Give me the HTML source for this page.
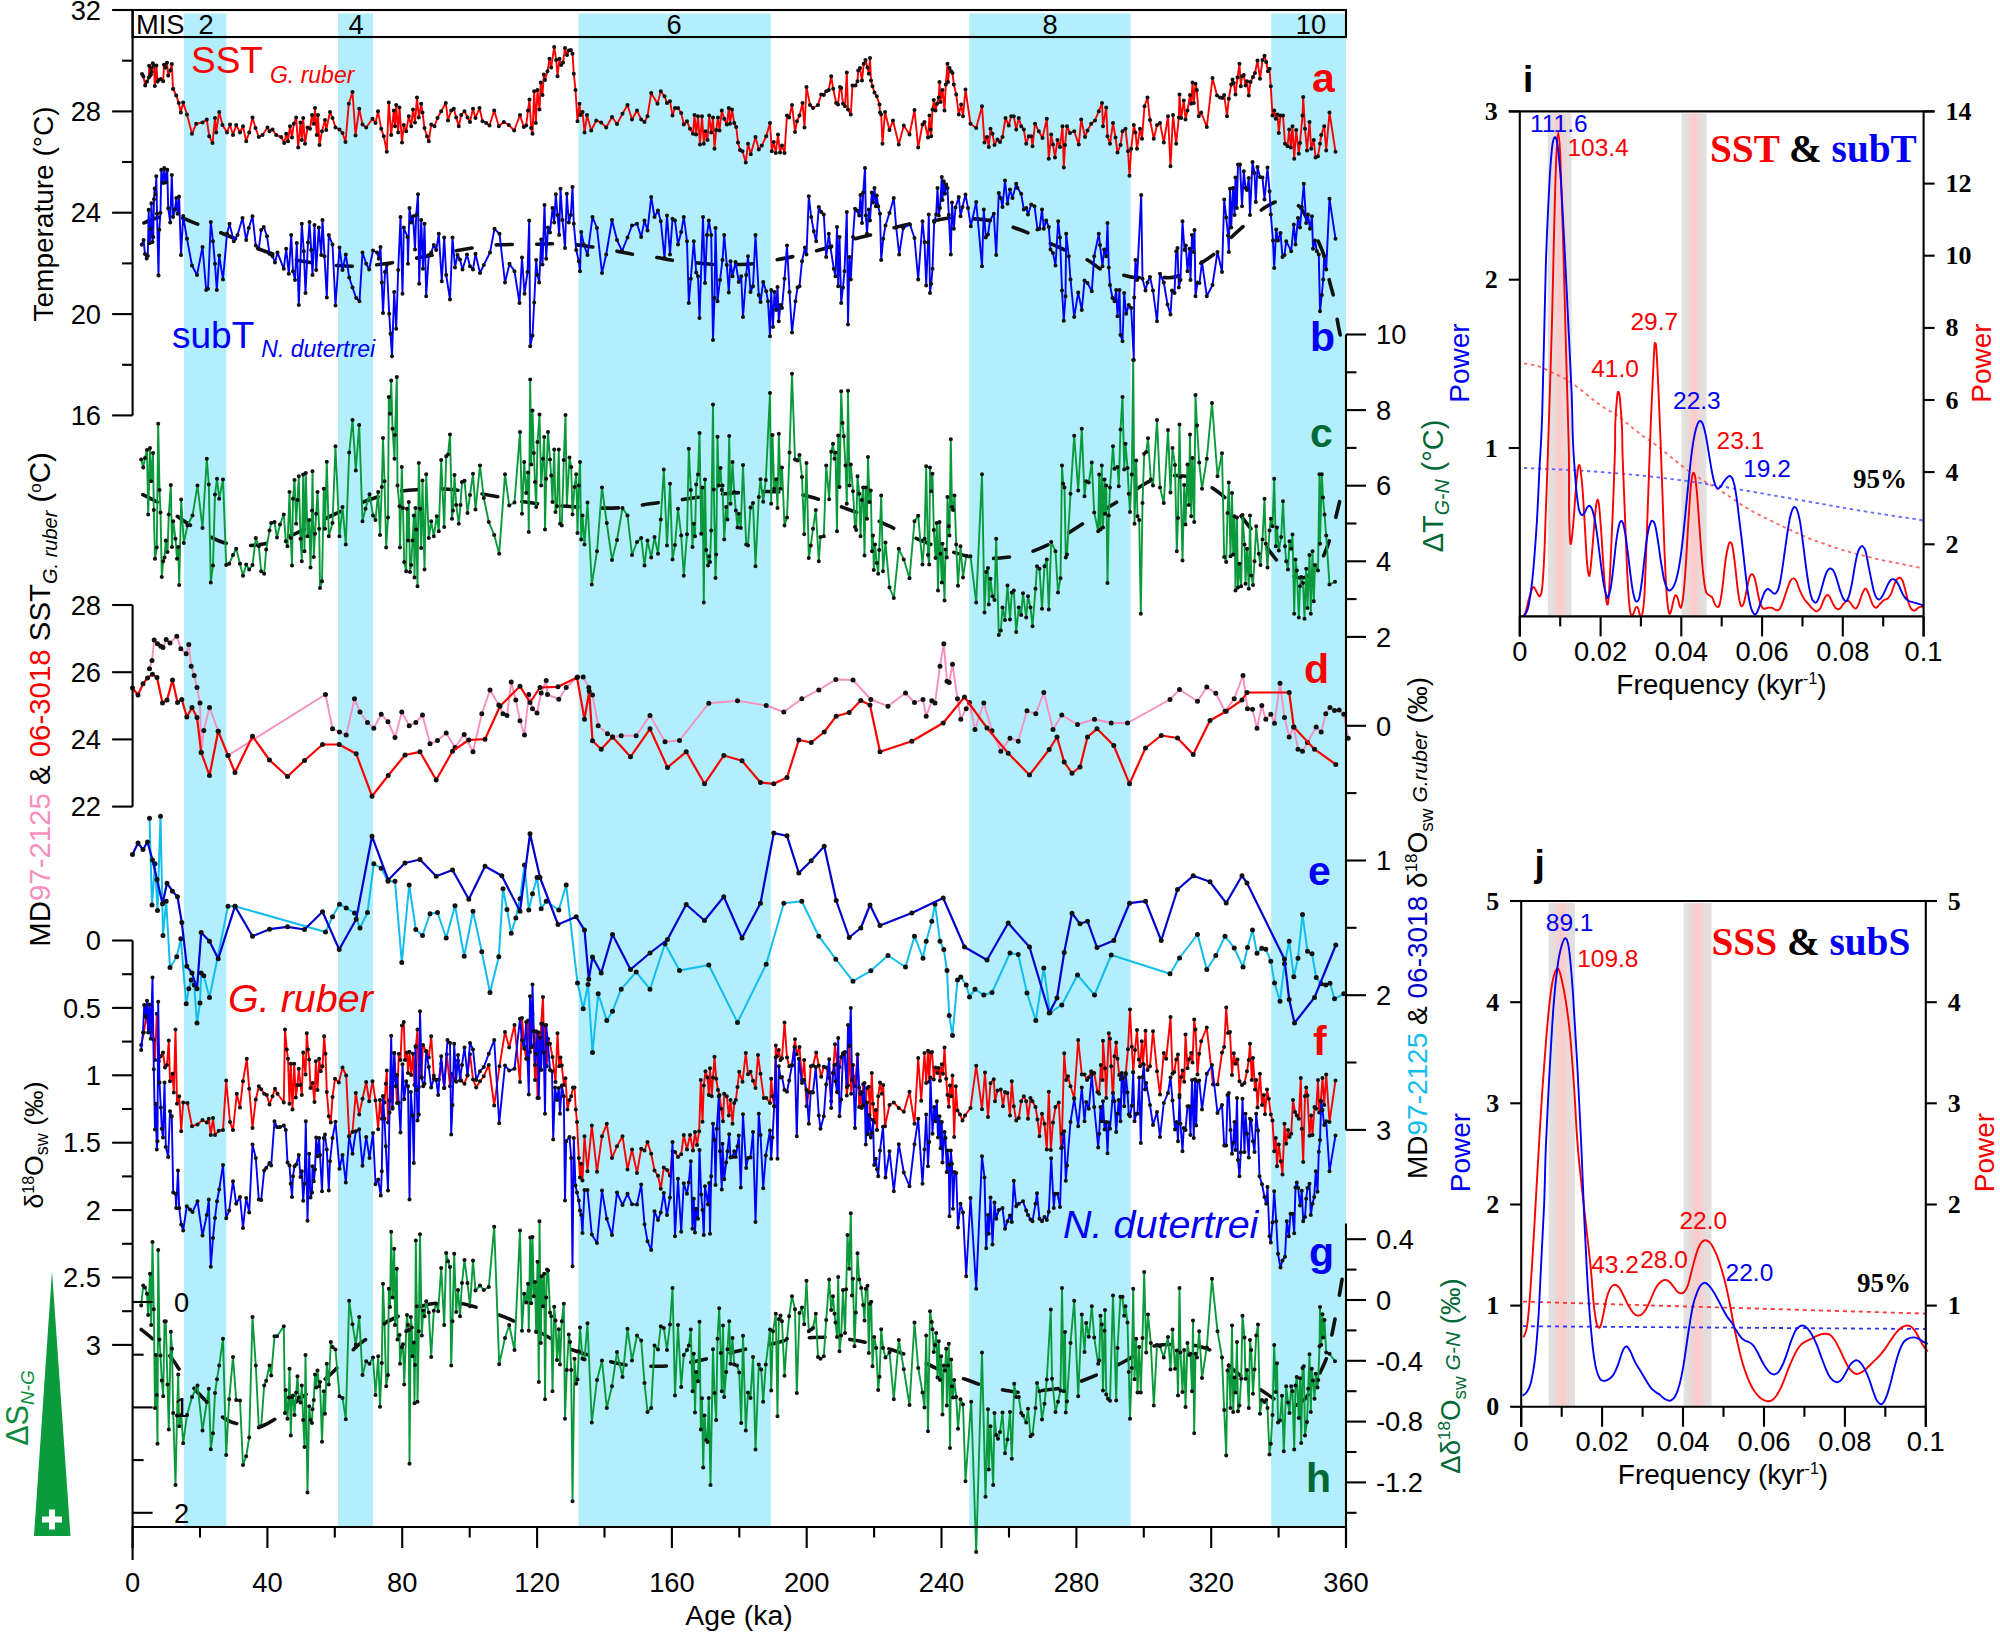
<!DOCTYPE html>
<html><head><meta charset="utf-8"><title>Figure</title><style>html,body{margin:0;padding:0;background:#fff}svg{display:block}</style></head><body>
<svg width="2000" height="1632" viewBox="0 0 2000 1632" font-family="'Liberation Sans', sans-serif" fill="#000">
<rect width="2000" height="1632" fill="#fff"/>
<rect x="184.0" y="13.5" width="42.4" height="1512.5" fill="#b2eefb"/>
<rect x="338.0" y="13.5" width="35.0" height="1512.5" fill="#b2eefb"/>
<rect x="578.5" y="13.5" width="192.3" height="1512.5" fill="#b2eefb"/>
<rect x="969.2" y="13.5" width="161.4" height="1512.5" fill="#b2eefb"/>
<rect x="1271.2" y="13.5" width="74.8" height="1512.5" fill="#b2eefb"/>
<path d="M141.2,223.8C146.0,222.4 160.2,215.3 170.0,215.5C179.8,215.7 189.6,221.3 200.0,225.0C210.4,228.7 222.5,233.4 232.5,237.5C242.5,241.6 250.4,246.0 260.0,249.5C269.6,253.0 280.0,256.4 290.0,258.8C300.0,261.1 309.6,262.5 320.0,263.8C330.4,265.0 341.7,266.2 352.5,266.2C363.3,266.2 373.8,265.2 385.0,263.8C396.2,262.3 407.9,259.7 420.0,257.5C432.1,255.3 445.0,252.6 457.5,250.5C470.0,248.4 482.9,246.0 495.0,245.0C507.1,244.0 520.0,244.7 530.0,244.5C540.0,244.3 546.2,243.6 555.0,243.8C563.8,243.9 572.2,244.2 582.5,245.5C592.8,246.8 608.5,249.8 617.0,251.2C625.5,252.8 627.1,253.5 633.8,254.5C640.4,255.5 650.3,256.5 657.0,257.5C663.7,258.5 666.9,259.6 673.8,260.5C680.6,261.4 691.3,262.3 698.0,263.0C704.7,263.7 707.4,264.2 713.8,264.5C720.1,264.8 729.7,264.6 736.2,264.5C742.8,264.4 746.0,264.6 753.0,263.8C760.0,262.9 771.1,260.8 778.0,259.5C784.9,258.2 787.9,257.8 794.5,256.2C801.1,254.8 811.0,252.3 817.5,250.5C824.0,248.7 827.5,247.5 833.8,245.5C840.0,243.5 848.5,240.6 855.0,238.8C861.5,236.9 865.8,236.4 872.5,234.5C879.2,232.6 888.5,229.3 895.0,227.5C901.5,225.7 904.6,224.9 911.2,223.8C917.9,222.6 928.5,221.5 935.0,220.5C941.5,219.5 943.8,218.3 950.0,218.0C956.2,217.7 965.2,218.2 972.5,218.8C979.8,219.3 986.9,219.8 993.8,221.2C1000.6,222.7 1007.7,225.4 1013.8,227.5C1019.8,229.6 1023.8,231.0 1030.0,233.8C1036.2,236.5 1045.6,241.1 1051.2,243.8C1056.9,246.4 1057.7,246.8 1063.8,249.5C1069.8,252.2 1081.0,256.6 1087.5,260.0C1094.0,263.4 1096.2,267.4 1102.5,270.0C1108.8,272.6 1119.6,274.2 1125.0,275.5C1130.4,276.8 1129.2,277.2 1135.0,277.5C1140.8,277.8 1152.9,277.7 1160.0,277.5C1167.1,277.3 1170.5,278.8 1177.5,276.2C1184.5,273.8 1195.3,266.7 1202.0,262.5C1208.7,258.3 1212.4,255.6 1217.5,251.2C1222.6,246.9 1227.7,240.8 1232.5,236.2C1237.3,231.7 1241.2,228.3 1246.2,223.8C1251.3,219.2 1257.7,212.5 1263.0,208.8C1268.3,205.0 1273.5,202.3 1278.0,201.2C1282.5,200.2 1286.3,201.5 1290.0,202.5C1293.7,203.5 1297.1,204.1 1300.0,207.0C1302.9,209.9 1304.4,214.1 1307.5,220.0C1310.6,225.9 1315.8,236.0 1318.8,242.5C1321.7,249.0 1323.2,252.3 1325.0,258.8C1326.8,265.2 1328.0,274.8 1329.5,281.2C1331.0,287.7 1332.4,290.8 1333.8,297.5C1335.1,304.2 1336.4,314.8 1337.5,321.2C1338.6,327.7 1340.0,333.8 1340.5,336.2" fill="none" stroke="#111" stroke-width="3.6" stroke-linecap="round" stroke-dasharray="16 24.4" stroke-dashoffset="37.5"/>
<path d="M141.2,493.8C144.4,495.4 153.1,499.4 160.0,503.8C166.9,508.1 175.4,515.2 182.5,520.0C189.6,524.8 195.4,528.7 202.5,532.5C209.6,536.3 217.3,540.8 225.0,543.0C232.7,545.2 241.2,545.6 248.8,545.5C256.2,545.4 262.3,544.5 270.0,542.5C277.7,540.5 286.7,537.3 295.0,533.8C303.3,530.2 311.7,525.3 320.0,521.2C328.3,517.2 336.7,513.1 345.0,509.5C353.3,505.9 361.7,502.4 370.0,499.5C378.3,496.6 386.7,493.7 395.0,492.0C403.3,490.3 411.7,490.0 420.0,489.5C428.3,489.0 436.7,488.6 445.0,489.0C453.3,489.4 461.7,490.8 470.0,492.0C478.3,493.2 486.7,494.7 495.0,496.2C503.3,497.8 511.7,499.9 520.0,501.2C528.3,502.6 536.7,503.6 545.0,504.5C553.3,505.4 561.7,505.9 570.0,506.5C578.3,507.1 585.8,507.8 595.0,508.0C604.2,508.2 615.8,508.2 625.0,507.5C634.2,506.8 641.7,504.9 650.0,503.8C658.3,502.6 666.7,501.6 675.0,500.5C683.3,499.4 691.7,498.1 700.0,497.0C708.3,495.9 716.7,494.6 725.0,493.8C733.3,492.9 741.7,492.3 750.0,492.0C758.3,491.7 766.7,491.3 775.0,491.8C783.3,492.2 791.7,492.9 800.0,494.5C808.3,496.1 816.7,498.7 825.0,501.2C833.3,503.8 841.7,507.0 850.0,510.0C858.3,513.0 866.7,516.0 875.0,519.5C883.3,523.0 891.7,527.5 900.0,531.2C908.3,535.0 916.7,538.7 925.0,542.0C933.3,545.3 941.7,548.7 950.0,551.2C958.3,553.8 966.7,556.4 975.0,557.5C983.3,558.6 991.7,558.6 1000.0,558.0C1008.3,557.4 1016.7,556.1 1025.0,553.8C1033.3,551.4 1041.7,547.9 1050.0,543.8C1058.3,539.6 1066.7,534.0 1075.0,528.8C1083.3,523.5 1091.7,517.8 1100.0,512.5C1108.3,507.2 1116.7,502.2 1125.0,497.0C1133.3,491.8 1141.7,484.8 1150.0,481.2C1158.3,477.7 1167.5,475.9 1175.0,475.5C1182.5,475.1 1188.8,476.7 1195.0,478.8C1201.2,480.8 1206.7,484.0 1212.5,488.0C1218.3,492.0 1223.8,495.9 1230.0,502.5C1236.2,509.1 1244.2,520.4 1250.0,527.5C1255.8,534.6 1260.4,539.4 1265.0,545.0C1269.6,550.6 1273.3,556.5 1277.5,561.2C1281.7,566.0 1285.8,571.0 1290.0,573.8C1294.2,576.5 1298.3,578.6 1302.5,578.0C1306.7,577.4 1311.2,574.2 1315.0,570.0C1318.8,565.8 1322.1,559.2 1325.0,552.5C1327.9,545.8 1330.0,538.8 1332.5,530.0C1335.0,521.2 1338.8,505.0 1340.0,500.0" fill="none" stroke="#111" stroke-width="3.6" stroke-linecap="round" stroke-dasharray="16 24.4" stroke-dashoffset="38.4"/>
<path d="M141.2,1329.5C143.1,1331.0 147.7,1334.3 152.5,1338.8C157.3,1343.2 164.6,1349.8 170.0,1356.2C175.4,1362.7 179.6,1370.6 185.0,1377.5C190.4,1384.4 196.0,1390.8 202.5,1397.5C209.0,1404.2 217.5,1413.5 223.8,1418.0C230.0,1422.5 234.4,1422.9 240.0,1424.5C245.6,1426.1 251.2,1428.7 257.5,1427.5C263.8,1426.3 271.2,1421.7 277.5,1417.5C283.8,1413.3 289.2,1407.2 295.0,1402.5C300.8,1397.8 306.2,1394.5 312.5,1389.5C318.8,1384.5 325.4,1379.4 332.5,1372.5C339.6,1365.6 348.8,1354.0 355.0,1348.0C361.2,1342.0 365.2,1340.3 370.0,1336.2C374.8,1332.2 378.3,1327.4 383.8,1323.8C389.2,1320.1 396.2,1317.4 402.5,1314.5C408.8,1311.6 415.2,1308.2 421.2,1306.2C427.3,1304.3 431.9,1303.4 438.8,1303.0C445.6,1302.6 455.4,1302.8 462.5,1303.8C469.6,1304.7 474.8,1306.8 481.2,1308.8C487.7,1310.8 494.8,1313.2 501.2,1315.8C507.7,1318.2 513.5,1321.0 520.0,1323.8C526.5,1326.5 533.3,1329.2 540.0,1332.5C546.7,1335.8 554.2,1340.7 560.0,1343.8C565.8,1346.8 569.6,1348.7 575.0,1350.8C580.4,1352.8 586.0,1354.3 592.5,1356.2C599.0,1358.2 607.3,1361.0 613.8,1362.5C620.2,1364.0 624.5,1364.9 631.2,1365.5C638.0,1366.1 647.6,1366.2 654.5,1366.2C661.4,1366.2 665.5,1366.3 672.5,1365.5C679.5,1364.7 690.0,1362.5 696.2,1361.2C702.5,1360.0 703.7,1359.5 710.0,1358.0C716.3,1356.5 727.5,1353.7 734.2,1352.0C741.0,1350.3 744.3,1349.4 750.8,1348.0C757.2,1346.6 766.5,1345.2 773.0,1343.8C779.5,1342.3 783.3,1340.5 790.0,1339.5C796.7,1338.5 806.1,1337.8 813.0,1337.5C819.9,1337.2 824.5,1337.1 831.2,1337.5C838.0,1337.9 847.1,1339.0 853.8,1340.0C860.4,1341.0 864.8,1342.1 871.2,1343.8C877.7,1345.4 886.1,1347.9 892.5,1350.0C898.9,1352.1 903.3,1353.8 909.5,1356.2C915.7,1358.8 922.8,1361.9 929.5,1365.0C936.2,1368.1 943.7,1372.5 950.0,1375.0C956.3,1377.5 961.7,1378.1 967.5,1380.0C973.3,1381.9 978.5,1384.5 985.0,1386.2C991.5,1388.0 999.8,1389.5 1006.2,1390.5C1012.7,1391.5 1016.5,1392.7 1023.8,1392.5C1031.0,1392.3 1043.1,1390.4 1050.0,1389.5C1056.9,1388.6 1059.1,1388.7 1065.0,1387.0C1070.9,1385.3 1079.2,1382.0 1085.5,1379.5C1091.8,1377.0 1096.8,1374.8 1103.0,1372.0C1109.2,1369.2 1116.3,1365.8 1122.5,1362.5C1128.7,1359.2 1134.4,1355.3 1140.0,1352.5C1145.6,1349.7 1150.0,1346.8 1156.2,1345.5C1162.5,1344.2 1170.4,1344.4 1177.5,1344.5C1184.6,1344.6 1192.5,1344.8 1198.8,1346.2C1205.0,1347.7 1209.0,1348.8 1215.0,1353.0C1221.0,1357.2 1229.2,1366.3 1235.0,1371.2C1240.8,1376.2 1244.9,1378.9 1250.0,1382.5C1255.1,1386.1 1260.5,1389.7 1265.5,1393.0C1270.5,1396.3 1275.5,1400.3 1280.0,1402.5C1284.5,1404.7 1288.5,1406.7 1292.5,1406.2C1296.5,1405.8 1300.4,1403.1 1303.8,1400.0C1307.1,1396.9 1309.4,1392.9 1312.5,1387.5C1315.6,1382.1 1319.9,1373.3 1322.5,1367.5C1325.1,1361.7 1325.7,1361.7 1328.0,1352.5C1330.3,1343.3 1333.8,1325.6 1336.2,1312.5C1338.8,1299.4 1341.9,1280.2 1343.0,1273.8" fill="none" stroke="#111" stroke-width="3.6" stroke-linecap="round" stroke-dasharray="16 24.4" stroke-dashoffset="1.4"/>
<polyline points="142.0,74.0 143.4,76.4 145.2,85.4 147.0,81.6 148.8,77.6 149.2,65.8 150.0,76.0 151.0,74.4 151.2,68.0 151.6,72.0 152.8,63.2 154.0,65.6 154.8,86.0 156.4,65.6 157.6,81.6 158.8,80.0 160.8,79.0 163.2,81.2 164.0,64.8 165.6,67.6 167.0,62.8 168.2,75.6 170.4,70.2 171.8,64.0 173.0,89.0 173.2,88.8 176.2,95.5 178.8,103.0 180.8,112.5 183.2,102.5 187.0,114.5 192.0,133.8 196.2,123.8 202.5,122.5 206.8,119.5 209.2,136.2 212.5,143.0 215.0,118.0 216.2,132.5 219.2,112.0 222.5,125.0 227.0,132.5 230.0,124.5 233.0,135.0 236.2,125.0 240.0,132.5 243.0,126.2 246.2,141.2 249.2,132.5 252.5,117.5 255.5,128.0 258.8,137.0 262.5,135.0 267.5,127.5 269.5,131.2 272.5,129.5 276.2,135.0 281.2,137.0 284.2,143.0 286.2,133.8 288.0,141.2 290.0,126.2 292.0,137.5 293.8,123.8 296.2,117.5 298.2,147.5 300.5,122.5 301.8,140.0 303.2,118.0 305.0,143.8 307.5,127.5 310.0,128.8 312.0,115.0 313.8,123.8 315.0,108.0 316.8,135.0 318.0,115.0 319.5,145.0 322.0,131.2 325.0,120.0 326.2,130.0 330.0,112.0 332.5,118.0 335.5,127.5 339.5,129.5 342.5,133.0 345.5,142.0 348.8,103.8 352.5,92.0 355.5,135.5 359.2,108.8 362.5,124.5 366.2,127.5 372.5,118.8 375.5,123.0 378.0,111.2 381.2,128.8 383.8,136.2 386.8,151.8 388.8,102.5 391.2,135.0 393.8,110.5 395.0,126.2 396.2,105.0 398.2,132.5 399.5,107.5 402.0,142.5 403.8,125.0 406.2,131.2 408.8,116.2 411.2,126.2 413.0,109.5 415.0,122.5 417.0,97.5 418.8,117.5 421.2,103.8 422.5,112.5 424.5,128.0 427.0,136.2 428.8,141.2 431.2,124.5 434.5,126.2 437.5,118.0 441.2,111.2 445.8,103.0 448.0,120.5 451.2,110.5 453.8,108.8 456.2,117.5 458.8,126.2 461.2,115.0 464.5,111.2 467.5,117.5 470.0,122.0 473.0,108.8 475.5,118.0 479.5,108.0 482.5,121.2 486.2,123.0 489.5,125.5 494.2,110.5 498.8,126.2 503.8,122.0 508.8,125.0 514.2,130.5 520.0,115.0 523.8,127.0 526.2,125.5 528.0,110.5 529.5,99.5 531.2,128.0 532.5,133.8 534.2,91.2 535.8,123.0 537.5,90.0 539.5,109.5 540.8,82.5 542.5,95.0 543.8,74.5 545.0,80.0 547.5,71.2 549.5,58.8 551.2,67.5 554.2,47.0 556.2,60.0 557.5,76.2 559.5,58.8 561.2,65.0 563.0,62.5 565.0,48.0 567.0,55.0 568.8,50.5 570.8,50.0 572.5,53.8 573.8,73.8 575.5,90.0 577.5,121.2 579.5,103.8 580.5,115.0 582.5,112.0 584.5,132.5 587.0,115.0 591.2,130.5 596.2,120.5 601.2,122.5 606.2,127.5 612.0,117.0 617.0,124.0 622.5,113.8 627.5,105.0 632.0,119.5 637.0,110.5 641.2,119.5 644.5,122.0 647.5,116.2 651.2,93.0 657.5,103.8 660.8,91.2 664.5,96.2 667.0,103.0 670.0,101.2 672.5,115.5 675.0,108.0 678.0,108.0 681.2,113.0 683.8,124.5 687.0,121.2 690.0,128.8 693.0,133.8 694.5,115.0 696.2,134.5 698.0,116.2 700.0,144.5 702.0,116.2 703.8,143.8 705.5,131.2 707.5,140.0 709.2,115.5 711.2,132.5 713.0,117.5 714.5,148.8 716.2,130.0 718.0,117.5 719.5,130.5 721.8,110.5 724.2,118.8 726.8,124.5 728.8,108.0 730.0,123.8 732.0,109.5 734.2,123.0 736.2,127.0 738.0,142.5 740.0,150.0 742.5,151.2 745.8,162.5 748.0,143.8 750.8,154.2 755.5,137.0 758.8,149.5 761.8,145.5 766.2,136.2 770.0,123.0 771.8,151.2 773.8,142.0 775.8,153.0 778.0,134.5 780.0,152.5 782.0,145.5 784.5,153.0 787.0,115.5 789.2,117.5 792.0,105.0 795.0,132.0 797.0,121.2 799.5,115.5 802.5,103.0 804.5,127.5 806.5,87.0 810.0,105.0 813.0,108.0 818.0,105.0 821.2,94.5 823.8,95.0 826.2,91.2 828.8,90.0 831.2,76.2 833.2,88.8 836.2,103.0 838.0,104.5 840.0,87.0 841.2,88.0 843.0,103.8 845.0,106.2 846.8,72.5 848.0,109.5 850.8,114.5 852.5,85.5 855.5,85.5 857.5,81.2 858.2,70.5 860.0,68.0 862.0,80.5 863.8,63.8 865.5,60.0 867.5,67.5 868.8,73.8 870.0,58.0 871.0,80.5 872.5,86.2 874.5,92.5 876.8,96.2 879.5,104.5 880.0,112.5 881.2,114.5 882.5,143.8 885.0,112.0 889.5,130.0 893.0,120.5 898.8,144.5 903.8,125.5 909.5,134.5 914.5,110.0 918.2,147.5 922.5,124.5 924.5,122.0 928.0,137.5 929.5,115.5 930.5,129.5 931.2,136.2 932.5,109.5 933.8,100.0 935.5,110.5 937.0,103.8 938.8,97.5 939.5,82.0 940.5,102.0 942.5,90.0 944.5,110.5 945.8,84.5 947.5,63.8 948.0,82.0 949.5,68.0 951.2,71.2 952.5,73.0 953.8,84.5 956.2,94.5 958.8,114.5 961.2,104.5 963.0,116.2 965.5,89.5 970.5,123.8 976.2,128.0 982.0,106.2 984.5,142.5 987.0,137.0 988.8,147.0 990.5,128.8 992.5,133.8 994.5,145.0 997.5,139.5 1000.0,142.0 1002.5,137.0 1005.5,118.0 1008.8,125.5 1011.2,116.2 1013.8,116.2 1016.2,129.5 1018.8,118.0 1021.2,126.2 1023.8,129.5 1026.2,143.8 1028.8,136.2 1031.2,136.2 1032.5,146.2 1035.0,123.8 1038.8,131.2 1042.5,138.0 1046.8,118.8 1048.8,158.8 1051.2,134.5 1053.0,144.5 1055.0,157.5 1057.5,140.0 1060.0,147.0 1062.5,126.2 1063.8,167.5 1065.0,145.0 1067.0,126.2 1070.0,133.0 1074.2,131.2 1078.8,144.5 1081.2,119.5 1085.0,137.0 1087.5,130.5 1091.2,123.8 1095.0,120.5 1098.8,111.2 1102.0,103.0 1103.0,126.2 1106.2,107.5 1107.5,136.2 1110.0,143.8 1113.0,123.0 1115.5,137.5 1117.5,152.5 1120.5,145.0 1122.5,131.2 1125.5,128.8 1128.0,151.2 1129.5,175.8 1131.2,148.8 1133.8,125.0 1135.5,132.5 1137.0,148.8 1140.0,128.8 1142.0,138.8 1144.5,106.2 1147.5,97.5 1150.0,120.0 1153.8,138.8 1157.0,125.0 1160.0,123.0 1163.8,142.5 1168.0,116.2 1170.5,166.2 1173.0,115.0 1176.2,143.8 1178.8,117.5 1179.5,94.5 1181.2,118.0 1183.8,100.5 1185.5,119.5 1187.5,110.5 1190.0,95.0 1191.2,103.8 1192.5,82.5 1193.8,103.0 1195.5,83.8 1196.8,90.0 1198.8,116.2 1201.2,112.5 1206.8,127.0 1212.5,78.0 1217.0,95.5 1220.0,97.5 1222.5,98.0 1224.2,95.0 1227.0,116.2 1228.8,98.8 1231.2,84.5 1232.5,79.5 1233.8,83.0 1235.5,94.5 1237.5,77.5 1239.5,63.8 1240.8,86.2 1242.0,76.2 1243.8,75.0 1245.5,85.5 1247.0,81.2 1248.8,95.5 1250.5,82.0 1253.0,77.0 1255.0,73.0 1257.5,60.5 1260.0,78.8 1262.5,60.0 1264.5,55.8 1266.2,62.0 1268.0,71.2 1269.5,68.8 1270.8,86.2 1272.5,115.5 1274.2,110.5 1275.8,118.8 1277.5,114.5 1278.8,133.0 1280.5,115.5 1283.0,115.5 1285.0,143.8 1287.5,146.2 1289.2,129.5 1290.8,147.5 1292.5,126.2 1294.2,158.8 1296.2,130.0 1298.8,153.8 1300.0,143.0 1302.5,115.5 1303.2,97.0 1305.0,128.8 1307.0,150.5 1309.5,122.0 1311.2,148.8 1313.8,140.0 1315.5,157.5 1318.0,156.2 1320.0,143.8 1321.2,135.0 1324.2,126.2 1326.2,150.5 1329.5,112.5 1335.5,151.8" fill="none" stroke="#fa0000" stroke-width="1.9" stroke-linejoin="round" />
<path d="M142.0,74.0h0M143.4,76.4h0M145.2,85.4h0M147.0,81.6h0M148.8,77.6h0M149.2,65.8h0M150.0,76.0h0M151.0,74.4h0M151.2,68.0h0M151.6,72.0h0M152.8,63.2h0M154.0,65.6h0M154.8,86.0h0M156.4,65.6h0M157.6,81.6h0M158.8,80.0h0M160.8,79.0h0M163.2,81.2h0M164.0,64.8h0M165.6,67.6h0M167.0,62.8h0M168.2,75.6h0M170.4,70.2h0M171.8,64.0h0M173.0,89.0h0M173.2,88.8h0M176.2,95.5h0M178.8,103.0h0M180.8,112.5h0M183.2,102.5h0M187.0,114.5h0M192.0,133.8h0M196.2,123.8h0M202.5,122.5h0M206.8,119.5h0M209.2,136.2h0M212.5,143.0h0M215.0,118.0h0M216.2,132.5h0M219.2,112.0h0M222.5,125.0h0M227.0,132.5h0M230.0,124.5h0M233.0,135.0h0M236.2,125.0h0M240.0,132.5h0M243.0,126.2h0M246.2,141.2h0M249.2,132.5h0M252.5,117.5h0M255.5,128.0h0M258.8,137.0h0M262.5,135.0h0M267.5,127.5h0M269.5,131.2h0M272.5,129.5h0M276.2,135.0h0M281.2,137.0h0M284.2,143.0h0M286.2,133.8h0M288.0,141.2h0M290.0,126.2h0M292.0,137.5h0M293.8,123.8h0M296.2,117.5h0M298.2,147.5h0M300.5,122.5h0M301.8,140.0h0M303.2,118.0h0M305.0,143.8h0M307.5,127.5h0M310.0,128.8h0M312.0,115.0h0M313.8,123.8h0M315.0,108.0h0M316.8,135.0h0M318.0,115.0h0M319.5,145.0h0M322.0,131.2h0M325.0,120.0h0M326.2,130.0h0M330.0,112.0h0M332.5,118.0h0M335.5,127.5h0M339.5,129.5h0M342.5,133.0h0M345.5,142.0h0M348.8,103.8h0M352.5,92.0h0M355.5,135.5h0M359.2,108.8h0M362.5,124.5h0M366.2,127.5h0M372.5,118.8h0M375.5,123.0h0M378.0,111.2h0M381.2,128.8h0M383.8,136.2h0M386.8,151.8h0M388.8,102.5h0M391.2,135.0h0M393.8,110.5h0M395.0,126.2h0M396.2,105.0h0M398.2,132.5h0M399.5,107.5h0M402.0,142.5h0M403.8,125.0h0M406.2,131.2h0M408.8,116.2h0M411.2,126.2h0M413.0,109.5h0M415.0,122.5h0M417.0,97.5h0M418.8,117.5h0M421.2,103.8h0M422.5,112.5h0M424.5,128.0h0M427.0,136.2h0M428.8,141.2h0M431.2,124.5h0M434.5,126.2h0M437.5,118.0h0M441.2,111.2h0M445.8,103.0h0M448.0,120.5h0M451.2,110.5h0M453.8,108.8h0M456.2,117.5h0M458.8,126.2h0M461.2,115.0h0M464.5,111.2h0M467.5,117.5h0M470.0,122.0h0M473.0,108.8h0M475.5,118.0h0M479.5,108.0h0M482.5,121.2h0M486.2,123.0h0M489.5,125.5h0M494.2,110.5h0M498.8,126.2h0M503.8,122.0h0M508.8,125.0h0M514.2,130.5h0M520.0,115.0h0M523.8,127.0h0M526.2,125.5h0M528.0,110.5h0M529.5,99.5h0M531.2,128.0h0M532.5,133.8h0M534.2,91.2h0M535.8,123.0h0M537.5,90.0h0M539.5,109.5h0M540.8,82.5h0M542.5,95.0h0M543.8,74.5h0M545.0,80.0h0M547.5,71.2h0M549.5,58.8h0M551.2,67.5h0M554.2,47.0h0M556.2,60.0h0M557.5,76.2h0M559.5,58.8h0M561.2,65.0h0M563.0,62.5h0M565.0,48.0h0M567.0,55.0h0M568.8,50.5h0M570.8,50.0h0M572.5,53.8h0M573.8,73.8h0M575.5,90.0h0M577.5,121.2h0M579.5,103.8h0M580.5,115.0h0M582.5,112.0h0M584.5,132.5h0M587.0,115.0h0M591.2,130.5h0M596.2,120.5h0M601.2,122.5h0M606.2,127.5h0M612.0,117.0h0M617.0,124.0h0M622.5,113.8h0M627.5,105.0h0M632.0,119.5h0M637.0,110.5h0M641.2,119.5h0M644.5,122.0h0M647.5,116.2h0M651.2,93.0h0M657.5,103.8h0M660.8,91.2h0M664.5,96.2h0M667.0,103.0h0M670.0,101.2h0M672.5,115.5h0M675.0,108.0h0M678.0,108.0h0M681.2,113.0h0M683.8,124.5h0M687.0,121.2h0M690.0,128.8h0M693.0,133.8h0M694.5,115.0h0M696.2,134.5h0M698.0,116.2h0M700.0,144.5h0M702.0,116.2h0M703.8,143.8h0M705.5,131.2h0M707.5,140.0h0M709.2,115.5h0M711.2,132.5h0M713.0,117.5h0M714.5,148.8h0M716.2,130.0h0M718.0,117.5h0M719.5,130.5h0M721.8,110.5h0M724.2,118.8h0M726.8,124.5h0M728.8,108.0h0M730.0,123.8h0M732.0,109.5h0M734.2,123.0h0M736.2,127.0h0M738.0,142.5h0M740.0,150.0h0M742.5,151.2h0M745.8,162.5h0M748.0,143.8h0M750.8,154.2h0M755.5,137.0h0M758.8,149.5h0M761.8,145.5h0M766.2,136.2h0M770.0,123.0h0M771.8,151.2h0M773.8,142.0h0M775.8,153.0h0M778.0,134.5h0M780.0,152.5h0M782.0,145.5h0M784.5,153.0h0M787.0,115.5h0M789.2,117.5h0M792.0,105.0h0M795.0,132.0h0M797.0,121.2h0M799.5,115.5h0M802.5,103.0h0M804.5,127.5h0M806.5,87.0h0M810.0,105.0h0M813.0,108.0h0M818.0,105.0h0M821.2,94.5h0M823.8,95.0h0M826.2,91.2h0M828.8,90.0h0M831.2,76.2h0M833.2,88.8h0M836.2,103.0h0M838.0,104.5h0M840.0,87.0h0M841.2,88.0h0M843.0,103.8h0M845.0,106.2h0M846.8,72.5h0M848.0,109.5h0M850.8,114.5h0M852.5,85.5h0M855.5,85.5h0M857.5,81.2h0M858.2,70.5h0M860.0,68.0h0M862.0,80.5h0M863.8,63.8h0M865.5,60.0h0M867.5,67.5h0M868.8,73.8h0M870.0,58.0h0M871.0,80.5h0M872.5,86.2h0M874.5,92.5h0M876.8,96.2h0M879.5,104.5h0M880.0,112.5h0M881.2,114.5h0M882.5,143.8h0M885.0,112.0h0M889.5,130.0h0M893.0,120.5h0M898.8,144.5h0M903.8,125.5h0M909.5,134.5h0M914.5,110.0h0M918.2,147.5h0M922.5,124.5h0M924.5,122.0h0M928.0,137.5h0M929.5,115.5h0M930.5,129.5h0M931.2,136.2h0M932.5,109.5h0M933.8,100.0h0M935.5,110.5h0M937.0,103.8h0M938.8,97.5h0M939.5,82.0h0M940.5,102.0h0M942.5,90.0h0M944.5,110.5h0M945.8,84.5h0M947.5,63.8h0M948.0,82.0h0M949.5,68.0h0M951.2,71.2h0M952.5,73.0h0M953.8,84.5h0M956.2,94.5h0M958.8,114.5h0M961.2,104.5h0M963.0,116.2h0M965.5,89.5h0M970.5,123.8h0M976.2,128.0h0M982.0,106.2h0M984.5,142.5h0M987.0,137.0h0M988.8,147.0h0M990.5,128.8h0M992.5,133.8h0M994.5,145.0h0M997.5,139.5h0M1000.0,142.0h0M1002.5,137.0h0M1005.5,118.0h0M1008.8,125.5h0M1011.2,116.2h0M1013.8,116.2h0M1016.2,129.5h0M1018.8,118.0h0M1021.2,126.2h0M1023.8,129.5h0M1026.2,143.8h0M1028.8,136.2h0M1031.2,136.2h0M1032.5,146.2h0M1035.0,123.8h0M1038.8,131.2h0M1042.5,138.0h0M1046.8,118.8h0M1048.8,158.8h0M1051.2,134.5h0M1053.0,144.5h0M1055.0,157.5h0M1057.5,140.0h0M1060.0,147.0h0M1062.5,126.2h0M1063.8,167.5h0M1065.0,145.0h0M1067.0,126.2h0M1070.0,133.0h0M1074.2,131.2h0M1078.8,144.5h0M1081.2,119.5h0M1085.0,137.0h0M1087.5,130.5h0M1091.2,123.8h0M1095.0,120.5h0M1098.8,111.2h0M1102.0,103.0h0M1103.0,126.2h0M1106.2,107.5h0M1107.5,136.2h0M1110.0,143.8h0M1113.0,123.0h0M1115.5,137.5h0M1117.5,152.5h0M1120.5,145.0h0M1122.5,131.2h0M1125.5,128.8h0M1128.0,151.2h0M1129.5,175.8h0M1131.2,148.8h0M1133.8,125.0h0M1135.5,132.5h0M1137.0,148.8h0M1140.0,128.8h0M1142.0,138.8h0M1144.5,106.2h0M1147.5,97.5h0M1150.0,120.0h0M1153.8,138.8h0M1157.0,125.0h0M1160.0,123.0h0M1163.8,142.5h0M1168.0,116.2h0M1170.5,166.2h0M1173.0,115.0h0M1176.2,143.8h0M1178.8,117.5h0M1179.5,94.5h0M1181.2,118.0h0M1183.8,100.5h0M1185.5,119.5h0M1187.5,110.5h0M1190.0,95.0h0M1191.2,103.8h0M1192.5,82.5h0M1193.8,103.0h0M1195.5,83.8h0M1196.8,90.0h0M1198.8,116.2h0M1201.2,112.5h0M1206.8,127.0h0M1212.5,78.0h0M1217.0,95.5h0M1220.0,97.5h0M1222.5,98.0h0M1224.2,95.0h0M1227.0,116.2h0M1228.8,98.8h0M1231.2,84.5h0M1232.5,79.5h0M1233.8,83.0h0M1235.5,94.5h0M1237.5,77.5h0M1239.5,63.8h0M1240.8,86.2h0M1242.0,76.2h0M1243.8,75.0h0M1245.5,85.5h0M1247.0,81.2h0M1248.8,95.5h0M1250.5,82.0h0M1253.0,77.0h0M1255.0,73.0h0M1257.5,60.5h0M1260.0,78.8h0M1262.5,60.0h0M1264.5,55.8h0M1266.2,62.0h0M1268.0,71.2h0M1269.5,68.8h0M1270.8,86.2h0M1272.5,115.5h0M1274.2,110.5h0M1275.8,118.8h0M1277.5,114.5h0M1278.8,133.0h0M1280.5,115.5h0M1283.0,115.5h0M1285.0,143.8h0M1287.5,146.2h0M1289.2,129.5h0M1290.8,147.5h0M1292.5,126.2h0M1294.2,158.8h0M1296.2,130.0h0M1298.8,153.8h0M1300.0,143.0h0M1302.5,115.5h0M1303.2,97.0h0M1305.0,128.8h0M1307.0,150.5h0M1309.5,122.0h0M1311.2,148.8h0M1313.8,140.0h0M1315.5,157.5h0M1318.0,156.2h0M1320.0,143.8h0M1321.2,135.0h0M1324.2,126.2h0M1326.2,150.5h0M1329.5,112.5h0M1335.5,151.8h0" fill="none" stroke="#111" stroke-width="4.10" stroke-linecap="round"/>
<polyline points="141.8,244.6 143.6,240.1 145.0,254.0 146.7,258.5 147.8,256.0 148.7,209.9 149.6,243.3 151.0,228.8 151.4,203.4 152.5,242.0 153.2,237.1 154.0,199.3 154.7,188.6 155.6,194.2 156.3,176.2 157.0,213.7 158.5,275.4 159.3,229.8 160.5,212.8 161.3,169.9 163.0,183.0 164.3,168.0 165.6,182.4 167.3,169.9 168.2,208.3 170.2,222.5 171.8,175.1 173.1,216.9 175.0,209.4 176.3,198.0 177.6,213.7 179.1,196.5 181.0,255.1 183.2,216.1 187.0,238.8 192.0,265.5 197.0,275.0 202.5,247.0 206.2,290.0 208.0,288.8 210.8,222.0 213.0,241.2 215.0,263.8 216.8,290.0 219.2,255.5 223.0,279.5 227.0,233.8 229.5,223.8 233.8,241.2 237.5,235.0 242.5,218.0 246.2,240.0 248.8,228.0 252.5,216.2 255.8,245.5 258.8,248.8 261.2,230.0 263.8,227.0 267.0,236.2 269.5,253.8 272.5,256.2 275.0,262.5 277.5,252.5 283.8,268.8 286.2,248.8 288.8,273.8 291.2,235.0 293.0,271.2 295.0,280.0 296.8,243.0 298.8,305.0 301.8,223.8 303.8,251.2 305.5,293.0 308.0,242.5 309.5,222.0 311.2,250.0 312.5,275.0 314.5,225.0 316.2,270.0 318.8,227.5 321.2,255.0 322.5,220.0 324.5,256.2 326.8,297.5 328.8,235.0 332.5,244.5 335.5,305.5 339.5,247.5 342.5,270.0 345.8,254.5 349.2,277.5 352.5,287.5 356.2,298.0 359.5,301.2 362.5,252.5 366.2,263.8 369.2,269.5 373.0,250.5 377.0,252.5 378.8,258.8 380.5,247.0 381.8,282.5 383.0,313.0 385.0,272.0 386.8,265.0 389.2,313.8 390.5,333.8 392.0,356.2 394.2,292.0 396.2,328.8 398.2,270.0 400.5,217.0 402.5,293.8 403.8,227.5 407.5,237.0 408.0,263.8 409.5,208.0 411.2,222.5 413.0,216.2 415.0,249.5 416.2,215.0 418.0,194.2 419.2,283.8 421.2,220.0 423.0,268.8 424.5,223.8 426.2,296.2 428.8,255.0 431.2,252.5 433.8,245.0 436.2,250.0 438.8,233.8 441.8,281.2 444.2,237.5 446.2,275.0 450.0,299.5 452.5,237.5 455.0,267.5 457.5,255.0 460.0,259.5 462.5,269.5 467.0,254.5 470.0,266.2 473.0,269.5 475.5,253.8 480.0,273.0 483.8,265.0 490.0,252.5 494.5,228.8 499.5,233.8 505.0,282.5 509.5,263.8 514.5,271.2 519.5,303.0 522.0,257.5 524.5,293.8 527.5,272.0 529.2,220.5 530.2,346.2 532.5,335.5 534.2,302.5 536.2,260.0 537.5,275.0 539.2,282.5 541.2,239.5 542.5,264.5 544.5,205.0 546.2,258.8 548.0,227.5 550.0,232.5 552.5,208.0 554.2,222.5 555.8,194.2 557.5,215.0 559.2,235.0 560.5,188.8 562.5,220.0 565.0,248.0 566.8,193.8 568.8,222.5 570.8,215.0 572.5,187.0 573.8,223.8 576.2,250.0 578.8,261.2 580.0,271.2 581.2,232.0 583.8,244.5 587.5,255.0 592.5,217.0 597.0,228.0 602.0,273.0 606.2,254.5 612.0,220.0 617.0,240.0 622.0,251.2 627.5,237.5 632.0,225.5 637.0,223.8 641.2,237.0 644.5,220.5 647.5,230.5 651.2,197.0 654.5,217.0 658.0,210.5 660.8,221.2 664.5,258.0 667.0,215.5 670.0,254.5 672.5,218.8 675.0,220.5 678.0,244.5 681.2,232.0 683.8,217.0 687.0,241.2 688.8,303.0 690.8,278.8 693.8,241.2 696.2,272.5 698.0,276.2 699.5,318.0 703.0,217.0 705.0,283.0 707.0,235.0 708.8,220.5 711.2,235.0 713.0,340.0 714.5,298.0 715.5,228.0 717.5,301.2 720.0,280.0 722.5,260.0 724.2,235.0 726.8,265.0 728.8,292.5 730.5,261.2 732.5,276.2 735.5,262.0 738.8,282.0 741.2,276.2 743.0,317.0 746.2,275.0 748.0,256.2 750.5,292.0 753.0,286.2 755.5,235.0 758.8,295.0 760.5,302.0 763.2,282.0 766.2,291.2 768.0,301.2 770.0,336.2 771.2,290.0 773.0,327.0 774.5,292.0 776.2,310.0 777.5,287.0 778.8,321.2 780.5,305.0 782.0,308.0 784.5,278.8 787.0,245.5 789.5,292.0 792.0,332.5 795.5,301.2 797.5,287.5 799.5,286.2 802.0,261.2 805.0,247.5 806.5,254.5 808.8,196.2 811.2,217.0 813.8,231.2 816.2,241.2 818.8,207.0 821.2,212.0 823.8,214.5 826.2,257.0 828.8,233.8 830.5,247.5 833.8,268.8 835.5,276.2 837.0,227.0 838.2,286.2 839.5,237.0 841.2,303.0 843.0,287.5 844.5,271.2 846.8,212.0 848.0,324.5 849.5,257.0 850.8,279.5 853.0,237.0 855.0,208.8 857.0,210.5 859.2,215.5 860.5,195.0 862.0,223.0 863.2,192.5 865.0,168.0 865.8,215.5 867.0,233.8 868.8,209.5 870.0,220.5 871.8,192.5 873.0,202.5 874.5,188.0 875.8,206.2 876.8,195.5 878.2,206.2 880.0,213.8 881.2,260.0 883.2,238.8 885.5,225.5 889.5,213.0 893.8,198.0 896.2,227.5 899.2,254.5 903.2,228.0 910.0,224.5 914.5,238.0 918.2,279.5 922.5,221.2 924.5,242.0 926.2,285.5 928.0,242.5 928.8,214.5 930.0,293.0 931.2,283.8 932.5,268.8 934.2,222.0 936.2,214.5 937.5,188.0 938.8,215.5 940.0,208.0 941.8,177.0 942.5,200.0 943.8,181.2 945.0,193.8 946.2,184.5 947.5,188.0 948.8,215.0 950.8,254.5 952.0,202.5 953.8,228.8 955.5,207.5 958.8,197.0 960.5,216.2 962.5,207.0 965.5,194.5 968.0,208.0 970.8,226.2 976.2,202.0 982.0,266.2 983.8,209.5 985.8,237.5 988.0,234.5 990.0,220.5 993.8,213.8 996.2,255.0 998.8,193.0 1000.8,198.0 1002.5,207.0 1005.0,180.5 1007.5,203.8 1010.0,189.5 1012.5,198.0 1016.2,183.8 1017.5,188.0 1021.2,193.8 1023.8,209.5 1026.2,208.0 1028.0,214.5 1031.2,204.5 1034.5,206.2 1037.5,229.5 1039.5,228.8 1042.0,209.5 1043.8,228.8 1046.2,220.5 1048.8,227.0 1050.5,249.5 1053.0,253.0 1055.5,265.5 1058.2,221.2 1060.0,237.5 1062.0,290.5 1063.8,320.8 1065.5,296.2 1066.2,233.8 1068.8,256.2 1070.5,279.5 1074.2,317.0 1078.2,292.5 1081.8,310.0 1084.5,280.5 1087.5,283.0 1091.8,291.2 1094.2,256.2 1098.8,233.8 1100.0,245.0 1102.5,266.2 1104.2,249.5 1106.2,256.2 1107.5,223.0 1108.8,267.5 1110.0,285.0 1112.5,298.0 1114.5,301.2 1116.2,290.0 1117.5,316.2 1119.5,290.0 1120.5,335.0 1122.5,341.2 1124.2,293.0 1126.2,313.8 1128.8,305.0 1131.2,308.0 1133.8,360.0 1134.2,297.5 1135.5,260.0 1137.0,280.0 1141.2,195.0 1142.5,278.8 1145.5,290.5 1147.5,282.5 1150.0,277.0 1153.0,290.5 1157.0,321.2 1160.0,273.8 1163.8,282.5 1167.5,304.5 1170.5,314.5 1172.0,290.5 1174.5,293.0 1176.2,251.2 1177.5,248.0 1178.8,287.5 1180.5,280.0 1182.5,221.2 1184.5,250.0 1185.8,245.5 1187.5,271.2 1189.5,248.8 1190.5,280.0 1192.0,235.0 1193.8,252.0 1194.5,230.0 1195.5,296.2 1197.5,282.5 1199.5,283.0 1202.0,262.0 1206.8,296.2 1212.5,285.0 1217.5,252.0 1222.0,272.0 1224.2,199.5 1226.2,217.5 1228.0,235.5 1228.8,252.0 1230.0,188.8 1231.2,227.5 1233.0,188.0 1234.5,215.0 1235.5,177.5 1236.8,208.0 1238.0,164.5 1240.0,164.5 1242.0,206.2 1243.8,171.2 1245.5,188.0 1247.0,190.0 1248.8,178.0 1250.0,215.0 1252.5,162.0 1254.5,173.0 1255.8,202.0 1257.5,167.0 1260.0,177.0 1262.5,177.5 1264.5,199.5 1267.5,167.5 1269.5,191.2 1270.8,214.5 1273.0,240.5 1274.2,268.0 1276.2,229.5 1278.0,240.5 1280.5,233.0 1282.5,257.0 1284.5,255.0 1286.2,241.2 1291.2,251.2 1293.8,224.5 1295.5,244.5 1298.0,218.0 1300.0,227.5 1301.8,207.0 1303.8,183.8 1306.2,223.0 1308.0,214.5 1310.0,228.8 1312.0,216.2 1313.0,248.8 1315.0,240.5 1316.8,251.2 1318.8,254.5 1320.0,311.2 1321.8,295.0 1323.2,279.5 1324.2,256.2 1326.2,269.5 1329.5,198.8 1335.5,238.8" fill="none" stroke="#0000f5" stroke-width="1.9" stroke-linejoin="round" />
<path d="M141.8,244.6h0M143.6,240.1h0M145.0,254.0h0M146.7,258.5h0M147.8,256.0h0M148.7,209.9h0M149.6,243.3h0M151.0,228.8h0M151.4,203.4h0M152.5,242.0h0M153.2,237.1h0M154.0,199.3h0M154.7,188.6h0M155.6,194.2h0M156.3,176.2h0M157.0,213.7h0M158.5,275.4h0M159.3,229.8h0M160.5,212.8h0M161.3,169.9h0M163.0,183.0h0M164.3,168.0h0M165.6,182.4h0M167.3,169.9h0M168.2,208.3h0M170.2,222.5h0M171.8,175.1h0M173.1,216.9h0M175.0,209.4h0M176.3,198.0h0M177.6,213.7h0M179.1,196.5h0M181.0,255.1h0M183.2,216.1h0M187.0,238.8h0M192.0,265.5h0M197.0,275.0h0M202.5,247.0h0M206.2,290.0h0M208.0,288.8h0M210.8,222.0h0M213.0,241.2h0M215.0,263.8h0M216.8,290.0h0M219.2,255.5h0M223.0,279.5h0M227.0,233.8h0M229.5,223.8h0M233.8,241.2h0M237.5,235.0h0M242.5,218.0h0M246.2,240.0h0M248.8,228.0h0M252.5,216.2h0M255.8,245.5h0M258.8,248.8h0M261.2,230.0h0M263.8,227.0h0M267.0,236.2h0M269.5,253.8h0M272.5,256.2h0M275.0,262.5h0M277.5,252.5h0M283.8,268.8h0M286.2,248.8h0M288.8,273.8h0M291.2,235.0h0M293.0,271.2h0M295.0,280.0h0M296.8,243.0h0M298.8,305.0h0M301.8,223.8h0M303.8,251.2h0M305.5,293.0h0M308.0,242.5h0M309.5,222.0h0M311.2,250.0h0M312.5,275.0h0M314.5,225.0h0M316.2,270.0h0M318.8,227.5h0M321.2,255.0h0M322.5,220.0h0M324.5,256.2h0M326.8,297.5h0M328.8,235.0h0M332.5,244.5h0M335.5,305.5h0M339.5,247.5h0M342.5,270.0h0M345.8,254.5h0M349.2,277.5h0M352.5,287.5h0M356.2,298.0h0M359.5,301.2h0M362.5,252.5h0M366.2,263.8h0M369.2,269.5h0M373.0,250.5h0M377.0,252.5h0M378.8,258.8h0M380.5,247.0h0M381.8,282.5h0M383.0,313.0h0M385.0,272.0h0M386.8,265.0h0M389.2,313.8h0M390.5,333.8h0M392.0,356.2h0M394.2,292.0h0M396.2,328.8h0M398.2,270.0h0M400.5,217.0h0M402.5,293.8h0M403.8,227.5h0M407.5,237.0h0M408.0,263.8h0M409.5,208.0h0M411.2,222.5h0M413.0,216.2h0M415.0,249.5h0M416.2,215.0h0M418.0,194.2h0M419.2,283.8h0M421.2,220.0h0M423.0,268.8h0M424.5,223.8h0M426.2,296.2h0M428.8,255.0h0M431.2,252.5h0M433.8,245.0h0M436.2,250.0h0M438.8,233.8h0M441.8,281.2h0M444.2,237.5h0M446.2,275.0h0M450.0,299.5h0M452.5,237.5h0M455.0,267.5h0M457.5,255.0h0M460.0,259.5h0M462.5,269.5h0M467.0,254.5h0M470.0,266.2h0M473.0,269.5h0M475.5,253.8h0M480.0,273.0h0M483.8,265.0h0M490.0,252.5h0M494.5,228.8h0M499.5,233.8h0M505.0,282.5h0M509.5,263.8h0M514.5,271.2h0M519.5,303.0h0M522.0,257.5h0M524.5,293.8h0M527.5,272.0h0M529.2,220.5h0M530.2,346.2h0M532.5,335.5h0M534.2,302.5h0M536.2,260.0h0M537.5,275.0h0M539.2,282.5h0M541.2,239.5h0M542.5,264.5h0M544.5,205.0h0M546.2,258.8h0M548.0,227.5h0M550.0,232.5h0M552.5,208.0h0M554.2,222.5h0M555.8,194.2h0M557.5,215.0h0M559.2,235.0h0M560.5,188.8h0M562.5,220.0h0M565.0,248.0h0M566.8,193.8h0M568.8,222.5h0M570.8,215.0h0M572.5,187.0h0M573.8,223.8h0M576.2,250.0h0M578.8,261.2h0M580.0,271.2h0M581.2,232.0h0M583.8,244.5h0M587.5,255.0h0M592.5,217.0h0M597.0,228.0h0M602.0,273.0h0M606.2,254.5h0M612.0,220.0h0M617.0,240.0h0M622.0,251.2h0M627.5,237.5h0M632.0,225.5h0M637.0,223.8h0M641.2,237.0h0M644.5,220.5h0M647.5,230.5h0M651.2,197.0h0M654.5,217.0h0M658.0,210.5h0M660.8,221.2h0M664.5,258.0h0M667.0,215.5h0M670.0,254.5h0M672.5,218.8h0M675.0,220.5h0M678.0,244.5h0M681.2,232.0h0M683.8,217.0h0M687.0,241.2h0M688.8,303.0h0M690.8,278.8h0M693.8,241.2h0M696.2,272.5h0M698.0,276.2h0M699.5,318.0h0M703.0,217.0h0M705.0,283.0h0M707.0,235.0h0M708.8,220.5h0M711.2,235.0h0M713.0,340.0h0M714.5,298.0h0M715.5,228.0h0M717.5,301.2h0M720.0,280.0h0M722.5,260.0h0M724.2,235.0h0M726.8,265.0h0M728.8,292.5h0M730.5,261.2h0M732.5,276.2h0M735.5,262.0h0M738.8,282.0h0M741.2,276.2h0M743.0,317.0h0M746.2,275.0h0M748.0,256.2h0M750.5,292.0h0M753.0,286.2h0M755.5,235.0h0M758.8,295.0h0M760.5,302.0h0M763.2,282.0h0M766.2,291.2h0M768.0,301.2h0M770.0,336.2h0M771.2,290.0h0M773.0,327.0h0M774.5,292.0h0M776.2,310.0h0M777.5,287.0h0M778.8,321.2h0M780.5,305.0h0M782.0,308.0h0M784.5,278.8h0M787.0,245.5h0M789.5,292.0h0M792.0,332.5h0M795.5,301.2h0M797.5,287.5h0M799.5,286.2h0M802.0,261.2h0M805.0,247.5h0M806.5,254.5h0M808.8,196.2h0M811.2,217.0h0M813.8,231.2h0M816.2,241.2h0M818.8,207.0h0M821.2,212.0h0M823.8,214.5h0M826.2,257.0h0M828.8,233.8h0M830.5,247.5h0M833.8,268.8h0M835.5,276.2h0M837.0,227.0h0M838.2,286.2h0M839.5,237.0h0M841.2,303.0h0M843.0,287.5h0M844.5,271.2h0M846.8,212.0h0M848.0,324.5h0M849.5,257.0h0M850.8,279.5h0M853.0,237.0h0M855.0,208.8h0M857.0,210.5h0M859.2,215.5h0M860.5,195.0h0M862.0,223.0h0M863.2,192.5h0M865.0,168.0h0M865.8,215.5h0M867.0,233.8h0M868.8,209.5h0M870.0,220.5h0M871.8,192.5h0M873.0,202.5h0M874.5,188.0h0M875.8,206.2h0M876.8,195.5h0M878.2,206.2h0M880.0,213.8h0M881.2,260.0h0M883.2,238.8h0M885.5,225.5h0M889.5,213.0h0M893.8,198.0h0M896.2,227.5h0M899.2,254.5h0M903.2,228.0h0M910.0,224.5h0M914.5,238.0h0M918.2,279.5h0M922.5,221.2h0M924.5,242.0h0M926.2,285.5h0M928.0,242.5h0M928.8,214.5h0M930.0,293.0h0M931.2,283.8h0M932.5,268.8h0M934.2,222.0h0M936.2,214.5h0M937.5,188.0h0M938.8,215.5h0M940.0,208.0h0M941.8,177.0h0M942.5,200.0h0M943.8,181.2h0M945.0,193.8h0M946.2,184.5h0M947.5,188.0h0M948.8,215.0h0M950.8,254.5h0M952.0,202.5h0M953.8,228.8h0M955.5,207.5h0M958.8,197.0h0M960.5,216.2h0M962.5,207.0h0M965.5,194.5h0M968.0,208.0h0M970.8,226.2h0M976.2,202.0h0M982.0,266.2h0M983.8,209.5h0M985.8,237.5h0M988.0,234.5h0M990.0,220.5h0M993.8,213.8h0M996.2,255.0h0M998.8,193.0h0M1000.8,198.0h0M1002.5,207.0h0M1005.0,180.5h0M1007.5,203.8h0M1010.0,189.5h0M1012.5,198.0h0M1016.2,183.8h0M1017.5,188.0h0M1021.2,193.8h0M1023.8,209.5h0M1026.2,208.0h0M1028.0,214.5h0M1031.2,204.5h0M1034.5,206.2h0M1037.5,229.5h0M1039.5,228.8h0M1042.0,209.5h0M1043.8,228.8h0M1046.2,220.5h0M1048.8,227.0h0M1050.5,249.5h0M1053.0,253.0h0M1055.5,265.5h0M1058.2,221.2h0M1060.0,237.5h0M1062.0,290.5h0M1063.8,320.8h0M1065.5,296.2h0M1066.2,233.8h0M1068.8,256.2h0M1070.5,279.5h0M1074.2,317.0h0M1078.2,292.5h0M1081.8,310.0h0M1084.5,280.5h0M1087.5,283.0h0M1091.8,291.2h0M1094.2,256.2h0M1098.8,233.8h0M1100.0,245.0h0M1102.5,266.2h0M1104.2,249.5h0M1106.2,256.2h0M1107.5,223.0h0M1108.8,267.5h0M1110.0,285.0h0M1112.5,298.0h0M1114.5,301.2h0M1116.2,290.0h0M1117.5,316.2h0M1119.5,290.0h0M1120.5,335.0h0M1122.5,341.2h0M1124.2,293.0h0M1126.2,313.8h0M1128.8,305.0h0M1131.2,308.0h0M1133.8,360.0h0M1134.2,297.5h0M1135.5,260.0h0M1137.0,280.0h0M1141.2,195.0h0M1142.5,278.8h0M1145.5,290.5h0M1147.5,282.5h0M1150.0,277.0h0M1153.0,290.5h0M1157.0,321.2h0M1160.0,273.8h0M1163.8,282.5h0M1167.5,304.5h0M1170.5,314.5h0M1172.0,290.5h0M1174.5,293.0h0M1176.2,251.2h0M1177.5,248.0h0M1178.8,287.5h0M1180.5,280.0h0M1182.5,221.2h0M1184.5,250.0h0M1185.8,245.5h0M1187.5,271.2h0M1189.5,248.8h0M1190.5,280.0h0M1192.0,235.0h0M1193.8,252.0h0M1194.5,230.0h0M1195.5,296.2h0M1197.5,282.5h0M1199.5,283.0h0M1202.0,262.0h0M1206.8,296.2h0M1212.5,285.0h0M1217.5,252.0h0M1222.0,272.0h0M1224.2,199.5h0M1226.2,217.5h0M1228.0,235.5h0M1228.8,252.0h0M1230.0,188.8h0M1231.2,227.5h0M1233.0,188.0h0M1234.5,215.0h0M1235.5,177.5h0M1236.8,208.0h0M1238.0,164.5h0M1240.0,164.5h0M1242.0,206.2h0M1243.8,171.2h0M1245.5,188.0h0M1247.0,190.0h0M1248.8,178.0h0M1250.0,215.0h0M1252.5,162.0h0M1254.5,173.0h0M1255.8,202.0h0M1257.5,167.0h0M1260.0,177.0h0M1262.5,177.5h0M1264.5,199.5h0M1267.5,167.5h0M1269.5,191.2h0M1270.8,214.5h0M1273.0,240.5h0M1274.2,268.0h0M1276.2,229.5h0M1278.0,240.5h0M1280.5,233.0h0M1282.5,257.0h0M1284.5,255.0h0M1286.2,241.2h0M1291.2,251.2h0M1293.8,224.5h0M1295.5,244.5h0M1298.0,218.0h0M1300.0,227.5h0M1301.8,207.0h0M1303.8,183.8h0M1306.2,223.0h0M1308.0,214.5h0M1310.0,228.8h0M1312.0,216.2h0M1313.0,248.8h0M1315.0,240.5h0M1316.8,251.2h0M1318.8,254.5h0M1320.0,311.2h0M1321.8,295.0h0M1323.2,279.5h0M1324.2,256.2h0M1326.2,269.5h0M1329.5,198.8h0M1335.5,238.8h0" fill="none" stroke="#111" stroke-width="4.10" stroke-linecap="round"/>
<polyline points="141.2,459.5 143.2,467.5 145.0,458.0 147.0,450.0 148.2,514.5 150.0,448.0 151.2,481.2 153.0,453.0 153.8,510.0 155.0,558.8 156.8,547.5 158.2,423.8 159.5,490.0 160.5,512.5 161.8,577.0 163.2,561.2 164.5,557.5 165.8,540.5 167.5,552.0 168.8,514.5 170.8,485.0 172.0,547.0 173.2,521.2 175.5,538.8 177.0,558.8 178.2,547.0 179.2,585.0 181.2,499.5 183.8,543.0 187.5,525.5 192.5,515.5 197.5,485.5 202.5,528.0 206.8,458.8 208.8,484.5 210.8,582.5 213.0,565.5 215.0,494.5 217.0,478.8 219.2,498.8 223.0,479.5 226.2,565.0 229.2,563.8 233.0,555.0 236.2,548.8 240.0,563.8 243.0,575.8 246.2,564.5 249.2,569.5 252.5,565.0 255.8,538.0 258.8,546.2 261.2,571.2 264.2,573.8 266.2,549.5 269.5,530.5 271.2,523.0 274.5,522.0 277.0,537.5 280.0,524.5 283.8,514.5 285.8,541.2 287.5,546.2 289.5,492.0 290.8,538.0 292.0,565.5 293.0,498.8 294.5,480.0 296.2,523.8 297.5,500.0 298.8,476.2 300.5,538.8 301.8,561.2 303.2,474.5 304.5,551.2 305.8,473.0 307.5,536.2 309.2,520.0 310.5,567.5 312.0,510.5 312.5,471.2 313.8,557.0 315.0,533.8 316.2,513.8 317.5,492.0 319.2,528.8 320.0,588.0 322.0,581.2 323.8,488.8 325.0,528.8 326.8,461.8 328.8,536.2 332.5,523.0 335.5,446.2 339.5,536.2 342.5,507.0 345.8,544.5 349.2,452.5 352.5,420.0 355.8,470.5 359.2,425.0 362.5,521.2 365.5,508.8 369.5,494.2 373.0,515.5 375.5,520.0 378.2,492.0 380.0,535.0 381.8,487.0 383.0,438.0 384.5,481.2 386.2,547.5 388.0,517.5 388.8,397.0 390.0,413.8 391.2,380.5 392.5,428.8 394.5,458.8 395.0,435.0 396.8,377.0 397.5,485.5 399.5,506.2 400.0,547.5 401.8,467.0 403.0,508.0 404.2,562.0 406.2,571.2 407.0,508.8 408.0,540.5 408.8,502.0 410.0,572.0 411.2,565.0 412.5,540.5 413.8,515.5 414.5,577.5 415.5,508.0 416.2,529.5 417.5,586.2 418.8,463.0 420.0,508.8 421.2,548.0 422.5,480.5 424.5,569.5 426.2,474.2 428.8,538.0 431.2,521.2 433.8,536.2 436.8,516.2 438.8,531.2 441.2,460.0 444.2,527.0 446.2,456.2 448.0,454.5 450.0,434.5 452.0,518.8 453.0,510.5 454.5,475.0 456.2,505.0 458.8,523.8 460.5,505.0 462.0,482.0 464.5,480.8 467.5,513.0 470.0,495.0 473.0,473.8 475.5,509.5 480.0,465.5 483.8,498.0 488.8,522.0 494.2,535.0 499.2,553.8 505.0,474.2 509.2,505.5 514.5,502.5 520.0,432.0 522.0,513.8 524.2,462.0 526.2,493.0 528.0,472.5 528.8,532.0 530.2,379.5 531.2,464.5 532.5,410.5 533.8,453.0 535.0,482.0 536.2,507.0 537.5,442.0 539.5,414.5 541.2,485.5 543.0,458.8 544.2,437.0 545.0,529.5 546.2,478.8 548.0,432.0 550.0,459.5 551.2,475.5 552.5,502.0 554.2,449.5 555.5,512.0 557.0,506.2 558.8,449.5 560.0,523.8 561.8,525.5 563.8,460.0 565.5,415.0 566.8,506.2 569.5,457.5 571.2,467.0 572.5,514.5 574.5,487.0 576.2,474.2 577.5,533.0 578.8,485.5 580.0,462.0 581.2,539.5 582.5,515.5 584.5,544.5 587.5,502.5 591.8,584.5 597.0,551.2 602.0,487.5 606.8,523.0 612.0,560.0 617.0,540.0 622.5,508.0 627.5,515.5 632.0,555.0 637.0,542.0 641.2,538.0 644.5,565.5 647.5,540.5 651.2,557.5 654.5,537.0 658.0,553.8 660.8,519.5 663.8,469.5 667.0,545.5 670.0,483.8 672.5,559.5 675.0,545.0 678.0,508.8 681.2,535.5 683.8,575.8 687.0,534.2 688.8,448.8 690.8,490.0 692.5,547.0 693.8,523.8 695.0,536.2 696.2,484.5 698.0,474.5 699.5,433.0 701.2,533.8 702.5,487.5 703.8,602.5 705.0,479.5 706.2,550.0 708.0,565.5 709.2,556.2 710.0,562.0 711.2,530.5 713.0,404.5 713.8,489.5 715.5,578.0 716.2,554.5 717.5,436.8 718.8,485.5 720.5,468.0 721.8,490.0 722.5,485.5 724.2,539.5 726.2,507.0 727.5,519.5 729.2,436.0 730.5,503.8 732.5,462.0 734.2,492.0 735.8,510.5 737.5,527.5 738.8,513.8 740.8,528.0 743.0,465.0 746.2,544.5 748.0,545.5 750.5,507.5 753.0,503.0 755.5,566.2 758.8,497.0 760.5,479.2 763.2,501.8 765.8,480.0 770.0,393.0 771.2,503.8 772.5,435.0 774.2,488.8 776.2,479.2 777.5,508.0 778.8,433.8 780.5,488.8 782.0,467.5 784.5,525.5 787.0,517.5 789.5,452.5 792.0,373.8 795.0,459.5 797.5,460.5 799.5,455.0 802.0,477.0 804.2,534.2 806.5,463.0 808.8,558.0 810.8,545.5 813.0,528.8 815.8,510.0 818.8,561.2 820.5,537.0 823.8,536.2 826.2,465.5 829.2,499.2 831.2,451.8 833.0,443.8 834.5,458.8 835.5,452.5 837.0,531.2 838.2,435.5 839.5,487.0 841.2,391.2 842.5,423.0 843.8,436.2 845.5,465.5 846.8,503.8 848.0,390.8 849.5,485.5 850.8,464.5 853.0,491.2 855.0,527.0 856.2,530.0 857.5,476.2 859.2,493.8 860.5,536.2 861.8,500.0 863.2,487.5 864.5,555.5 865.8,487.5 867.0,518.8 868.0,457.0 869.5,502.0 870.8,490.5 872.0,551.2 873.0,535.5 873.8,570.0 875.0,544.5 876.8,563.0 878.2,573.8 879.2,550.0 881.2,495.5 883.0,571.2 885.5,542.5 889.5,587.5 893.8,598.0 898.8,548.8 903.8,559.5 909.5,578.2 914.5,521.2 918.2,515.8 922.5,564.5 924.5,538.8 926.2,466.2 928.0,555.0 929.2,564.5 930.0,467.5 931.2,491.2 932.5,473.8 933.8,530.0 935.5,558.0 936.8,523.0 938.0,590.5 939.5,522.0 940.5,553.8 941.8,582.5 942.5,543.8 944.5,600.5 945.5,549.5 946.8,557.5 947.5,497.0 948.8,526.2 949.5,535.5 950.8,439.2 952.0,507.0 953.0,510.0 954.5,495.5 956.2,544.5 958.0,585.8 960.5,546.2 963.0,577.5 966.2,555.8 970.5,556.2 976.2,602.5 982.0,474.2 984.5,612.5 986.2,572.0 988.0,568.0 988.8,604.5 990.5,578.8 992.5,596.2 994.5,600.0 996.2,538.8 998.8,635.0 1000.8,630.5 1002.5,607.5 1005.0,620.0 1007.5,585.5 1010.0,619.5 1011.8,592.5 1013.8,590.5 1016.2,632.0 1018.8,607.5 1021.2,615.0 1023.0,593.2 1026.2,617.5 1028.0,596.2 1030.5,607.5 1032.5,626.2 1035.5,588.8 1037.0,566.2 1039.5,568.8 1042.0,608.8 1044.5,566.2 1046.8,559.5 1048.8,609.5 1051.2,542.0 1055.5,551.2 1058.0,592.5 1060.5,578.2 1062.0,465.5 1063.2,483.8 1064.5,487.5 1065.8,557.5 1067.0,554.5 1070.5,493.8 1074.2,435.8 1078.2,490.5 1081.8,428.8 1084.5,496.2 1086.2,481.2 1088.8,482.5 1091.8,462.5 1094.2,512.5 1098.2,531.2 1099.2,474.5 1100.5,529.5 1101.8,465.5 1103.0,527.5 1104.5,479.5 1105.0,513.8 1106.2,485.5 1107.5,583.0 1108.8,515.5 1110.0,487.5 1113.0,446.2 1114.5,468.8 1117.5,467.0 1118.8,486.2 1120.5,429.5 1122.5,397.0 1124.2,469.5 1125.5,443.8 1127.5,468.0 1128.8,493.8 1130.0,512.0 1131.8,474.5 1133.2,360.0 1134.5,523.8 1136.2,460.5 1137.5,516.2 1139.2,520.0 1140.8,613.8 1142.5,503.0 1144.2,453.8 1146.2,452.0 1148.0,438.2 1150.8,479.5 1153.0,485.5 1157.0,420.0 1160.0,487.5 1163.8,503.0 1168.0,430.0 1170.5,492.5 1172.5,448.0 1175.0,465.0 1176.8,551.2 1178.0,518.0 1179.5,424.5 1180.5,477.0 1182.5,560.5 1184.2,485.0 1185.5,524.5 1187.5,464.5 1188.8,505.0 1190.0,434.5 1191.2,516.2 1192.5,458.0 1194.2,522.0 1195.5,395.0 1197.0,425.5 1199.2,462.5 1202.0,488.8 1206.8,458.8 1212.0,403.0 1217.5,476.2 1222.0,453.2 1224.2,557.0 1226.2,562.0 1227.5,513.0 1228.8,482.5 1230.5,556.2 1232.0,493.0 1233.2,554.5 1234.5,516.2 1235.5,590.5 1237.0,517.5 1238.0,587.5 1239.5,563.8 1241.2,586.2 1242.5,515.0 1244.5,544.5 1245.5,583.8 1247.0,548.8 1248.8,588.8 1250.0,515.5 1251.2,575.5 1253.0,585.0 1254.5,561.2 1256.2,526.2 1258.8,553.8 1260.5,565.0 1262.5,539.5 1264.5,498.8 1265.8,543.8 1267.5,567.5 1269.5,530.5 1270.8,518.8 1272.5,526.2 1274.2,478.8 1275.8,546.2 1277.0,527.5 1278.8,550.5 1281.2,537.0 1283.0,501.2 1285.0,546.2 1286.2,561.2 1288.0,569.5 1289.5,541.2 1291.2,548.8 1292.5,534.5 1294.2,613.8 1295.5,559.5 1296.8,570.5 1298.8,617.5 1300.0,586.2 1301.2,577.0 1303.0,583.0 1304.5,618.8 1306.2,568.8 1307.5,608.0 1309.5,555.0 1310.8,613.8 1312.5,551.2 1313.8,601.2 1315.0,565.0 1318.0,570.5 1319.5,474.2 1320.0,543.8 1321.8,474.2 1323.0,497.5 1324.5,514.5 1326.2,535.5 1329.5,584.5 1335.0,581.8" fill="none" stroke="#0a9a3c" stroke-width="1.9" stroke-linejoin="round" />
<path d="M141.2,459.5h0M143.2,467.5h0M145.0,458.0h0M147.0,450.0h0M148.2,514.5h0M150.0,448.0h0M151.2,481.2h0M153.0,453.0h0M153.8,510.0h0M155.0,558.8h0M156.8,547.5h0M158.2,423.8h0M159.5,490.0h0M160.5,512.5h0M161.8,577.0h0M163.2,561.2h0M164.5,557.5h0M165.8,540.5h0M167.5,552.0h0M168.8,514.5h0M170.8,485.0h0M172.0,547.0h0M173.2,521.2h0M175.5,538.8h0M177.0,558.8h0M178.2,547.0h0M179.2,585.0h0M181.2,499.5h0M183.8,543.0h0M187.5,525.5h0M192.5,515.5h0M197.5,485.5h0M202.5,528.0h0M206.8,458.8h0M208.8,484.5h0M210.8,582.5h0M213.0,565.5h0M215.0,494.5h0M217.0,478.8h0M219.2,498.8h0M223.0,479.5h0M226.2,565.0h0M229.2,563.8h0M233.0,555.0h0M236.2,548.8h0M240.0,563.8h0M243.0,575.8h0M246.2,564.5h0M249.2,569.5h0M252.5,565.0h0M255.8,538.0h0M258.8,546.2h0M261.2,571.2h0M264.2,573.8h0M266.2,549.5h0M269.5,530.5h0M271.2,523.0h0M274.5,522.0h0M277.0,537.5h0M280.0,524.5h0M283.8,514.5h0M285.8,541.2h0M287.5,546.2h0M289.5,492.0h0M290.8,538.0h0M292.0,565.5h0M293.0,498.8h0M294.5,480.0h0M296.2,523.8h0M297.5,500.0h0M298.8,476.2h0M300.5,538.8h0M301.8,561.2h0M303.2,474.5h0M304.5,551.2h0M305.8,473.0h0M307.5,536.2h0M309.2,520.0h0M310.5,567.5h0M312.0,510.5h0M312.5,471.2h0M313.8,557.0h0M315.0,533.8h0M316.2,513.8h0M317.5,492.0h0M319.2,528.8h0M320.0,588.0h0M322.0,581.2h0M323.8,488.8h0M325.0,528.8h0M326.8,461.8h0M328.8,536.2h0M332.5,523.0h0M335.5,446.2h0M339.5,536.2h0M342.5,507.0h0M345.8,544.5h0M349.2,452.5h0M352.5,420.0h0M355.8,470.5h0M359.2,425.0h0M362.5,521.2h0M365.5,508.8h0M369.5,494.2h0M373.0,515.5h0M375.5,520.0h0M378.2,492.0h0M380.0,535.0h0M381.8,487.0h0M383.0,438.0h0M384.5,481.2h0M386.2,547.5h0M388.0,517.5h0M388.8,397.0h0M390.0,413.8h0M391.2,380.5h0M392.5,428.8h0M394.5,458.8h0M395.0,435.0h0M396.8,377.0h0M397.5,485.5h0M399.5,506.2h0M400.0,547.5h0M401.8,467.0h0M403.0,508.0h0M404.2,562.0h0M406.2,571.2h0M407.0,508.8h0M408.0,540.5h0M408.8,502.0h0M410.0,572.0h0M411.2,565.0h0M412.5,540.5h0M413.8,515.5h0M414.5,577.5h0M415.5,508.0h0M416.2,529.5h0M417.5,586.2h0M418.8,463.0h0M420.0,508.8h0M421.2,548.0h0M422.5,480.5h0M424.5,569.5h0M426.2,474.2h0M428.8,538.0h0M431.2,521.2h0M433.8,536.2h0M436.8,516.2h0M438.8,531.2h0M441.2,460.0h0M444.2,527.0h0M446.2,456.2h0M448.0,454.5h0M450.0,434.5h0M452.0,518.8h0M453.0,510.5h0M454.5,475.0h0M456.2,505.0h0M458.8,523.8h0M460.5,505.0h0M462.0,482.0h0M464.5,480.8h0M467.5,513.0h0M470.0,495.0h0M473.0,473.8h0M475.5,509.5h0M480.0,465.5h0M483.8,498.0h0M488.8,522.0h0M494.2,535.0h0M499.2,553.8h0M505.0,474.2h0M509.2,505.5h0M514.5,502.5h0M520.0,432.0h0M522.0,513.8h0M524.2,462.0h0M526.2,493.0h0M528.0,472.5h0M528.8,532.0h0M530.2,379.5h0M531.2,464.5h0M532.5,410.5h0M533.8,453.0h0M535.0,482.0h0M536.2,507.0h0M537.5,442.0h0M539.5,414.5h0M541.2,485.5h0M543.0,458.8h0M544.2,437.0h0M545.0,529.5h0M546.2,478.8h0M548.0,432.0h0M550.0,459.5h0M551.2,475.5h0M552.5,502.0h0M554.2,449.5h0M555.5,512.0h0M557.0,506.2h0M558.8,449.5h0M560.0,523.8h0M561.8,525.5h0M563.8,460.0h0M565.5,415.0h0M566.8,506.2h0M569.5,457.5h0M571.2,467.0h0M572.5,514.5h0M574.5,487.0h0M576.2,474.2h0M577.5,533.0h0M578.8,485.5h0M580.0,462.0h0M581.2,539.5h0M582.5,515.5h0M584.5,544.5h0M587.5,502.5h0M591.8,584.5h0M597.0,551.2h0M602.0,487.5h0M606.8,523.0h0M612.0,560.0h0M617.0,540.0h0M622.5,508.0h0M627.5,515.5h0M632.0,555.0h0M637.0,542.0h0M641.2,538.0h0M644.5,565.5h0M647.5,540.5h0M651.2,557.5h0M654.5,537.0h0M658.0,553.8h0M660.8,519.5h0M663.8,469.5h0M667.0,545.5h0M670.0,483.8h0M672.5,559.5h0M675.0,545.0h0M678.0,508.8h0M681.2,535.5h0M683.8,575.8h0M687.0,534.2h0M688.8,448.8h0M690.8,490.0h0M692.5,547.0h0M693.8,523.8h0M695.0,536.2h0M696.2,484.5h0M698.0,474.5h0M699.5,433.0h0M701.2,533.8h0M702.5,487.5h0M703.8,602.5h0M705.0,479.5h0M706.2,550.0h0M708.0,565.5h0M709.2,556.2h0M710.0,562.0h0M711.2,530.5h0M713.0,404.5h0M713.8,489.5h0M715.5,578.0h0M716.2,554.5h0M717.5,436.8h0M718.8,485.5h0M720.5,468.0h0M721.8,490.0h0M722.5,485.5h0M724.2,539.5h0M726.2,507.0h0M727.5,519.5h0M729.2,436.0h0M730.5,503.8h0M732.5,462.0h0M734.2,492.0h0M735.8,510.5h0M737.5,527.5h0M738.8,513.8h0M740.8,528.0h0M743.0,465.0h0M746.2,544.5h0M748.0,545.5h0M750.5,507.5h0M753.0,503.0h0M755.5,566.2h0M758.8,497.0h0M760.5,479.2h0M763.2,501.8h0M765.8,480.0h0M770.0,393.0h0M771.2,503.8h0M772.5,435.0h0M774.2,488.8h0M776.2,479.2h0M777.5,508.0h0M778.8,433.8h0M780.5,488.8h0M782.0,467.5h0M784.5,525.5h0M787.0,517.5h0M789.5,452.5h0M792.0,373.8h0M795.0,459.5h0M797.5,460.5h0M799.5,455.0h0M802.0,477.0h0M804.2,534.2h0M806.5,463.0h0M808.8,558.0h0M810.8,545.5h0M813.0,528.8h0M815.8,510.0h0M818.8,561.2h0M820.5,537.0h0M823.8,536.2h0M826.2,465.5h0M829.2,499.2h0M831.2,451.8h0M833.0,443.8h0M834.5,458.8h0M835.5,452.5h0M837.0,531.2h0M838.2,435.5h0M839.5,487.0h0M841.2,391.2h0M842.5,423.0h0M843.8,436.2h0M845.5,465.5h0M846.8,503.8h0M848.0,390.8h0M849.5,485.5h0M850.8,464.5h0M853.0,491.2h0M855.0,527.0h0M856.2,530.0h0M857.5,476.2h0M859.2,493.8h0M860.5,536.2h0M861.8,500.0h0M863.2,487.5h0M864.5,555.5h0M865.8,487.5h0M867.0,518.8h0M868.0,457.0h0M869.5,502.0h0M870.8,490.5h0M872.0,551.2h0M873.0,535.5h0M873.8,570.0h0M875.0,544.5h0M876.8,563.0h0M878.2,573.8h0M879.2,550.0h0M881.2,495.5h0M883.0,571.2h0M885.5,542.5h0M889.5,587.5h0M893.8,598.0h0M898.8,548.8h0M903.8,559.5h0M909.5,578.2h0M914.5,521.2h0M918.2,515.8h0M922.5,564.5h0M924.5,538.8h0M926.2,466.2h0M928.0,555.0h0M929.2,564.5h0M930.0,467.5h0M931.2,491.2h0M932.5,473.8h0M933.8,530.0h0M935.5,558.0h0M936.8,523.0h0M938.0,590.5h0M939.5,522.0h0M940.5,553.8h0M941.8,582.5h0M942.5,543.8h0M944.5,600.5h0M945.5,549.5h0M946.8,557.5h0M947.5,497.0h0M948.8,526.2h0M949.5,535.5h0M950.8,439.2h0M952.0,507.0h0M953.0,510.0h0M954.5,495.5h0M956.2,544.5h0M958.0,585.8h0M960.5,546.2h0M963.0,577.5h0M966.2,555.8h0M970.5,556.2h0M976.2,602.5h0M982.0,474.2h0M984.5,612.5h0M986.2,572.0h0M988.0,568.0h0M988.8,604.5h0M990.5,578.8h0M992.5,596.2h0M994.5,600.0h0M996.2,538.8h0M998.8,635.0h0M1000.8,630.5h0M1002.5,607.5h0M1005.0,620.0h0M1007.5,585.5h0M1010.0,619.5h0M1011.8,592.5h0M1013.8,590.5h0M1016.2,632.0h0M1018.8,607.5h0M1021.2,615.0h0M1023.0,593.2h0M1026.2,617.5h0M1028.0,596.2h0M1030.5,607.5h0M1032.5,626.2h0M1035.5,588.8h0M1037.0,566.2h0M1039.5,568.8h0M1042.0,608.8h0M1044.5,566.2h0M1046.8,559.5h0M1048.8,609.5h0M1051.2,542.0h0M1055.5,551.2h0M1058.0,592.5h0M1060.5,578.2h0M1062.0,465.5h0M1063.2,483.8h0M1064.5,487.5h0M1065.8,557.5h0M1067.0,554.5h0M1070.5,493.8h0M1074.2,435.8h0M1078.2,490.5h0M1081.8,428.8h0M1084.5,496.2h0M1086.2,481.2h0M1088.8,482.5h0M1091.8,462.5h0M1094.2,512.5h0M1098.2,531.2h0M1099.2,474.5h0M1100.5,529.5h0M1101.8,465.5h0M1103.0,527.5h0M1104.5,479.5h0M1105.0,513.8h0M1106.2,485.5h0M1107.5,583.0h0M1108.8,515.5h0M1110.0,487.5h0M1113.0,446.2h0M1114.5,468.8h0M1117.5,467.0h0M1118.8,486.2h0M1120.5,429.5h0M1122.5,397.0h0M1124.2,469.5h0M1125.5,443.8h0M1127.5,468.0h0M1128.8,493.8h0M1130.0,512.0h0M1131.8,474.5h0M1133.2,360.0h0M1134.5,523.8h0M1136.2,460.5h0M1137.5,516.2h0M1139.2,520.0h0M1140.8,613.8h0M1142.5,503.0h0M1144.2,453.8h0M1146.2,452.0h0M1148.0,438.2h0M1150.8,479.5h0M1153.0,485.5h0M1157.0,420.0h0M1160.0,487.5h0M1163.8,503.0h0M1168.0,430.0h0M1170.5,492.5h0M1172.5,448.0h0M1175.0,465.0h0M1176.8,551.2h0M1178.0,518.0h0M1179.5,424.5h0M1180.5,477.0h0M1182.5,560.5h0M1184.2,485.0h0M1185.5,524.5h0M1187.5,464.5h0M1188.8,505.0h0M1190.0,434.5h0M1191.2,516.2h0M1192.5,458.0h0M1194.2,522.0h0M1195.5,395.0h0M1197.0,425.5h0M1199.2,462.5h0M1202.0,488.8h0M1206.8,458.8h0M1212.0,403.0h0M1217.5,476.2h0M1222.0,453.2h0M1224.2,557.0h0M1226.2,562.0h0M1227.5,513.0h0M1228.8,482.5h0M1230.5,556.2h0M1232.0,493.0h0M1233.2,554.5h0M1234.5,516.2h0M1235.5,590.5h0M1237.0,517.5h0M1238.0,587.5h0M1239.5,563.8h0M1241.2,586.2h0M1242.5,515.0h0M1244.5,544.5h0M1245.5,583.8h0M1247.0,548.8h0M1248.8,588.8h0M1250.0,515.5h0M1251.2,575.5h0M1253.0,585.0h0M1254.5,561.2h0M1256.2,526.2h0M1258.8,553.8h0M1260.5,565.0h0M1262.5,539.5h0M1264.5,498.8h0M1265.8,543.8h0M1267.5,567.5h0M1269.5,530.5h0M1270.8,518.8h0M1272.5,526.2h0M1274.2,478.8h0M1275.8,546.2h0M1277.0,527.5h0M1278.8,550.5h0M1281.2,537.0h0M1283.0,501.2h0M1285.0,546.2h0M1286.2,561.2h0M1288.0,569.5h0M1289.5,541.2h0M1291.2,548.8h0M1292.5,534.5h0M1294.2,613.8h0M1295.5,559.5h0M1296.8,570.5h0M1298.8,617.5h0M1300.0,586.2h0M1301.2,577.0h0M1303.0,583.0h0M1304.5,618.8h0M1306.2,568.8h0M1307.5,608.0h0M1309.5,555.0h0M1310.8,613.8h0M1312.5,551.2h0M1313.8,601.2h0M1315.0,565.0h0M1318.0,570.5h0M1319.5,474.2h0M1320.0,543.8h0M1321.8,474.2h0M1323.0,497.5h0M1324.5,514.5h0M1326.2,535.5h0M1329.5,584.5h0M1335.0,581.8h0" fill="none" stroke="#111" stroke-width="4.10" stroke-linecap="round"/>
<polyline points="149.5,668.8 152.0,660.5 154.2,640.0 157.5,643.8 160.8,646.2 163.0,647.5 166.2,639.5 170.0,643.0 176.8,636.2 180.8,648.8 186.2,653.8 188.8,644.5 191.2,666.2 194.2,675.5 197.0,687.5 200.0,703.0 201.2,752.5 203.8,730.5 209.5,707.5 218.2,731.2 228.0,755.5 325.5,694.5 332.5,728.8 339.5,732.0 346.2,735.0 354.5,698.8 360.0,712.0 367.5,722.5 373.8,728.2 381.2,714.2 388.0,721.8 395.0,737.5 401.8,712.0 409.2,725.8 415.8,722.5 422.5,715.0 430.0,743.8 437.5,740.5 446.2,733.0 455.0,747.5 464.2,734.5 473.0,751.8 481.8,713.8 490.0,690.0 498.8,705.0 503.0,713.8 507.0,715.5 511.2,682.0 515.8,700.0 520.0,720.8 524.5,735.0 528.8,694.5 532.5,708.8 537.0,713.0 541.2,693.0 546.2,680.5 547.5,694.5 558.8,699.2 566.2,687.5 577.5,677.0 583.2,677.0 588.8,687.5 592.5,695.0 598.2,725.8 607.5,733.8 612.5,737.0 621.2,735.8 636.2,735.8 650.0,715.5 665.0,741.8 679.5,740.5 708.8,703.2 737.5,700.8 766.2,705.5 783.8,712.0 801.8,698.8 818.8,690.0 835.8,679.5 853.0,680.0 870.8,699.5 888.0,706.2 905.5,693.0 914.5,702.5 923.0,699.5 926.2,716.2 931.8,700.8 935.0,703.0 940.0,666.2 943.8,643.8 947.0,681.2 949.2,682.5 952.5,664.2 957.5,698.8 960.8,719.2 966.2,708.8 969.5,702.5 975.0,729.5 983.8,703.0 992.0,730.8 1000.8,751.2 1010.0,738.2 1018.2,741.2 1027.0,710.8 1035.8,713.8 1043.8,692.5 1053.0,729.5 1061.8,715.0 1077.5,724.5 1094.5,719.2 1111.2,723.0 1127.5,723.0 1170.0,699.5 1179.5,689.5 1197.5,701.2 1206.8,687.0 1215.8,693.2 1225.0,711.2 1234.2,698.8 1243.0,675.5 1247.5,708.8 1252.5,709.2 1257.0,728.2 1261.8,705.5 1265.8,719.2 1270.8,714.2 1274.5,723.2 1280.0,683.2 1284.5,717.5 1289.2,737.0 1293.8,727.0 1298.0,749.2 1302.5,751.2 1307.5,742.5 1316.2,727.0 1321.2,732.0 1325.8,713.8 1330.0,707.5 1334.5,710.5 1339.2,710.0 1343.8,714.2 1348.2,738.2" fill="none" stroke="#f78fbf" stroke-width="1.9" stroke-linejoin="round" />
<path d="M149.5,668.8h0M152.0,660.5h0M154.2,640.0h0M157.5,643.8h0M160.8,646.2h0M163.0,647.5h0M166.2,639.5h0M170.0,643.0h0M176.8,636.2h0M180.8,648.8h0M186.2,653.8h0M188.8,644.5h0M191.2,666.2h0M194.2,675.5h0M197.0,687.5h0M200.0,703.0h0M201.2,752.5h0M203.8,730.5h0M209.5,707.5h0M218.2,731.2h0M228.0,755.5h0M325.5,694.5h0M332.5,728.8h0M339.5,732.0h0M346.2,735.0h0M354.5,698.8h0M360.0,712.0h0M367.5,722.5h0M373.8,728.2h0M381.2,714.2h0M388.0,721.8h0M395.0,737.5h0M401.8,712.0h0M409.2,725.8h0M415.8,722.5h0M422.5,715.0h0M430.0,743.8h0M437.5,740.5h0M446.2,733.0h0M455.0,747.5h0M464.2,734.5h0M473.0,751.8h0M481.8,713.8h0M490.0,690.0h0M498.8,705.0h0M503.0,713.8h0M507.0,715.5h0M511.2,682.0h0M515.8,700.0h0M520.0,720.8h0M524.5,735.0h0M528.8,694.5h0M532.5,708.8h0M537.0,713.0h0M541.2,693.0h0M546.2,680.5h0M547.5,694.5h0M558.8,699.2h0M566.2,687.5h0M577.5,677.0h0M583.2,677.0h0M588.8,687.5h0M592.5,695.0h0M598.2,725.8h0M607.5,733.8h0M612.5,737.0h0M621.2,735.8h0M636.2,735.8h0M650.0,715.5h0M665.0,741.8h0M679.5,740.5h0M708.8,703.2h0M737.5,700.8h0M766.2,705.5h0M783.8,712.0h0M801.8,698.8h0M818.8,690.0h0M835.8,679.5h0M853.0,680.0h0M870.8,699.5h0M888.0,706.2h0M905.5,693.0h0M914.5,702.5h0M923.0,699.5h0M926.2,716.2h0M931.8,700.8h0M935.0,703.0h0M940.0,666.2h0M943.8,643.8h0M947.0,681.2h0M949.2,682.5h0M952.5,664.2h0M957.5,698.8h0M960.8,719.2h0M966.2,708.8h0M969.5,702.5h0M975.0,729.5h0M983.8,703.0h0M992.0,730.8h0M1000.8,751.2h0M1010.0,738.2h0M1018.2,741.2h0M1027.0,710.8h0M1035.8,713.8h0M1043.8,692.5h0M1053.0,729.5h0M1061.8,715.0h0M1077.5,724.5h0M1094.5,719.2h0M1111.2,723.0h0M1127.5,723.0h0M1170.0,699.5h0M1179.5,689.5h0M1197.5,701.2h0M1206.8,687.0h0M1215.8,693.2h0M1225.0,711.2h0M1234.2,698.8h0M1243.0,675.5h0M1247.5,708.8h0M1252.5,709.2h0M1257.0,728.2h0M1261.8,705.5h0M1265.8,719.2h0M1270.8,714.2h0M1274.5,723.2h0M1280.0,683.2h0M1284.5,717.5h0M1289.2,737.0h0M1293.8,727.0h0M1298.0,749.2h0M1302.5,751.2h0M1307.5,742.5h0M1316.2,727.0h0M1321.2,732.0h0M1325.8,713.8h0M1330.0,707.5h0M1334.5,710.5h0M1339.2,710.0h0M1343.8,714.2h0M1348.2,738.2h0" fill="none" stroke="#111" stroke-width="5.00" stroke-linecap="round"/>
<polyline points="132.5,688.0 138.0,695.0 143.0,683.8 147.5,678.0 152.5,674.2 157.0,677.5 162.5,703.0 167.0,700.0 172.5,680.0 177.5,702.5 181.8,699.5 186.8,717.0 192.0,707.5 197.0,717.5 201.2,752.5 209.5,775.5 218.2,731.2 228.0,755.5 235.0,772.5 252.5,736.2 269.5,760.0 287.5,776.5 304.5,760.5 322.5,744.5 339.2,744.5 356.2,753.8 372.0,796.2 388.2,775.5 405.0,755.0 420.0,751.8 436.2,780.0 452.5,751.2 468.8,740.0 485.0,739.2 500.0,706.2 520.0,686.2 530.0,702.5 540.0,687.5 558.0,686.8 577.0,677.5 584.5,719.2 589.2,691.2 592.5,740.8 601.2,749.2 612.5,737.0 630.5,756.8 650.0,728.8 667.5,767.5 686.2,751.8 704.5,783.8 723.8,755.5 742.0,760.8 760.5,782.5 773.8,783.8 787.0,777.5 798.8,740.0 811.2,742.5 824.2,732.0 836.2,716.2 849.2,712.5 860.8,700.5 870.0,705.0 880.0,751.8 911.8,741.2 943.2,723.0 964.5,697.0 987.0,728.0 1008.2,753.2 1029.5,775.0 1049.2,749.5 1057.0,737.0 1064.2,762.0 1072.0,773.2 1080.0,767.0 1087.5,737.0 1097.0,728.8 1113.8,745.5 1129.5,783.8 1145.5,748.0 1161.2,735.5 1177.5,738.0 1193.2,754.5 1210.0,720.5 1226.2,711.2 1242.0,700.0 1247.0,692.5 1289.2,692.5 1293.8,727.0 1314.5,749.2 1335.8,764.5" fill="none" stroke="#fa0000" stroke-width="2.2" stroke-linejoin="round" />
<path d="M132.5,688.0h0M138.0,695.0h0M143.0,683.8h0M147.5,678.0h0M152.5,674.2h0M157.0,677.5h0M162.5,703.0h0M167.0,700.0h0M172.5,680.0h0M177.5,702.5h0M181.8,699.5h0M186.8,717.0h0M192.0,707.5h0M197.0,717.5h0M201.2,752.5h0M209.5,775.5h0M218.2,731.2h0M228.0,755.5h0M235.0,772.5h0M252.5,736.2h0M269.5,760.0h0M287.5,776.5h0M304.5,760.5h0M322.5,744.5h0M339.2,744.5h0M356.2,753.8h0M372.0,796.2h0M388.2,775.5h0M405.0,755.0h0M420.0,751.8h0M436.2,780.0h0M452.5,751.2h0M468.8,740.0h0M485.0,739.2h0M500.0,706.2h0M520.0,686.2h0M530.0,702.5h0M540.0,687.5h0M558.0,686.8h0M577.0,677.5h0M584.5,719.2h0M589.2,691.2h0M592.5,740.8h0M601.2,749.2h0M612.5,737.0h0M630.5,756.8h0M650.0,728.8h0M667.5,767.5h0M686.2,751.8h0M704.5,783.8h0M723.8,755.5h0M742.0,760.8h0M760.5,782.5h0M773.8,783.8h0M787.0,777.5h0M798.8,740.0h0M811.2,742.5h0M824.2,732.0h0M836.2,716.2h0M849.2,712.5h0M860.8,700.5h0M870.0,705.0h0M880.0,751.8h0M911.8,741.2h0M943.2,723.0h0M964.5,697.0h0M987.0,728.0h0M1008.2,753.2h0M1029.5,775.0h0M1049.2,749.5h0M1057.0,737.0h0M1064.2,762.0h0M1072.0,773.2h0M1080.0,767.0h0M1087.5,737.0h0M1097.0,728.8h0M1113.8,745.5h0M1129.5,783.8h0M1145.5,748.0h0M1161.2,735.5h0M1177.5,738.0h0M1193.2,754.5h0M1210.0,720.5h0M1226.2,711.2h0M1242.0,700.0h0M1247.0,692.5h0M1289.2,692.5h0M1293.8,727.0h0M1314.5,749.2h0M1335.8,764.5h0" fill="none" stroke="#111" stroke-width="5.00" stroke-linecap="round"/>
<polyline points="149.5,818.2 152.0,905.0 155.0,863.8 157.5,910.5 160.5,816.2 163.0,935.5 166.2,901.2 170.0,967.5 176.8,956.8 180.8,938.8 186.2,1003.8 188.8,988.8 191.2,980.0 194.2,985.0 197.0,1023.0 200.0,1003.0 201.2,973.0 203.8,975.8 209.5,997.5 228.0,906.2 235.0,906.2 325.5,932.0 332.5,916.8 339.5,904.2 346.2,908.0 354.5,913.0 360.0,928.0 367.5,912.5 373.8,863.8 381.2,868.2 388.0,881.2 395.0,881.2 401.8,962.5 409.2,885.0 415.8,929.5 422.5,935.5 430.0,913.8 437.5,912.5 446.2,938.0 455.0,905.8 464.2,956.2 473.0,911.2 481.8,951.8 490.0,992.5 498.8,956.8 503.0,888.8 507.0,909.5 511.2,933.2 515.8,918.0 520.0,898.8 524.5,865.0 528.8,910.0 532.5,893.8 537.0,877.5 541.2,908.8 546.2,901.2 558.8,910.0 566.2,885.0 577.5,983.0 583.2,1008.8 588.0,984.5 592.5,1052.5 598.2,993.8 606.8,1020.5 612.5,1011.2 621.2,989.2 636.2,972.0 650.0,989.2 665.0,943.8 679.5,970.5 708.8,965.0 737.5,1022.5 766.2,964.2 783.8,903.2 801.8,901.2 818.8,936.2 835.8,959.2 853.0,981.2 870.8,970.8 888.0,955.5 905.5,967.0 914.5,936.2 923.0,958.2 926.2,941.2 931.8,921.2 935.0,904.2 940.0,941.2 943.8,949.5 947.0,970.5 949.2,1015.5 952.5,1035.5 957.5,980.0 960.8,977.0 966.2,985.0 969.5,997.0 975.0,989.2 983.8,995.0 992.0,992.5 1010.0,953.0 1018.2,954.5 1027.0,993.0 1035.8,1020.5 1043.8,968.0 1050.0,1012.5 1061.8,1005.0 1077.5,975.0 1094.5,995.0 1111.2,955.0 1170.0,973.8 1179.5,958.0 1197.5,934.5 1206.8,969.5 1215.8,955.5 1225.0,936.2 1234.2,948.0 1243.0,967.0 1247.5,947.5 1252.5,930.0 1257.0,953.2 1261.8,948.2 1265.8,949.2 1270.8,961.2 1274.5,983.0 1280.0,1001.2 1284.5,963.8 1289.2,941.2 1293.8,976.8 1298.0,958.2 1302.5,914.5 1307.5,951.2 1312.0,953.8 1316.2,977.5 1321.2,983.8 1325.8,985.0 1330.0,983.2 1334.5,998.8 1343.8,993.8" fill="none" stroke="#12bdee" stroke-width="2.0" stroke-linejoin="round" />
<path d="M149.5,818.2h0M152.0,905.0h0M155.0,863.8h0M157.5,910.5h0M160.5,816.2h0M163.0,935.5h0M166.2,901.2h0M170.0,967.5h0M176.8,956.8h0M180.8,938.8h0M186.2,1003.8h0M188.8,988.8h0M191.2,980.0h0M194.2,985.0h0M197.0,1023.0h0M200.0,1003.0h0M201.2,973.0h0M203.8,975.8h0M209.5,997.5h0M228.0,906.2h0M235.0,906.2h0M325.5,932.0h0M332.5,916.8h0M339.5,904.2h0M346.2,908.0h0M354.5,913.0h0M360.0,928.0h0M367.5,912.5h0M373.8,863.8h0M381.2,868.2h0M388.0,881.2h0M395.0,881.2h0M401.8,962.5h0M409.2,885.0h0M415.8,929.5h0M422.5,935.5h0M430.0,913.8h0M437.5,912.5h0M446.2,938.0h0M455.0,905.8h0M464.2,956.2h0M473.0,911.2h0M481.8,951.8h0M490.0,992.5h0M498.8,956.8h0M503.0,888.8h0M507.0,909.5h0M511.2,933.2h0M515.8,918.0h0M520.0,898.8h0M524.5,865.0h0M528.8,910.0h0M532.5,893.8h0M537.0,877.5h0M541.2,908.8h0M546.2,901.2h0M558.8,910.0h0M566.2,885.0h0M577.5,983.0h0M583.2,1008.8h0M588.0,984.5h0M592.5,1052.5h0M598.2,993.8h0M606.8,1020.5h0M612.5,1011.2h0M621.2,989.2h0M636.2,972.0h0M650.0,989.2h0M665.0,943.8h0M679.5,970.5h0M708.8,965.0h0M737.5,1022.5h0M766.2,964.2h0M783.8,903.2h0M801.8,901.2h0M818.8,936.2h0M835.8,959.2h0M853.0,981.2h0M870.8,970.8h0M888.0,955.5h0M905.5,967.0h0M914.5,936.2h0M923.0,958.2h0M926.2,941.2h0M931.8,921.2h0M935.0,904.2h0M940.0,941.2h0M943.8,949.5h0M947.0,970.5h0M949.2,1015.5h0M952.5,1035.5h0M957.5,980.0h0M960.8,977.0h0M966.2,985.0h0M969.5,997.0h0M975.0,989.2h0M983.8,995.0h0M992.0,992.5h0M1010.0,953.0h0M1018.2,954.5h0M1027.0,993.0h0M1035.8,1020.5h0M1043.8,968.0h0M1050.0,1012.5h0M1061.8,1005.0h0M1077.5,975.0h0M1094.5,995.0h0M1111.2,955.0h0M1170.0,973.8h0M1179.5,958.0h0M1197.5,934.5h0M1206.8,969.5h0M1215.8,955.5h0M1225.0,936.2h0M1234.2,948.0h0M1243.0,967.0h0M1247.5,947.5h0M1252.5,930.0h0M1257.0,953.2h0M1261.8,948.2h0M1265.8,949.2h0M1270.8,961.2h0M1274.5,983.0h0M1280.0,1001.2h0M1284.5,963.8h0M1289.2,941.2h0M1293.8,976.8h0M1298.0,958.2h0M1302.5,914.5h0M1307.5,951.2h0M1312.0,953.8h0M1316.2,977.5h0M1321.2,983.8h0M1325.8,985.0h0M1330.0,983.2h0M1334.5,998.8h0M1343.8,993.8h0" fill="none" stroke="#111" stroke-width="5.00" stroke-linecap="round"/>
<polyline points="132.5,854.5 138.0,843.0 143.0,849.5 147.5,842.0 152.5,860.0 157.0,879.5 162.5,903.8 167.0,883.2 172.5,891.2 177.5,896.8 181.8,922.5 186.8,966.2 192.0,973.0 197.0,988.8 201.2,932.5 209.5,941.2 218.2,958.8 235.0,906.2 252.5,936.2 269.5,929.2 287.5,926.8 304.5,929.5 322.5,911.8 339.2,949.5 356.2,919.2 372.0,836.2 388.2,880.0 405.0,863.0 420.0,859.5 436.2,876.2 452.5,870.0 468.8,899.2 485.0,866.2 501.8,875.8 520.0,911.2 530.0,833.8 540.0,877.5 558.0,924.5 576.2,916.8 584.5,930.0 588.8,979.2 592.5,957.0 601.2,973.0 612.5,934.5 630.5,969.5 650.0,953.0 667.5,939.5 686.2,904.5 704.5,920.5 723.8,896.8 742.0,938.0 760.5,903.2 773.8,833.0 787.0,835.8 798.8,873.0 811.2,860.8 824.2,846.2 836.2,900.5 849.2,937.5 860.8,928.0 870.0,905.0 880.0,925.5 911.8,913.0 943.2,898.0 964.5,947.0 987.0,960.0 1008.2,923.0 1029.5,947.0 1049.2,1013.0 1057.0,998.0 1064.2,952.5 1072.0,913.2 1080.0,923.8 1087.5,921.2 1097.0,947.5 1113.8,940.5 1129.5,903.2 1145.5,901.2 1161.2,940.5 1177.5,889.5 1193.2,875.8 1210.0,881.8 1226.2,903.0 1242.0,875.8 1247.0,883.0 1284.5,959.2 1289.2,999.5 1294.5,1023.0 1314.5,997.5 1335.8,945.0" fill="none" stroke="#0000cc" stroke-width="2.2" stroke-linejoin="round" />
<path d="M132.5,854.5h0M138.0,843.0h0M143.0,849.5h0M147.5,842.0h0M152.5,860.0h0M157.0,879.5h0M162.5,903.8h0M167.0,883.2h0M172.5,891.2h0M177.5,896.8h0M181.8,922.5h0M186.8,966.2h0M192.0,973.0h0M197.0,988.8h0M201.2,932.5h0M209.5,941.2h0M218.2,958.8h0M235.0,906.2h0M252.5,936.2h0M269.5,929.2h0M287.5,926.8h0M304.5,929.5h0M322.5,911.8h0M339.2,949.5h0M356.2,919.2h0M372.0,836.2h0M388.2,880.0h0M405.0,863.0h0M420.0,859.5h0M436.2,876.2h0M452.5,870.0h0M468.8,899.2h0M485.0,866.2h0M501.8,875.8h0M520.0,911.2h0M530.0,833.8h0M540.0,877.5h0M558.0,924.5h0M576.2,916.8h0M584.5,930.0h0M588.8,979.2h0M592.5,957.0h0M601.2,973.0h0M612.5,934.5h0M630.5,969.5h0M650.0,953.0h0M667.5,939.5h0M686.2,904.5h0M704.5,920.5h0M723.8,896.8h0M742.0,938.0h0M760.5,903.2h0M773.8,833.0h0M787.0,835.8h0M798.8,873.0h0M811.2,860.8h0M824.2,846.2h0M836.2,900.5h0M849.2,937.5h0M860.8,928.0h0M870.0,905.0h0M880.0,925.5h0M911.8,913.0h0M943.2,898.0h0M964.5,947.0h0M987.0,960.0h0M1008.2,923.0h0M1029.5,947.0h0M1049.2,1013.0h0M1057.0,998.0h0M1064.2,952.5h0M1072.0,913.2h0M1080.0,923.8h0M1087.5,921.2h0M1097.0,947.5h0M1113.8,940.5h0M1129.5,903.2h0M1145.5,901.2h0M1161.2,940.5h0M1177.5,889.5h0M1193.2,875.8h0M1210.0,881.8h0M1226.2,903.0h0M1242.0,875.8h0M1247.0,883.0h0M1284.5,959.2h0M1289.2,999.5h0M1294.5,1023.0h0M1314.5,997.5h0M1335.8,945.0h0" fill="none" stroke="#111" stroke-width="5.00" stroke-linecap="round"/>
<polyline points="141.2,1045.0 143.8,1032.5 146.2,1017.5 148.8,1028.8 151.2,1016.2 153.8,1040.0 155.0,1060.0 156.8,1013.8 158.8,1061.2 160.8,1056.2 163.0,1052.5 165.0,1067.5 167.0,1065.0 168.8,1040.5 170.0,1081.2 172.5,1073.8 173.8,1092.5 175.5,1029.5 177.0,1103.8 179.2,1096.2 181.2,1131.2 183.2,1102.5 187.5,1103.0 192.0,1126.2 197.5,1124.5 202.5,1120.0 206.8,1122.5 208.8,1118.8 210.8,1135.0 213.0,1118.0 215.0,1135.0 218.8,1130.8 223.0,1130.0 226.2,1080.5 230.0,1122.0 233.0,1130.0 236.8,1093.8 240.0,1107.5 243.0,1081.2 246.8,1058.8 249.2,1088.8 252.5,1128.0 255.8,1099.5 258.8,1086.2 261.2,1089.2 264.2,1093.8 266.8,1095.0 269.5,1104.5 272.5,1096.2 275.0,1088.8 277.5,1093.8 283.8,1102.5 285.0,1029.5 286.8,1049.5 288.0,1058.8 289.5,1103.8 290.8,1063.8 292.5,1109.5 294.2,1063.8 295.8,1097.5 297.5,1085.0 298.8,1068.8 300.5,1085.0 301.8,1095.0 303.2,1052.5 305.5,1074.5 306.8,1033.2 308.0,1049.5 309.2,1059.5 310.5,1088.0 312.5,1083.0 314.5,1102.0 315.8,1061.2 317.5,1090.0 319.2,1058.8 320.8,1071.2 322.5,1066.2 324.2,1036.2 325.5,1053.8 326.8,1092.0 328.8,1116.2 330.8,1122.5 332.5,1097.0 335.0,1078.8 338.8,1082.5 342.5,1067.5 346.2,1075.5 349.2,1136.2 352.5,1132.0 355.8,1093.0 359.2,1114.5 362.5,1098.8 366.2,1082.0 369.2,1101.2 372.5,1081.2 375.5,1100.5 378.2,1129.2 380.0,1100.0 381.8,1118.8 383.0,1096.2 384.5,1102.5 385.8,1083.8 386.8,1070.5 388.0,1122.5 389.5,1100.5 390.8,1087.5 392.5,1108.8 394.2,1053.0 395.8,1080.0 397.0,1103.0 398.8,1053.8 400.5,1060.0 402.0,1025.5 403.8,1022.0 405.0,1060.0 407.0,1052.5 408.0,1073.0 409.5,1051.8 411.2,1075.0 413.0,1053.8 414.5,1085.0 415.8,1047.0 417.5,1029.5 418.8,1087.0 420.0,1065.0 421.2,1077.5 423.0,1045.0 426.2,1051.2 428.8,1057.5 431.2,1036.2 433.8,1075.5 436.2,1080.0 438.8,1079.5 441.2,1063.8 444.2,1088.0 446.8,1054.2 450.0,1086.2 452.5,1073.8 455.0,1080.0 458.0,1060.5 461.2,1080.5 464.5,1083.8 467.5,1075.0 470.0,1054.2 473.0,1079.5 476.2,1087.5 480.0,1081.2 483.8,1076.2 488.8,1065.0 494.2,1105.5 499.5,1066.2 505.0,1032.0 509.2,1047.5 514.5,1025.0 520.0,1082.0 522.0,1018.0 524.2,1046.2 526.2,1058.8 528.0,1020.5 530.0,1052.0 531.2,1031.2 532.5,1013.8 533.8,1045.0 535.0,1080.0 536.2,1031.2 537.5,1098.0 538.8,1032.5 540.0,1067.0 541.2,1023.8 543.0,997.0 544.2,1052.5 545.5,1025.5 546.8,1066.2 548.0,1038.8 550.0,1043.8 552.5,1057.0 555.5,1082.0 557.5,1033.2 559.2,1066.2 560.5,1057.5 561.8,1065.5 563.8,1085.0 565.5,1078.2 567.5,1109.5 569.5,1100.0 571.2,1096.2 573.0,1087.5 574.5,1087.5 575.8,1109.5 577.0,1122.0 578.8,1158.0 580.0,1177.5 581.2,1163.8 582.5,1180.5 584.5,1136.2 587.5,1171.2 591.8,1125.5 597.0,1171.8 602.0,1136.2 606.8,1123.8 612.0,1158.0 617.0,1146.2 622.5,1136.2 627.5,1169.5 632.0,1149.5 637.0,1173.0 641.2,1148.8 644.5,1150.5 647.5,1142.0 651.2,1153.8 654.5,1170.5 658.0,1175.8 660.8,1188.8 663.8,1167.5 667.0,1170.0 670.0,1175.5 672.5,1151.2 675.0,1152.0 678.0,1157.0 681.2,1154.2 683.8,1135.0 687.0,1149.5 690.0,1135.0 693.0,1150.5 695.0,1132.0 697.0,1145.0 699.2,1131.2 700.8,1080.0 702.5,1121.8 703.8,1085.5 705.5,1071.2 707.5,1077.5 708.8,1095.0 710.0,1068.2 711.8,1096.2 713.0,1077.5 714.5,1056.8 716.2,1078.8 718.0,1090.0 719.5,1095.0 721.2,1108.8 723.0,1121.2 724.2,1093.8 726.8,1096.2 728.8,1115.5 730.5,1100.0 732.5,1123.8 734.2,1103.0 735.8,1100.0 737.5,1087.0 739.2,1071.8 742.5,1081.8 745.8,1053.0 748.0,1074.2 750.5,1071.8 753.0,1080.8 755.5,1088.0 758.0,1055.0 760.5,1073.8 763.8,1098.0 766.2,1098.0 770.0,1103.0 771.2,1078.8 772.5,1096.2 774.2,1106.2 775.8,1045.5 777.0,1056.2 778.8,1050.0 780.5,1060.0 782.0,1058.2 784.5,1022.5 787.0,1057.5 789.2,1066.2 792.0,1065.5 795.0,1039.2 796.8,1054.2 799.5,1047.0 802.0,1080.0 804.2,1060.0 806.5,1106.2 808.8,1092.5 810.8,1066.2 813.0,1065.5 816.2,1052.5 818.8,1065.5 821.2,1076.8 823.8,1066.8 826.2,1067.5 829.2,1078.0 831.2,1101.2 833.0,1073.0 835.0,1044.2 837.0,1064.2 838.2,1092.5 839.5,1067.0 841.2,1057.0 843.0,1053.2 845.0,1052.0 846.8,1095.5 848.0,1085.5 849.5,1046.2 851.2,1093.8 853.0,1076.2 855.0,1086.2 857.5,1054.5 859.2,1107.0 860.5,1093.8 861.8,1108.0 863.2,1084.2 864.5,1105.5 865.8,1102.5 867.0,1088.0 868.8,1086.8 870.0,1118.8 871.8,1073.0 873.0,1103.8 874.2,1122.5 875.8,1110.0 877.0,1130.0 878.2,1096.2 880.0,1082.5 881.8,1093.8 883.2,1085.0 885.0,1126.2 889.5,1105.0 893.8,1102.5 898.8,1108.0 903.8,1111.8 909.5,1091.8 914.5,1123.8 918.2,1058.0 921.2,1100.8 924.5,1053.0 926.2,1083.0 928.0,1050.8 929.2,1081.8 930.5,1052.5 932.0,1052.0 933.8,1079.5 935.5,1067.5 937.5,1073.0 938.8,1068.0 940.0,1080.8 941.8,1064.2 943.0,1073.8 944.5,1047.5 946.2,1078.8 947.5,1095.0 948.8,1106.8 950.0,1085.5 951.2,1096.2 952.5,1075.5 954.2,1137.0 955.8,1086.2 957.5,1110.5 960.0,1114.5 962.5,1120.5 965.0,1115.5 970.5,1108.0 976.2,1065.8 982.0,1109.2 985.0,1072.5 988.0,1117.0 990.5,1083.2 993.8,1079.2 995.0,1101.2 997.5,1090.5 1000.8,1089.5 1003.0,1106.2 1005.0,1092.0 1007.5,1093.0 1010.0,1115.5 1011.8,1081.2 1013.8,1106.2 1016.2,1120.5 1018.8,1118.0 1021.2,1101.2 1023.8,1096.2 1026.2,1101.2 1028.0,1118.8 1030.5,1098.0 1032.5,1101.2 1035.5,1107.0 1037.5,1119.5 1039.5,1136.2 1042.0,1113.8 1044.5,1123.8 1046.8,1149.5 1048.8,1091.8 1050.8,1150.0 1053.0,1122.5 1055.5,1107.0 1058.8,1102.5 1061.2,1148.2 1062.0,1133.8 1064.2,1053.2 1066.2,1080.0 1068.0,1076.2 1070.5,1086.2 1074.2,1098.2 1078.2,1040.0 1081.8,1074.5 1084.5,1074.5 1087.0,1080.0 1088.8,1077.5 1091.2,1071.2 1094.2,1073.0 1097.5,1092.0 1099.2,1093.8 1100.8,1065.0 1102.5,1080.0 1103.0,1040.8 1105.0,1068.2 1106.2,1098.0 1108.8,1033.2 1110.0,1038.8 1111.2,1066.2 1113.0,1101.2 1114.5,1056.2 1116.2,1042.5 1117.5,1058.8 1119.2,1075.0 1120.8,1079.5 1122.5,1077.0 1124.2,1092.0 1125.8,1073.0 1128.0,1049.2 1130.0,1009.5 1131.8,1046.8 1133.2,1072.0 1135.0,1050.0 1137.0,1030.0 1138.8,1059.5 1140.0,1066.2 1141.8,1041.2 1143.0,1063.8 1145.5,1030.8 1147.5,1070.0 1150.0,1066.2 1153.0,1031.2 1157.0,1071.2 1160.0,1094.5 1163.8,1053.0 1166.2,1058.8 1170.5,1017.0 1172.5,1073.8 1174.2,1072.0 1176.2,1059.5 1178.0,1054.5 1179.5,1095.0 1181.2,1077.0 1182.5,1070.5 1184.2,1081.8 1185.5,1034.5 1187.5,1068.2 1189.2,1059.2 1191.2,1053.0 1192.5,1062.5 1194.2,1019.5 1195.5,1029.5 1197.5,1074.5 1199.2,1053.8 1201.2,1041.2 1206.8,1027.5 1213.0,1084.5 1217.5,1084.5 1222.0,1052.5 1224.2,1047.0 1226.2,1007.5 1228.0,1033.0 1230.0,1032.0 1232.0,1075.0 1233.8,1053.2 1235.5,1063.8 1237.5,1059.5 1239.5,1081.2 1242.0,1085.0 1244.5,1083.0 1247.0,1071.2 1248.8,1060.0 1250.0,1043.8 1251.8,1080.0 1253.0,1058.0 1255.0,1089.5 1256.2,1080.0 1257.5,1107.5 1260.0,1073.8 1262.0,1105.0 1263.8,1095.0 1265.0,1114.2 1267.0,1089.5 1268.8,1098.8 1270.8,1114.5 1272.5,1120.5 1274.2,1151.2 1275.8,1138.0 1277.0,1166.2 1278.8,1144.5 1280.8,1161.2 1282.5,1174.5 1284.5,1123.8 1286.2,1143.8 1288.0,1130.0 1289.5,1137.0 1291.2,1133.8 1293.0,1100.0 1295.0,1112.0 1296.8,1115.5 1298.8,1118.8 1300.8,1078.0 1301.8,1128.8 1303.2,1162.0 1305.0,1096.2 1306.2,1087.5 1307.5,1095.5 1309.5,1135.8 1311.2,1115.5 1312.5,1135.0 1314.5,1107.0 1316.2,1108.8 1318.0,1080.0 1319.2,1112.5 1320.8,1100.8 1322.5,1078.0 1324.2,1105.0 1326.2,1074.5 1329.5,1122.0 1335.5,1080.5" fill="none" stroke="#fa0000" stroke-width="1.9" stroke-linejoin="round" />
<path d="M141.2,1045.0h0M143.8,1032.5h0M146.2,1017.5h0M148.8,1028.8h0M151.2,1016.2h0M153.8,1040.0h0M155.0,1060.0h0M156.8,1013.8h0M158.8,1061.2h0M160.8,1056.2h0M163.0,1052.5h0M165.0,1067.5h0M167.0,1065.0h0M168.8,1040.5h0M170.0,1081.2h0M172.5,1073.8h0M173.8,1092.5h0M175.5,1029.5h0M177.0,1103.8h0M179.2,1096.2h0M181.2,1131.2h0M183.2,1102.5h0M187.5,1103.0h0M192.0,1126.2h0M197.5,1124.5h0M202.5,1120.0h0M206.8,1122.5h0M208.8,1118.8h0M210.8,1135.0h0M213.0,1118.0h0M215.0,1135.0h0M218.8,1130.8h0M223.0,1130.0h0M226.2,1080.5h0M230.0,1122.0h0M233.0,1130.0h0M236.8,1093.8h0M240.0,1107.5h0M243.0,1081.2h0M246.8,1058.8h0M249.2,1088.8h0M252.5,1128.0h0M255.8,1099.5h0M258.8,1086.2h0M261.2,1089.2h0M264.2,1093.8h0M266.8,1095.0h0M269.5,1104.5h0M272.5,1096.2h0M275.0,1088.8h0M277.5,1093.8h0M283.8,1102.5h0M285.0,1029.5h0M286.8,1049.5h0M288.0,1058.8h0M289.5,1103.8h0M290.8,1063.8h0M292.5,1109.5h0M294.2,1063.8h0M295.8,1097.5h0M297.5,1085.0h0M298.8,1068.8h0M300.5,1085.0h0M301.8,1095.0h0M303.2,1052.5h0M305.5,1074.5h0M306.8,1033.2h0M308.0,1049.5h0M309.2,1059.5h0M310.5,1088.0h0M312.5,1083.0h0M314.5,1102.0h0M315.8,1061.2h0M317.5,1090.0h0M319.2,1058.8h0M320.8,1071.2h0M322.5,1066.2h0M324.2,1036.2h0M325.5,1053.8h0M326.8,1092.0h0M328.8,1116.2h0M330.8,1122.5h0M332.5,1097.0h0M335.0,1078.8h0M338.8,1082.5h0M342.5,1067.5h0M346.2,1075.5h0M349.2,1136.2h0M352.5,1132.0h0M355.8,1093.0h0M359.2,1114.5h0M362.5,1098.8h0M366.2,1082.0h0M369.2,1101.2h0M372.5,1081.2h0M375.5,1100.5h0M378.2,1129.2h0M380.0,1100.0h0M381.8,1118.8h0M383.0,1096.2h0M384.5,1102.5h0M385.8,1083.8h0M386.8,1070.5h0M388.0,1122.5h0M389.5,1100.5h0M390.8,1087.5h0M392.5,1108.8h0M394.2,1053.0h0M395.8,1080.0h0M397.0,1103.0h0M398.8,1053.8h0M400.5,1060.0h0M402.0,1025.5h0M403.8,1022.0h0M405.0,1060.0h0M407.0,1052.5h0M408.0,1073.0h0M409.5,1051.8h0M411.2,1075.0h0M413.0,1053.8h0M414.5,1085.0h0M415.8,1047.0h0M417.5,1029.5h0M418.8,1087.0h0M420.0,1065.0h0M421.2,1077.5h0M423.0,1045.0h0M426.2,1051.2h0M428.8,1057.5h0M431.2,1036.2h0M433.8,1075.5h0M436.2,1080.0h0M438.8,1079.5h0M441.2,1063.8h0M444.2,1088.0h0M446.8,1054.2h0M450.0,1086.2h0M452.5,1073.8h0M455.0,1080.0h0M458.0,1060.5h0M461.2,1080.5h0M464.5,1083.8h0M467.5,1075.0h0M470.0,1054.2h0M473.0,1079.5h0M476.2,1087.5h0M480.0,1081.2h0M483.8,1076.2h0M488.8,1065.0h0M494.2,1105.5h0M499.5,1066.2h0M505.0,1032.0h0M509.2,1047.5h0M514.5,1025.0h0M520.0,1082.0h0M522.0,1018.0h0M524.2,1046.2h0M526.2,1058.8h0M528.0,1020.5h0M530.0,1052.0h0M531.2,1031.2h0M532.5,1013.8h0M533.8,1045.0h0M535.0,1080.0h0M536.2,1031.2h0M537.5,1098.0h0M538.8,1032.5h0M540.0,1067.0h0M541.2,1023.8h0M543.0,997.0h0M544.2,1052.5h0M545.5,1025.5h0M546.8,1066.2h0M548.0,1038.8h0M550.0,1043.8h0M552.5,1057.0h0M555.5,1082.0h0M557.5,1033.2h0M559.2,1066.2h0M560.5,1057.5h0M561.8,1065.5h0M563.8,1085.0h0M565.5,1078.2h0M567.5,1109.5h0M569.5,1100.0h0M571.2,1096.2h0M573.0,1087.5h0M574.5,1087.5h0M575.8,1109.5h0M577.0,1122.0h0M578.8,1158.0h0M580.0,1177.5h0M581.2,1163.8h0M582.5,1180.5h0M584.5,1136.2h0M587.5,1171.2h0M591.8,1125.5h0M597.0,1171.8h0M602.0,1136.2h0M606.8,1123.8h0M612.0,1158.0h0M617.0,1146.2h0M622.5,1136.2h0M627.5,1169.5h0M632.0,1149.5h0M637.0,1173.0h0M641.2,1148.8h0M644.5,1150.5h0M647.5,1142.0h0M651.2,1153.8h0M654.5,1170.5h0M658.0,1175.8h0M660.8,1188.8h0M663.8,1167.5h0M667.0,1170.0h0M670.0,1175.5h0M672.5,1151.2h0M675.0,1152.0h0M678.0,1157.0h0M681.2,1154.2h0M683.8,1135.0h0M687.0,1149.5h0M690.0,1135.0h0M693.0,1150.5h0M695.0,1132.0h0M697.0,1145.0h0M699.2,1131.2h0M700.8,1080.0h0M702.5,1121.8h0M703.8,1085.5h0M705.5,1071.2h0M707.5,1077.5h0M708.8,1095.0h0M710.0,1068.2h0M711.8,1096.2h0M713.0,1077.5h0M714.5,1056.8h0M716.2,1078.8h0M718.0,1090.0h0M719.5,1095.0h0M721.2,1108.8h0M723.0,1121.2h0M724.2,1093.8h0M726.8,1096.2h0M728.8,1115.5h0M730.5,1100.0h0M732.5,1123.8h0M734.2,1103.0h0M735.8,1100.0h0M737.5,1087.0h0M739.2,1071.8h0M742.5,1081.8h0M745.8,1053.0h0M748.0,1074.2h0M750.5,1071.8h0M753.0,1080.8h0M755.5,1088.0h0M758.0,1055.0h0M760.5,1073.8h0M763.8,1098.0h0M766.2,1098.0h0M770.0,1103.0h0M771.2,1078.8h0M772.5,1096.2h0M774.2,1106.2h0M775.8,1045.5h0M777.0,1056.2h0M778.8,1050.0h0M780.5,1060.0h0M782.0,1058.2h0M784.5,1022.5h0M787.0,1057.5h0M789.2,1066.2h0M792.0,1065.5h0M795.0,1039.2h0M796.8,1054.2h0M799.5,1047.0h0M802.0,1080.0h0M804.2,1060.0h0M806.5,1106.2h0M808.8,1092.5h0M810.8,1066.2h0M813.0,1065.5h0M816.2,1052.5h0M818.8,1065.5h0M821.2,1076.8h0M823.8,1066.8h0M826.2,1067.5h0M829.2,1078.0h0M831.2,1101.2h0M833.0,1073.0h0M835.0,1044.2h0M837.0,1064.2h0M838.2,1092.5h0M839.5,1067.0h0M841.2,1057.0h0M843.0,1053.2h0M845.0,1052.0h0M846.8,1095.5h0M848.0,1085.5h0M849.5,1046.2h0M851.2,1093.8h0M853.0,1076.2h0M855.0,1086.2h0M857.5,1054.5h0M859.2,1107.0h0M860.5,1093.8h0M861.8,1108.0h0M863.2,1084.2h0M864.5,1105.5h0M865.8,1102.5h0M867.0,1088.0h0M868.8,1086.8h0M870.0,1118.8h0M871.8,1073.0h0M873.0,1103.8h0M874.2,1122.5h0M875.8,1110.0h0M877.0,1130.0h0M878.2,1096.2h0M880.0,1082.5h0M881.8,1093.8h0M883.2,1085.0h0M885.0,1126.2h0M889.5,1105.0h0M893.8,1102.5h0M898.8,1108.0h0M903.8,1111.8h0M909.5,1091.8h0M914.5,1123.8h0M918.2,1058.0h0M921.2,1100.8h0M924.5,1053.0h0M926.2,1083.0h0M928.0,1050.8h0M929.2,1081.8h0M930.5,1052.5h0M932.0,1052.0h0M933.8,1079.5h0M935.5,1067.5h0M937.5,1073.0h0M938.8,1068.0h0M940.0,1080.8h0M941.8,1064.2h0M943.0,1073.8h0M944.5,1047.5h0M946.2,1078.8h0M947.5,1095.0h0M948.8,1106.8h0M950.0,1085.5h0M951.2,1096.2h0M952.5,1075.5h0M954.2,1137.0h0M955.8,1086.2h0M957.5,1110.5h0M960.0,1114.5h0M962.5,1120.5h0M965.0,1115.5h0M970.5,1108.0h0M976.2,1065.8h0M982.0,1109.2h0M985.0,1072.5h0M988.0,1117.0h0M990.5,1083.2h0M993.8,1079.2h0M995.0,1101.2h0M997.5,1090.5h0M1000.8,1089.5h0M1003.0,1106.2h0M1005.0,1092.0h0M1007.5,1093.0h0M1010.0,1115.5h0M1011.8,1081.2h0M1013.8,1106.2h0M1016.2,1120.5h0M1018.8,1118.0h0M1021.2,1101.2h0M1023.8,1096.2h0M1026.2,1101.2h0M1028.0,1118.8h0M1030.5,1098.0h0M1032.5,1101.2h0M1035.5,1107.0h0M1037.5,1119.5h0M1039.5,1136.2h0M1042.0,1113.8h0M1044.5,1123.8h0M1046.8,1149.5h0M1048.8,1091.8h0M1050.8,1150.0h0M1053.0,1122.5h0M1055.5,1107.0h0M1058.8,1102.5h0M1061.2,1148.2h0M1062.0,1133.8h0M1064.2,1053.2h0M1066.2,1080.0h0M1068.0,1076.2h0M1070.5,1086.2h0M1074.2,1098.2h0M1078.2,1040.0h0M1081.8,1074.5h0M1084.5,1074.5h0M1087.0,1080.0h0M1088.8,1077.5h0M1091.2,1071.2h0M1094.2,1073.0h0M1097.5,1092.0h0M1099.2,1093.8h0M1100.8,1065.0h0M1102.5,1080.0h0M1103.0,1040.8h0M1105.0,1068.2h0M1106.2,1098.0h0M1108.8,1033.2h0M1110.0,1038.8h0M1111.2,1066.2h0M1113.0,1101.2h0M1114.5,1056.2h0M1116.2,1042.5h0M1117.5,1058.8h0M1119.2,1075.0h0M1120.8,1079.5h0M1122.5,1077.0h0M1124.2,1092.0h0M1125.8,1073.0h0M1128.0,1049.2h0M1130.0,1009.5h0M1131.8,1046.8h0M1133.2,1072.0h0M1135.0,1050.0h0M1137.0,1030.0h0M1138.8,1059.5h0M1140.0,1066.2h0M1141.8,1041.2h0M1143.0,1063.8h0M1145.5,1030.8h0M1147.5,1070.0h0M1150.0,1066.2h0M1153.0,1031.2h0M1157.0,1071.2h0M1160.0,1094.5h0M1163.8,1053.0h0M1166.2,1058.8h0M1170.5,1017.0h0M1172.5,1073.8h0M1174.2,1072.0h0M1176.2,1059.5h0M1178.0,1054.5h0M1179.5,1095.0h0M1181.2,1077.0h0M1182.5,1070.5h0M1184.2,1081.8h0M1185.5,1034.5h0M1187.5,1068.2h0M1189.2,1059.2h0M1191.2,1053.0h0M1192.5,1062.5h0M1194.2,1019.5h0M1195.5,1029.5h0M1197.5,1074.5h0M1199.2,1053.8h0M1201.2,1041.2h0M1206.8,1027.5h0M1213.0,1084.5h0M1217.5,1084.5h0M1222.0,1052.5h0M1224.2,1047.0h0M1226.2,1007.5h0M1228.0,1033.0h0M1230.0,1032.0h0M1232.0,1075.0h0M1233.8,1053.2h0M1235.5,1063.8h0M1237.5,1059.5h0M1239.5,1081.2h0M1242.0,1085.0h0M1244.5,1083.0h0M1247.0,1071.2h0M1248.8,1060.0h0M1250.0,1043.8h0M1251.8,1080.0h0M1253.0,1058.0h0M1255.0,1089.5h0M1256.2,1080.0h0M1257.5,1107.5h0M1260.0,1073.8h0M1262.0,1105.0h0M1263.8,1095.0h0M1265.0,1114.2h0M1267.0,1089.5h0M1268.8,1098.8h0M1270.8,1114.5h0M1272.5,1120.5h0M1274.2,1151.2h0M1275.8,1138.0h0M1277.0,1166.2h0M1278.8,1144.5h0M1280.8,1161.2h0M1282.5,1174.5h0M1284.5,1123.8h0M1286.2,1143.8h0M1288.0,1130.0h0M1289.5,1137.0h0M1291.2,1133.8h0M1293.0,1100.0h0M1295.0,1112.0h0M1296.8,1115.5h0M1298.8,1118.8h0M1300.8,1078.0h0M1301.8,1128.8h0M1303.2,1162.0h0M1305.0,1096.2h0M1306.2,1087.5h0M1307.5,1095.5h0M1309.5,1135.8h0M1311.2,1115.5h0M1312.5,1135.0h0M1314.5,1107.0h0M1316.2,1108.8h0M1318.0,1080.0h0M1319.2,1112.5h0M1320.8,1100.8h0M1322.5,1078.0h0M1324.2,1105.0h0M1326.2,1074.5h0M1329.5,1122.0h0M1335.5,1080.5h0" fill="none" stroke="#111" stroke-width="4.10" stroke-linecap="round"/>
<polyline points="141.2,1050.0 143.0,1032.5 144.2,1005.0 145.8,1016.2 147.0,1000.8 148.2,1032.5 149.5,1004.5 150.8,1038.8 152.5,977.5 153.8,1069.2 155.0,1129.5 155.8,1103.8 156.8,1149.5 157.5,1141.2 158.2,1001.8 159.5,1082.5 160.8,1107.5 161.8,1128.8 163.0,1137.5 164.5,1082.5 165.8,1147.0 168.2,1157.0 170.0,1111.2 171.8,1116.2 173.2,1192.5 175.5,1193.8 176.2,1208.0 178.0,1170.5 179.2,1208.0 181.2,1224.5 183.2,1230.5 186.8,1206.2 190.0,1209.5 192.5,1212.0 197.5,1201.2 202.5,1235.5 206.8,1215.0 208.8,1199.5 210.8,1266.8 213.0,1238.0 215.0,1218.0 217.0,1201.2 219.2,1189.5 223.0,1165.0 226.2,1218.2 229.2,1210.5 233.0,1181.2 236.2,1203.8 240.0,1197.0 243.0,1228.0 246.2,1198.0 249.2,1212.5 252.5,1144.5 255.8,1158.0 258.8,1199.5 261.2,1200.0 264.2,1170.5 266.2,1168.0 269.5,1163.0 271.2,1165.5 274.5,1121.2 277.0,1127.0 280.0,1127.0 283.8,1125.5 285.8,1130.0 287.5,1162.5 289.5,1165.5 290.8,1183.8 292.0,1197.0 293.0,1176.2 294.5,1166.2 296.2,1164.5 298.8,1155.0 300.5,1177.0 301.8,1171.2 303.2,1200.8 304.5,1183.8 305.8,1121.2 307.5,1220.8 309.2,1153.8 310.5,1197.5 312.0,1192.5 312.5,1166.2 313.8,1181.2 315.0,1169.5 316.2,1137.5 317.5,1156.2 319.2,1138.0 320.0,1155.0 322.0,1191.2 323.8,1138.0 325.0,1134.5 326.8,1149.5 328.8,1190.5 330.0,1161.2 332.5,1138.0 335.5,1121.8 339.5,1168.8 342.5,1155.0 345.8,1182.5 349.2,1136.2 352.5,1153.8 355.8,1131.2 359.2,1129.2 362.5,1165.8 366.2,1137.0 369.5,1158.0 373.0,1133.0 375.5,1184.2 378.2,1179.5 380.8,1195.5 381.8,1171.2 383.0,1096.2 384.5,1118.8 385.8,1146.2 388.0,1190.5 389.5,1112.5 391.2,1035.8 392.5,1107.5 394.2,1053.0 395.8,1086.2 397.0,1075.0 398.8,1103.0 400.5,1132.5 402.5,1064.2 404.2,1099.2 406.2,1081.2 408.0,1086.2 409.5,1199.5 410.8,1092.0 412.5,1115.5 413.8,1163.0 415.5,1046.2 416.8,1090.0 417.5,1120.5 418.8,1114.5 420.0,1011.2 421.8,1077.5 423.2,1086.2 424.5,1083.8 426.2,1051.2 428.8,1067.0 431.2,1087.5 433.8,1078.8 436.2,1080.0 438.2,1095.0 441.2,1056.2 444.2,1088.0 447.5,1040.0 450.0,1043.0 451.2,1134.5 452.5,1105.0 454.2,1043.8 456.2,1081.8 458.0,1055.0 460.0,1080.5 462.0,1065.0 464.5,1047.5 467.5,1075.5 470.0,1043.0 473.0,1049.5 476.2,1080.0 480.0,1071.2 483.8,1067.0 488.8,1053.8 494.2,1040.0 499.2,1123.2 505.0,1065.5 509.2,1070.5 514.5,1068.8 520.0,1018.8 522.0,1040.0 524.2,1048.8 526.2,1022.0 527.5,1058.8 528.8,1094.5 530.0,996.2 531.2,1047.5 532.5,984.5 533.8,1031.2 535.0,1065.0 536.2,1053.8 537.5,1032.5 538.8,1098.0 540.0,1037.5 541.2,1070.0 542.5,1023.8 543.8,1052.5 545.0,1113.8 546.2,1025.0 548.0,1043.8 550.0,1070.0 552.0,1071.2 553.2,1139.5 555.0,1087.5 557.0,1100.0 558.8,1088.0 560.0,1113.8 561.8,1085.5 563.8,1096.2 565.0,1200.5 566.2,1141.2 569.5,1137.0 571.2,1158.0 572.5,1266.2 573.8,1138.0 575.5,1185.5 577.0,1192.5 578.8,1200.5 580.0,1210.5 581.2,1215.0 582.5,1233.0 584.5,1190.0 587.5,1190.0 591.8,1234.5 597.0,1243.0 602.0,1190.5 606.8,1218.8 612.0,1235.0 617.0,1192.5 622.5,1205.0 627.5,1193.8 632.0,1204.2 637.0,1204.5 641.2,1184.5 644.5,1224.2 647.5,1241.2 651.2,1250.0 654.5,1211.2 658.0,1220.0 660.8,1212.5 663.8,1193.0 667.0,1215.0 670.0,1197.5 672.5,1142.0 675.0,1236.2 678.0,1178.8 681.2,1231.8 683.8,1183.2 687.0,1193.8 688.8,1182.5 690.8,1161.2 692.5,1228.8 693.8,1198.8 695.0,1232.5 696.2,1208.8 698.0,1218.8 699.5,1150.0 701.2,1194.5 702.5,1210.0 703.8,1235.0 705.0,1186.2 708.0,1204.5 709.2,1183.0 710.0,1233.8 711.2,1176.2 713.0,1123.8 714.5,1140.0 715.5,1185.0 716.8,1128.8 718.8,1096.2 720.0,1151.2 721.8,1189.5 722.5,1143.8 724.2,1179.2 726.2,1162.5 727.5,1151.2 729.2,1134.2 730.5,1157.5 732.5,1157.0 734.2,1151.2 735.8,1157.0 737.5,1146.2 738.8,1135.5 740.8,1187.5 743.0,1114.2 746.2,1168.0 748.0,1158.0 750.5,1157.5 753.0,1132.0 755.5,1222.0 758.8,1113.8 760.5,1135.0 763.2,1188.2 765.8,1155.5 770.0,1130.5 771.2,1158.8 772.5,1137.5 774.2,1106.2 775.8,1057.5 777.5,1158.8 778.8,1066.2 780.5,1077.5 782.0,1077.0 784.5,1090.0 787.0,1091.8 789.2,1080.5 792.0,1065.0 794.5,1047.0 796.8,1136.2 798.8,1058.8 802.0,1083.0 804.2,1080.0 806.5,1090.0 808.8,1123.8 810.8,1092.0 813.0,1092.5 815.8,1067.0 818.8,1115.5 820.5,1128.8 823.8,1116.2 826.2,1084.5 829.2,1059.2 831.2,1108.0 833.0,1073.0 834.5,1065.0 835.5,1081.2 837.0,1092.0 838.2,1038.0 839.5,1116.2 841.2,1099.5 843.0,1054.2 844.5,1052.5 846.8,1087.0 848.0,1025.0 849.5,1045.5 850.8,1008.0 852.0,1080.0 853.0,1065.0 855.0,1128.0 857.5,1054.5 859.2,1087.5 860.5,1093.8 861.8,1092.0 863.2,1105.0 864.5,1083.0 865.8,1144.5 867.0,1102.5 868.0,1134.2 869.5,1115.0 870.8,1137.5 872.0,1133.0 873.0,1120.0 874.2,1165.0 875.8,1158.8 877.0,1169.2 878.2,1176.2 880.0,1150.5 883.0,1126.8 885.5,1177.5 889.5,1151.2 893.8,1191.2 898.8,1144.2 903.8,1172.5 909.5,1186.2 914.5,1144.2 918.2,1118.8 922.5,1183.8 924.5,1149.5 926.2,1114.5 928.0,1166.2 929.2,1142.0 930.5,1077.5 932.5,1133.8 934.2,1107.0 935.5,1121.2 936.8,1101.2 938.0,1137.5 939.5,1116.2 940.5,1148.2 941.8,1122.0 942.5,1162.5 944.5,1132.0 945.5,1138.0 946.8,1172.0 947.5,1150.5 948.8,1165.0 949.5,1216.2 950.8,1150.5 952.0,1163.8 953.0,1208.8 954.5,1172.0 956.2,1173.0 958.0,1227.5 960.5,1203.8 963.0,1212.5 966.2,1276.2 970.5,1198.0 976.2,1288.8 982.0,1156.2 984.5,1177.5 986.2,1248.2 988.0,1215.0 988.8,1233.8 990.5,1197.5 992.5,1244.5 994.5,1202.5 996.2,1218.8 998.8,1210.0 1002.5,1208.0 1005.0,1228.8 1007.5,1221.2 1010.0,1215.5 1011.8,1222.0 1013.8,1180.8 1016.2,1206.2 1018.8,1203.8 1023.0,1201.2 1026.2,1210.5 1028.0,1215.0 1030.5,1219.5 1032.5,1221.2 1035.5,1203.8 1037.0,1193.2 1039.5,1218.8 1042.0,1221.2 1044.5,1217.0 1046.8,1220.0 1048.8,1211.8 1051.2,1158.2 1053.8,1208.0 1055.0,1193.8 1057.5,1193.8 1060.0,1207.0 1062.0,1147.5 1064.2,1131.2 1065.8,1180.8 1067.0,1165.5 1070.5,1122.0 1074.2,1098.8 1078.2,1126.2 1081.8,1087.5 1084.5,1121.2 1086.2,1102.0 1088.8,1108.8 1091.8,1074.5 1094.2,1107.0 1098.2,1147.5 1099.2,1133.8 1100.5,1107.0 1101.8,1121.2 1103.0,1101.2 1104.5,1129.5 1106.2,1122.0 1107.5,1153.2 1108.8,1122.5 1110.0,1128.8 1113.0,1093.0 1114.5,1101.2 1116.2,1132.0 1117.5,1113.8 1118.8,1100.0 1120.5,1121.2 1121.8,1073.0 1123.0,1078.0 1124.2,1106.2 1125.8,1074.5 1127.5,1092.5 1128.8,1114.5 1130.0,1116.2 1131.8,1105.8 1133.2,1072.5 1134.5,1121.2 1136.2,1113.8 1137.5,1113.8 1139.2,1077.5 1140.8,1143.0 1142.5,1077.0 1143.8,1064.5 1145.0,1089.5 1146.2,1083.0 1150.0,1105.0 1153.0,1125.0 1157.0,1112.0 1160.0,1137.0 1163.8,1103.0 1168.0,1093.0 1170.5,1077.5 1172.5,1100.5 1175.0,1129.5 1176.8,1122.0 1178.0,1141.2 1179.5,1097.5 1180.5,1123.8 1182.5,1151.2 1183.8,1128.0 1185.5,1130.0 1187.5,1106.2 1189.2,1106.2 1190.5,1135.0 1192.0,1080.0 1193.8,1138.0 1195.0,1079.2 1196.2,1125.5 1197.5,1081.2 1199.2,1080.5 1202.0,1109.5 1206.8,1073.8 1212.0,1065.0 1217.5,1113.0 1222.0,1105.0 1224.2,1145.5 1226.2,1145.5 1227.5,1095.0 1228.8,1093.0 1230.5,1130.0 1232.0,1153.8 1233.2,1143.0 1234.5,1122.0 1235.5,1150.0 1237.0,1098.0 1238.0,1160.0 1239.5,1176.2 1240.8,1152.5 1242.5,1098.8 1244.5,1152.0 1245.5,1113.8 1247.0,1133.8 1248.8,1157.5 1250.0,1118.8 1251.2,1120.0 1253.0,1141.2 1254.5,1152.0 1256.2,1113.8 1258.0,1130.5 1259.5,1176.2 1262.0,1184.2 1264.5,1197.0 1266.2,1203.8 1267.5,1187.0 1269.5,1236.2 1270.8,1242.5 1272.5,1222.5 1274.2,1191.2 1276.2,1221.2 1278.0,1253.8 1280.5,1267.5 1282.5,1260.5 1285.0,1256.8 1286.8,1221.2 1288.8,1236.2 1290.5,1213.8 1292.5,1213.8 1294.2,1233.2 1295.5,1187.5 1296.8,1182.5 1298.2,1188.0 1300.0,1205.5 1301.8,1190.8 1303.2,1221.2 1305.0,1217.0 1306.2,1198.8 1307.5,1188.0 1309.5,1183.8 1310.8,1215.0 1312.5,1203.8 1314.2,1197.0 1315.8,1171.2 1317.5,1191.8 1318.8,1151.8 1320.0,1140.0 1321.2,1101.2 1322.5,1110.0 1324.2,1125.0 1326.2,1121.2 1329.5,1171.2 1335.5,1135.5" fill="none" stroke="#0000f5" stroke-width="1.9" stroke-linejoin="round" />
<path d="M141.2,1050.0h0M143.0,1032.5h0M144.2,1005.0h0M145.8,1016.2h0M147.0,1000.8h0M148.2,1032.5h0M149.5,1004.5h0M150.8,1038.8h0M152.5,977.5h0M153.8,1069.2h0M155.0,1129.5h0M155.8,1103.8h0M156.8,1149.5h0M157.5,1141.2h0M158.2,1001.8h0M159.5,1082.5h0M160.8,1107.5h0M161.8,1128.8h0M163.0,1137.5h0M164.5,1082.5h0M165.8,1147.0h0M168.2,1157.0h0M170.0,1111.2h0M171.8,1116.2h0M173.2,1192.5h0M175.5,1193.8h0M176.2,1208.0h0M178.0,1170.5h0M179.2,1208.0h0M181.2,1224.5h0M183.2,1230.5h0M186.8,1206.2h0M190.0,1209.5h0M192.5,1212.0h0M197.5,1201.2h0M202.5,1235.5h0M206.8,1215.0h0M208.8,1199.5h0M210.8,1266.8h0M213.0,1238.0h0M215.0,1218.0h0M217.0,1201.2h0M219.2,1189.5h0M223.0,1165.0h0M226.2,1218.2h0M229.2,1210.5h0M233.0,1181.2h0M236.2,1203.8h0M240.0,1197.0h0M243.0,1228.0h0M246.2,1198.0h0M249.2,1212.5h0M252.5,1144.5h0M255.8,1158.0h0M258.8,1199.5h0M261.2,1200.0h0M264.2,1170.5h0M266.2,1168.0h0M269.5,1163.0h0M271.2,1165.5h0M274.5,1121.2h0M277.0,1127.0h0M280.0,1127.0h0M283.8,1125.5h0M285.8,1130.0h0M287.5,1162.5h0M289.5,1165.5h0M290.8,1183.8h0M292.0,1197.0h0M293.0,1176.2h0M294.5,1166.2h0M296.2,1164.5h0M298.8,1155.0h0M300.5,1177.0h0M301.8,1171.2h0M303.2,1200.8h0M304.5,1183.8h0M305.8,1121.2h0M307.5,1220.8h0M309.2,1153.8h0M310.5,1197.5h0M312.0,1192.5h0M312.5,1166.2h0M313.8,1181.2h0M315.0,1169.5h0M316.2,1137.5h0M317.5,1156.2h0M319.2,1138.0h0M320.0,1155.0h0M322.0,1191.2h0M323.8,1138.0h0M325.0,1134.5h0M326.8,1149.5h0M328.8,1190.5h0M330.0,1161.2h0M332.5,1138.0h0M335.5,1121.8h0M339.5,1168.8h0M342.5,1155.0h0M345.8,1182.5h0M349.2,1136.2h0M352.5,1153.8h0M355.8,1131.2h0M359.2,1129.2h0M362.5,1165.8h0M366.2,1137.0h0M369.5,1158.0h0M373.0,1133.0h0M375.5,1184.2h0M378.2,1179.5h0M380.8,1195.5h0M381.8,1171.2h0M383.0,1096.2h0M384.5,1118.8h0M385.8,1146.2h0M388.0,1190.5h0M389.5,1112.5h0M391.2,1035.8h0M392.5,1107.5h0M394.2,1053.0h0M395.8,1086.2h0M397.0,1075.0h0M398.8,1103.0h0M400.5,1132.5h0M402.5,1064.2h0M404.2,1099.2h0M406.2,1081.2h0M408.0,1086.2h0M409.5,1199.5h0M410.8,1092.0h0M412.5,1115.5h0M413.8,1163.0h0M415.5,1046.2h0M416.8,1090.0h0M417.5,1120.5h0M418.8,1114.5h0M420.0,1011.2h0M421.8,1077.5h0M423.2,1086.2h0M424.5,1083.8h0M426.2,1051.2h0M428.8,1067.0h0M431.2,1087.5h0M433.8,1078.8h0M436.2,1080.0h0M438.2,1095.0h0M441.2,1056.2h0M444.2,1088.0h0M447.5,1040.0h0M450.0,1043.0h0M451.2,1134.5h0M452.5,1105.0h0M454.2,1043.8h0M456.2,1081.8h0M458.0,1055.0h0M460.0,1080.5h0M462.0,1065.0h0M464.5,1047.5h0M467.5,1075.5h0M470.0,1043.0h0M473.0,1049.5h0M476.2,1080.0h0M480.0,1071.2h0M483.8,1067.0h0M488.8,1053.8h0M494.2,1040.0h0M499.2,1123.2h0M505.0,1065.5h0M509.2,1070.5h0M514.5,1068.8h0M520.0,1018.8h0M522.0,1040.0h0M524.2,1048.8h0M526.2,1022.0h0M527.5,1058.8h0M528.8,1094.5h0M530.0,996.2h0M531.2,1047.5h0M532.5,984.5h0M533.8,1031.2h0M535.0,1065.0h0M536.2,1053.8h0M537.5,1032.5h0M538.8,1098.0h0M540.0,1037.5h0M541.2,1070.0h0M542.5,1023.8h0M543.8,1052.5h0M545.0,1113.8h0M546.2,1025.0h0M548.0,1043.8h0M550.0,1070.0h0M552.0,1071.2h0M553.2,1139.5h0M555.0,1087.5h0M557.0,1100.0h0M558.8,1088.0h0M560.0,1113.8h0M561.8,1085.5h0M563.8,1096.2h0M565.0,1200.5h0M566.2,1141.2h0M569.5,1137.0h0M571.2,1158.0h0M572.5,1266.2h0M573.8,1138.0h0M575.5,1185.5h0M577.0,1192.5h0M578.8,1200.5h0M580.0,1210.5h0M581.2,1215.0h0M582.5,1233.0h0M584.5,1190.0h0M587.5,1190.0h0M591.8,1234.5h0M597.0,1243.0h0M602.0,1190.5h0M606.8,1218.8h0M612.0,1235.0h0M617.0,1192.5h0M622.5,1205.0h0M627.5,1193.8h0M632.0,1204.2h0M637.0,1204.5h0M641.2,1184.5h0M644.5,1224.2h0M647.5,1241.2h0M651.2,1250.0h0M654.5,1211.2h0M658.0,1220.0h0M660.8,1212.5h0M663.8,1193.0h0M667.0,1215.0h0M670.0,1197.5h0M672.5,1142.0h0M675.0,1236.2h0M678.0,1178.8h0M681.2,1231.8h0M683.8,1183.2h0M687.0,1193.8h0M688.8,1182.5h0M690.8,1161.2h0M692.5,1228.8h0M693.8,1198.8h0M695.0,1232.5h0M696.2,1208.8h0M698.0,1218.8h0M699.5,1150.0h0M701.2,1194.5h0M702.5,1210.0h0M703.8,1235.0h0M705.0,1186.2h0M708.0,1204.5h0M709.2,1183.0h0M710.0,1233.8h0M711.2,1176.2h0M713.0,1123.8h0M714.5,1140.0h0M715.5,1185.0h0M716.8,1128.8h0M718.8,1096.2h0M720.0,1151.2h0M721.8,1189.5h0M722.5,1143.8h0M724.2,1179.2h0M726.2,1162.5h0M727.5,1151.2h0M729.2,1134.2h0M730.5,1157.5h0M732.5,1157.0h0M734.2,1151.2h0M735.8,1157.0h0M737.5,1146.2h0M738.8,1135.5h0M740.8,1187.5h0M743.0,1114.2h0M746.2,1168.0h0M748.0,1158.0h0M750.5,1157.5h0M753.0,1132.0h0M755.5,1222.0h0M758.8,1113.8h0M760.5,1135.0h0M763.2,1188.2h0M765.8,1155.5h0M770.0,1130.5h0M771.2,1158.8h0M772.5,1137.5h0M774.2,1106.2h0M775.8,1057.5h0M777.5,1158.8h0M778.8,1066.2h0M780.5,1077.5h0M782.0,1077.0h0M784.5,1090.0h0M787.0,1091.8h0M789.2,1080.5h0M792.0,1065.0h0M794.5,1047.0h0M796.8,1136.2h0M798.8,1058.8h0M802.0,1083.0h0M804.2,1080.0h0M806.5,1090.0h0M808.8,1123.8h0M810.8,1092.0h0M813.0,1092.5h0M815.8,1067.0h0M818.8,1115.5h0M820.5,1128.8h0M823.8,1116.2h0M826.2,1084.5h0M829.2,1059.2h0M831.2,1108.0h0M833.0,1073.0h0M834.5,1065.0h0M835.5,1081.2h0M837.0,1092.0h0M838.2,1038.0h0M839.5,1116.2h0M841.2,1099.5h0M843.0,1054.2h0M844.5,1052.5h0M846.8,1087.0h0M848.0,1025.0h0M849.5,1045.5h0M850.8,1008.0h0M852.0,1080.0h0M853.0,1065.0h0M855.0,1128.0h0M857.5,1054.5h0M859.2,1087.5h0M860.5,1093.8h0M861.8,1092.0h0M863.2,1105.0h0M864.5,1083.0h0M865.8,1144.5h0M867.0,1102.5h0M868.0,1134.2h0M869.5,1115.0h0M870.8,1137.5h0M872.0,1133.0h0M873.0,1120.0h0M874.2,1165.0h0M875.8,1158.8h0M877.0,1169.2h0M878.2,1176.2h0M880.0,1150.5h0M883.0,1126.8h0M885.5,1177.5h0M889.5,1151.2h0M893.8,1191.2h0M898.8,1144.2h0M903.8,1172.5h0M909.5,1186.2h0M914.5,1144.2h0M918.2,1118.8h0M922.5,1183.8h0M924.5,1149.5h0M926.2,1114.5h0M928.0,1166.2h0M929.2,1142.0h0M930.5,1077.5h0M932.5,1133.8h0M934.2,1107.0h0M935.5,1121.2h0M936.8,1101.2h0M938.0,1137.5h0M939.5,1116.2h0M940.5,1148.2h0M941.8,1122.0h0M942.5,1162.5h0M944.5,1132.0h0M945.5,1138.0h0M946.8,1172.0h0M947.5,1150.5h0M948.8,1165.0h0M949.5,1216.2h0M950.8,1150.5h0M952.0,1163.8h0M953.0,1208.8h0M954.5,1172.0h0M956.2,1173.0h0M958.0,1227.5h0M960.5,1203.8h0M963.0,1212.5h0M966.2,1276.2h0M970.5,1198.0h0M976.2,1288.8h0M982.0,1156.2h0M984.5,1177.5h0M986.2,1248.2h0M988.0,1215.0h0M988.8,1233.8h0M990.5,1197.5h0M992.5,1244.5h0M994.5,1202.5h0M996.2,1218.8h0M998.8,1210.0h0M1002.5,1208.0h0M1005.0,1228.8h0M1007.5,1221.2h0M1010.0,1215.5h0M1011.8,1222.0h0M1013.8,1180.8h0M1016.2,1206.2h0M1018.8,1203.8h0M1023.0,1201.2h0M1026.2,1210.5h0M1028.0,1215.0h0M1030.5,1219.5h0M1032.5,1221.2h0M1035.5,1203.8h0M1037.0,1193.2h0M1039.5,1218.8h0M1042.0,1221.2h0M1044.5,1217.0h0M1046.8,1220.0h0M1048.8,1211.8h0M1051.2,1158.2h0M1053.8,1208.0h0M1055.0,1193.8h0M1057.5,1193.8h0M1060.0,1207.0h0M1062.0,1147.5h0M1064.2,1131.2h0M1065.8,1180.8h0M1067.0,1165.5h0M1070.5,1122.0h0M1074.2,1098.8h0M1078.2,1126.2h0M1081.8,1087.5h0M1084.5,1121.2h0M1086.2,1102.0h0M1088.8,1108.8h0M1091.8,1074.5h0M1094.2,1107.0h0M1098.2,1147.5h0M1099.2,1133.8h0M1100.5,1107.0h0M1101.8,1121.2h0M1103.0,1101.2h0M1104.5,1129.5h0M1106.2,1122.0h0M1107.5,1153.2h0M1108.8,1122.5h0M1110.0,1128.8h0M1113.0,1093.0h0M1114.5,1101.2h0M1116.2,1132.0h0M1117.5,1113.8h0M1118.8,1100.0h0M1120.5,1121.2h0M1121.8,1073.0h0M1123.0,1078.0h0M1124.2,1106.2h0M1125.8,1074.5h0M1127.5,1092.5h0M1128.8,1114.5h0M1130.0,1116.2h0M1131.8,1105.8h0M1133.2,1072.5h0M1134.5,1121.2h0M1136.2,1113.8h0M1137.5,1113.8h0M1139.2,1077.5h0M1140.8,1143.0h0M1142.5,1077.0h0M1143.8,1064.5h0M1145.0,1089.5h0M1146.2,1083.0h0M1150.0,1105.0h0M1153.0,1125.0h0M1157.0,1112.0h0M1160.0,1137.0h0M1163.8,1103.0h0M1168.0,1093.0h0M1170.5,1077.5h0M1172.5,1100.5h0M1175.0,1129.5h0M1176.8,1122.0h0M1178.0,1141.2h0M1179.5,1097.5h0M1180.5,1123.8h0M1182.5,1151.2h0M1183.8,1128.0h0M1185.5,1130.0h0M1187.5,1106.2h0M1189.2,1106.2h0M1190.5,1135.0h0M1192.0,1080.0h0M1193.8,1138.0h0M1195.0,1079.2h0M1196.2,1125.5h0M1197.5,1081.2h0M1199.2,1080.5h0M1202.0,1109.5h0M1206.8,1073.8h0M1212.0,1065.0h0M1217.5,1113.0h0M1222.0,1105.0h0M1224.2,1145.5h0M1226.2,1145.5h0M1227.5,1095.0h0M1228.8,1093.0h0M1230.5,1130.0h0M1232.0,1153.8h0M1233.2,1143.0h0M1234.5,1122.0h0M1235.5,1150.0h0M1237.0,1098.0h0M1238.0,1160.0h0M1239.5,1176.2h0M1240.8,1152.5h0M1242.5,1098.8h0M1244.5,1152.0h0M1245.5,1113.8h0M1247.0,1133.8h0M1248.8,1157.5h0M1250.0,1118.8h0M1251.2,1120.0h0M1253.0,1141.2h0M1254.5,1152.0h0M1256.2,1113.8h0M1258.0,1130.5h0M1259.5,1176.2h0M1262.0,1184.2h0M1264.5,1197.0h0M1266.2,1203.8h0M1267.5,1187.0h0M1269.5,1236.2h0M1270.8,1242.5h0M1272.5,1222.5h0M1274.2,1191.2h0M1276.2,1221.2h0M1278.0,1253.8h0M1280.5,1267.5h0M1282.5,1260.5h0M1285.0,1256.8h0M1286.8,1221.2h0M1288.8,1236.2h0M1290.5,1213.8h0M1292.5,1213.8h0M1294.2,1233.2h0M1295.5,1187.5h0M1296.8,1182.5h0M1298.2,1188.0h0M1300.0,1205.5h0M1301.8,1190.8h0M1303.2,1221.2h0M1305.0,1217.0h0M1306.2,1198.8h0M1307.5,1188.0h0M1309.5,1183.8h0M1310.8,1215.0h0M1312.5,1203.8h0M1314.2,1197.0h0M1315.8,1171.2h0M1317.5,1191.8h0M1318.8,1151.8h0M1320.0,1140.0h0M1321.2,1101.2h0M1322.5,1110.0h0M1324.2,1125.0h0M1326.2,1121.2h0M1329.5,1171.2h0M1335.5,1135.5h0" fill="none" stroke="#111" stroke-width="4.10" stroke-linecap="round"/>
<polyline points="141.2,1305.5 143.2,1285.5 145.0,1287.5 147.0,1293.8 148.2,1315.0 150.0,1273.8 151.2,1325.0 152.5,1242.0 153.8,1309.2 155.0,1408.0 155.8,1355.0 156.8,1395.0 157.5,1443.8 158.2,1250.0 159.5,1339.5 160.5,1355.5 161.8,1380.5 163.2,1396.2 164.5,1321.2 165.8,1321.2 167.5,1384.5 168.8,1429.5 170.8,1331.8 172.0,1348.8 173.2,1413.0 175.5,1485.0 177.0,1415.5 178.2,1374.5 179.2,1426.2 181.2,1415.0 183.2,1443.2 187.0,1415.0 192.0,1397.0 197.5,1385.5 202.5,1430.5 206.8,1402.0 208.8,1388.8 210.8,1449.2 213.0,1433.2 215.0,1393.0 217.0,1379.2 219.2,1365.5 223.0,1338.8 226.2,1455.0 229.2,1399.2 233.0,1357.0 236.2,1400.0 240.0,1400.5 243.0,1465.0 246.2,1456.2 249.2,1437.5 252.5,1317.0 255.8,1365.5 258.8,1427.5 261.2,1426.2 264.2,1385.5 266.2,1380.8 269.5,1365.5 271.2,1375.5 274.5,1336.2 277.0,1336.2 283.8,1326.2 285.0,1413.0 285.8,1390.0 287.5,1418.8 288.8,1397.5 289.5,1368.8 290.8,1435.5 292.0,1397.0 293.0,1395.5 294.5,1415.0 296.2,1392.5 297.5,1376.2 298.8,1397.5 300.5,1402.5 301.8,1385.5 303.2,1420.0 304.5,1447.0 305.5,1355.0 307.5,1492.5 309.2,1406.2 310.5,1420.0 312.0,1423.0 312.5,1409.2 313.8,1400.0 315.0,1374.5 316.2,1387.5 317.5,1370.5 319.2,1386.2 320.0,1382.0 322.0,1441.8 323.8,1391.2 325.0,1413.8 326.8,1363.8 328.8,1384.5 330.8,1342.0 332.5,1347.0 335.5,1349.5 339.5,1396.2 342.5,1398.0 345.8,1419.2 349.2,1300.8 352.5,1324.2 355.8,1344.5 359.2,1317.0 362.5,1375.0 366.2,1361.2 369.5,1363.8 373.0,1357.5 375.5,1395.0 378.2,1356.2 380.0,1406.8 381.8,1363.0 383.0,1283.8 384.5,1323.8 386.2,1386.2 388.0,1375.0 388.8,1288.8 390.0,1307.0 391.2,1231.8 392.5,1297.5 394.2,1248.8 395.0,1325.0 396.8,1268.8 397.5,1339.5 399.5,1335.0 400.0,1363.8 401.8,1347.0 403.0,1344.2 404.2,1384.5 406.2,1331.2 407.0,1315.0 408.0,1325.0 408.8,1330.0 409.5,1463.8 410.8,1317.0 411.8,1327.5 412.5,1356.2 413.8,1342.5 414.5,1403.2 415.0,1365.0 415.8,1240.5 416.8,1306.2 417.5,1401.8 418.8,1331.2 420.0,1234.2 421.8,1335.5 423.2,1310.5 424.5,1316.2 426.2,1301.2 428.8,1312.5 431.2,1357.0 433.8,1310.8 436.2,1303.8 438.2,1311.2 441.2,1268.0 444.2,1325.0 446.2,1253.0 448.0,1261.2 450.0,1267.0 451.2,1365.5 452.5,1321.2 454.2,1253.8 456.2,1312.0 458.0,1290.0 460.0,1316.2 462.0,1283.0 464.5,1260.0 467.5,1283.0 470.0,1306.2 473.0,1260.5 475.5,1290.5 480.0,1285.5 483.8,1290.0 488.8,1287.0 494.2,1226.8 499.2,1364.2 505.0,1338.0 509.2,1325.0 514.5,1350.0 520.0,1230.5 522.0,1330.8 524.2,1293.8 526.2,1302.5 528.0,1283.8 528.8,1330.8 530.2,1237.5 531.2,1303.2 532.5,1237.0 533.8,1296.2 535.0,1282.0 536.2,1332.0 537.5,1261.8 538.8,1382.0 539.5,1221.2 540.8,1343.0 541.8,1276.2 543.0,1306.2 544.2,1273.8 545.0,1399.2 546.2,1297.5 547.0,1269.5 548.2,1270.5 550.0,1312.5 551.2,1316.2 552.5,1391.2 554.2,1306.8 555.5,1320.5 557.0,1360.0 558.8,1329.2 560.0,1364.5 561.8,1321.2 563.8,1303.8 565.0,1418.8 566.8,1370.0 568.8,1334.5 570.0,1342.0 571.2,1370.0 572.5,1501.2 574.5,1358.8 576.2,1383.8 577.5,1379.5 578.8,1351.2 580.0,1327.5 582.5,1358.8 584.5,1359.5 587.5,1323.2 591.8,1422.5 597.0,1380.0 602.0,1360.5 606.8,1408.0 612.0,1386.2 617.0,1352.0 622.5,1377.0 627.5,1328.8 632.0,1360.5 637.0,1335.5 641.2,1340.5 644.5,1383.0 647.5,1412.0 651.2,1408.0 654.5,1345.5 658.0,1349.5 660.8,1326.2 663.8,1328.0 667.0,1350.0 670.0,1324.5 672.5,1288.0 675.0,1395.5 678.0,1325.0 681.2,1387.0 683.8,1355.0 687.0,1350.0 688.8,1345.5 690.8,1329.5 692.5,1391.2 693.8,1353.8 695.0,1412.5 696.2,1372.0 698.0,1381.2 699.5,1321.8 700.8,1429.5 702.0,1398.2 703.2,1467.5 704.5,1415.5 706.2,1440.0 707.5,1442.0 708.8,1398.0 710.5,1485.0 713.0,1349.2 714.5,1393.0 716.2,1420.0 717.5,1338.8 719.2,1308.2 720.8,1353.0 721.8,1391.2 723.0,1325.5 724.2,1397.0 726.2,1372.0 727.5,1349.2 729.2,1321.2 730.5,1363.8 732.5,1338.0 734.2,1364.5 737.0,1365.5 739.2,1372.5 741.2,1423.0 743.0,1335.8 745.8,1430.5 748.0,1392.5 750.5,1398.0 753.0,1357.0 755.5,1449.5 758.8,1364.5 761.2,1369.5 763.2,1401.8 765.8,1364.5 770.0,1329.5 771.2,1390.5 773.0,1331.2 775.8,1313.8 777.5,1416.2 778.8,1319.2 780.5,1315.5 782.0,1321.2 784.5,1375.8 787.0,1338.8 789.2,1316.2 792.0,1296.2 795.0,1309.2 796.8,1393.0 799.5,1313.0 802.0,1307.5 804.2,1324.2 806.5,1280.8 808.8,1331.2 811.2,1329.5 813.0,1328.0 815.8,1313.8 818.0,1357.0 820.5,1358.8 823.8,1356.2 826.2,1320.0 829.2,1279.5 831.2,1310.0 833.0,1296.2 834.5,1313.8 835.5,1322.5 837.0,1337.0 838.2,1277.0 839.5,1351.2 841.2,1335.5 843.0,1290.0 845.0,1333.0 846.2,1289.2 847.5,1235.0 849.2,1268.8 850.8,1213.2 852.0,1295.5 853.0,1278.8 854.5,1346.2 855.8,1312.5 857.5,1253.2 859.2,1279.5 861.2,1288.0 863.2,1305.0 864.5,1320.5 865.8,1288.8 867.5,1285.8 868.8,1353.0 870.0,1303.8 871.2,1301.8 872.5,1366.2 874.2,1337.0 876.2,1348.0 878.2,1390.0 879.5,1376.8 881.2,1329.2 883.0,1348.0 885.5,1357.5 889.5,1352.5 893.8,1399.2 898.8,1340.0 903.8,1369.2 909.5,1405.0 914.5,1322.5 918.2,1368.0 922.5,1392.5 924.5,1407.5 926.2,1335.5 928.0,1431.2 930.0,1311.2 931.8,1322.0 932.5,1329.2 933.8,1352.0 935.0,1345.0 936.2,1333.0 937.5,1377.5 938.8,1341.2 940.0,1380.0 941.2,1356.2 942.5,1414.5 943.8,1365.5 945.0,1370.5 946.2,1348.8 946.8,1405.5 948.0,1365.5 948.8,1343.8 950.0,1448.0 951.2,1359.5 952.0,1386.2 953.0,1397.5 954.2,1380.0 956.2,1397.0 958.0,1428.8 960.5,1399.2 963.0,1404.5 965.5,1481.2 971.2,1401.8 976.2,1552.0 982.0,1352.5 985.5,1496.8 988.0,1409.2 988.8,1469.5 990.5,1426.2 993.2,1485.0 994.5,1413.0 996.2,1435.0 998.0,1438.8 1000.0,1432.0 1002.5,1412.5 1005.0,1453.2 1007.5,1439.5 1010.0,1412.0 1011.8,1458.8 1014.2,1383.8 1016.2,1397.0 1018.8,1397.0 1021.2,1413.0 1023.0,1415.5 1026.2,1422.5 1028.0,1408.8 1030.5,1436.2 1032.5,1434.5 1035.5,1408.0 1037.0,1383.0 1039.5,1391.2 1042.0,1419.5 1044.5,1403.8 1046.8,1379.5 1050.8,1309.5 1052.0,1378.8 1055.5,1412.0 1058.0,1401.8 1060.5,1390.5 1062.0,1288.0 1063.8,1391.2 1065.0,1332.0 1065.8,1412.5 1067.0,1401.2 1070.5,1343.0 1074.2,1300.8 1078.2,1396.2 1081.8,1314.5 1084.5,1352.0 1086.2,1323.0 1088.8,1336.8 1091.8,1306.2 1094.2,1337.5 1098.2,1363.8 1099.2,1360.5 1100.5,1315.8 1101.8,1324.5 1103.0,1390.5 1104.5,1330.8 1105.0,1310.0 1106.2,1394.5 1108.0,1398.8 1110.0,1400.8 1113.0,1295.5 1116.2,1400.5 1117.5,1348.0 1120.5,1296.8 1122.5,1296.8 1124.2,1315.8 1125.5,1306.2 1127.5,1322.5 1128.8,1372.0 1130.0,1418.8 1131.8,1368.0 1133.2,1288.8 1134.5,1379.2 1136.2,1338.8 1137.5,1392.5 1139.2,1347.0 1140.8,1392.5 1142.5,1338.0 1144.2,1272.0 1146.2,1352.5 1148.0,1314.5 1150.8,1343.0 1153.8,1405.5 1157.0,1345.0 1160.0,1346.2 1163.8,1357.5 1168.0,1337.0 1170.5,1369.5 1172.5,1329.5 1175.0,1368.8 1176.8,1350.5 1178.0,1395.5 1179.5,1288.0 1180.5,1352.5 1182.5,1392.0 1184.2,1350.0 1185.5,1407.0 1187.5,1343.0 1189.2,1355.0 1190.5,1353.8 1192.0,1391.2 1193.0,1320.5 1194.2,1433.2 1195.5,1353.8 1197.0,1357.5 1199.2,1331.2 1202.0,1378.0 1206.8,1347.5 1212.0,1278.8 1217.5,1331.2 1222.0,1357.5 1224.2,1410.0 1226.2,1455.5 1227.5,1370.5 1228.8,1365.5 1230.5,1408.0 1232.0,1325.5 1233.2,1412.0 1234.5,1377.5 1235.5,1392.5 1237.0,1342.0 1238.0,1411.2 1239.5,1405.5 1241.2,1378.8 1242.5,1315.8 1244.5,1337.5 1245.5,1378.8 1247.0,1370.0 1248.8,1408.0 1250.0,1340.0 1251.2,1350.0 1253.0,1393.8 1254.5,1369.5 1256.2,1335.5 1258.0,1324.5 1260.0,1413.8 1262.0,1400.0 1264.5,1402.0 1266.2,1400.0 1267.5,1408.0 1269.5,1454.5 1270.8,1443.8 1272.5,1415.0 1274.2,1345.0 1275.8,1392.0 1277.0,1363.2 1278.0,1422.5 1280.0,1420.5 1282.0,1395.8 1283.8,1451.2 1286.2,1386.2 1288.0,1402.5 1289.5,1413.0 1291.2,1386.2 1292.5,1391.2 1294.2,1449.5 1295.5,1385.5 1296.8,1377.0 1298.8,1418.0 1300.0,1378.2 1301.2,1443.0 1302.5,1368.0 1303.8,1366.2 1305.0,1435.5 1307.0,1422.0 1308.2,1388.8 1309.5,1354.2 1310.8,1412.0 1311.8,1368.8 1313.0,1380.5 1314.5,1398.8 1315.8,1373.8 1317.5,1387.5 1318.2,1380.0 1319.5,1346.2 1320.0,1307.0 1321.2,1345.0 1322.5,1314.2 1323.2,1337.5 1324.5,1320.0 1326.2,1352.5 1329.5,1353.8 1335.0,1361.2" fill="none" stroke="#0a9a3c" stroke-width="1.9" stroke-linejoin="round" />
<path d="M141.2,1305.5h0M143.2,1285.5h0M145.0,1287.5h0M147.0,1293.8h0M148.2,1315.0h0M150.0,1273.8h0M151.2,1325.0h0M152.5,1242.0h0M153.8,1309.2h0M155.0,1408.0h0M155.8,1355.0h0M156.8,1395.0h0M157.5,1443.8h0M158.2,1250.0h0M159.5,1339.5h0M160.5,1355.5h0M161.8,1380.5h0M163.2,1396.2h0M164.5,1321.2h0M165.8,1321.2h0M167.5,1384.5h0M168.8,1429.5h0M170.8,1331.8h0M172.0,1348.8h0M173.2,1413.0h0M175.5,1485.0h0M177.0,1415.5h0M178.2,1374.5h0M179.2,1426.2h0M181.2,1415.0h0M183.2,1443.2h0M187.0,1415.0h0M192.0,1397.0h0M197.5,1385.5h0M202.5,1430.5h0M206.8,1402.0h0M208.8,1388.8h0M210.8,1449.2h0M213.0,1433.2h0M215.0,1393.0h0M217.0,1379.2h0M219.2,1365.5h0M223.0,1338.8h0M226.2,1455.0h0M229.2,1399.2h0M233.0,1357.0h0M236.2,1400.0h0M240.0,1400.5h0M243.0,1465.0h0M246.2,1456.2h0M249.2,1437.5h0M252.5,1317.0h0M255.8,1365.5h0M258.8,1427.5h0M261.2,1426.2h0M264.2,1385.5h0M266.2,1380.8h0M269.5,1365.5h0M271.2,1375.5h0M274.5,1336.2h0M277.0,1336.2h0M283.8,1326.2h0M285.0,1413.0h0M285.8,1390.0h0M287.5,1418.8h0M288.8,1397.5h0M289.5,1368.8h0M290.8,1435.5h0M292.0,1397.0h0M293.0,1395.5h0M294.5,1415.0h0M296.2,1392.5h0M297.5,1376.2h0M298.8,1397.5h0M300.5,1402.5h0M301.8,1385.5h0M303.2,1420.0h0M304.5,1447.0h0M305.5,1355.0h0M307.5,1492.5h0M309.2,1406.2h0M310.5,1420.0h0M312.0,1423.0h0M312.5,1409.2h0M313.8,1400.0h0M315.0,1374.5h0M316.2,1387.5h0M317.5,1370.5h0M319.2,1386.2h0M320.0,1382.0h0M322.0,1441.8h0M323.8,1391.2h0M325.0,1413.8h0M326.8,1363.8h0M328.8,1384.5h0M330.8,1342.0h0M332.5,1347.0h0M335.5,1349.5h0M339.5,1396.2h0M342.5,1398.0h0M345.8,1419.2h0M349.2,1300.8h0M352.5,1324.2h0M355.8,1344.5h0M359.2,1317.0h0M362.5,1375.0h0M366.2,1361.2h0M369.5,1363.8h0M373.0,1357.5h0M375.5,1395.0h0M378.2,1356.2h0M380.0,1406.8h0M381.8,1363.0h0M383.0,1283.8h0M384.5,1323.8h0M386.2,1386.2h0M388.0,1375.0h0M388.8,1288.8h0M390.0,1307.0h0M391.2,1231.8h0M392.5,1297.5h0M394.2,1248.8h0M395.0,1325.0h0M396.8,1268.8h0M397.5,1339.5h0M399.5,1335.0h0M400.0,1363.8h0M401.8,1347.0h0M403.0,1344.2h0M404.2,1384.5h0M406.2,1331.2h0M407.0,1315.0h0M408.0,1325.0h0M408.8,1330.0h0M409.5,1463.8h0M410.8,1317.0h0M411.8,1327.5h0M412.5,1356.2h0M413.8,1342.5h0M414.5,1403.2h0M415.0,1365.0h0M415.8,1240.5h0M416.8,1306.2h0M417.5,1401.8h0M418.8,1331.2h0M420.0,1234.2h0M421.8,1335.5h0M423.2,1310.5h0M424.5,1316.2h0M426.2,1301.2h0M428.8,1312.5h0M431.2,1357.0h0M433.8,1310.8h0M436.2,1303.8h0M438.2,1311.2h0M441.2,1268.0h0M444.2,1325.0h0M446.2,1253.0h0M448.0,1261.2h0M450.0,1267.0h0M451.2,1365.5h0M452.5,1321.2h0M454.2,1253.8h0M456.2,1312.0h0M458.0,1290.0h0M460.0,1316.2h0M462.0,1283.0h0M464.5,1260.0h0M467.5,1283.0h0M470.0,1306.2h0M473.0,1260.5h0M475.5,1290.5h0M480.0,1285.5h0M483.8,1290.0h0M488.8,1287.0h0M494.2,1226.8h0M499.2,1364.2h0M505.0,1338.0h0M509.2,1325.0h0M514.5,1350.0h0M520.0,1230.5h0M522.0,1330.8h0M524.2,1293.8h0M526.2,1302.5h0M528.0,1283.8h0M528.8,1330.8h0M530.2,1237.5h0M531.2,1303.2h0M532.5,1237.0h0M533.8,1296.2h0M535.0,1282.0h0M536.2,1332.0h0M537.5,1261.8h0M538.8,1382.0h0M539.5,1221.2h0M540.8,1343.0h0M541.8,1276.2h0M543.0,1306.2h0M544.2,1273.8h0M545.0,1399.2h0M546.2,1297.5h0M547.0,1269.5h0M548.2,1270.5h0M550.0,1312.5h0M551.2,1316.2h0M552.5,1391.2h0M554.2,1306.8h0M555.5,1320.5h0M557.0,1360.0h0M558.8,1329.2h0M560.0,1364.5h0M561.8,1321.2h0M563.8,1303.8h0M565.0,1418.8h0M566.8,1370.0h0M568.8,1334.5h0M570.0,1342.0h0M571.2,1370.0h0M572.5,1501.2h0M574.5,1358.8h0M576.2,1383.8h0M577.5,1379.5h0M578.8,1351.2h0M580.0,1327.5h0M582.5,1358.8h0M584.5,1359.5h0M587.5,1323.2h0M591.8,1422.5h0M597.0,1380.0h0M602.0,1360.5h0M606.8,1408.0h0M612.0,1386.2h0M617.0,1352.0h0M622.5,1377.0h0M627.5,1328.8h0M632.0,1360.5h0M637.0,1335.5h0M641.2,1340.5h0M644.5,1383.0h0M647.5,1412.0h0M651.2,1408.0h0M654.5,1345.5h0M658.0,1349.5h0M660.8,1326.2h0M663.8,1328.0h0M667.0,1350.0h0M670.0,1324.5h0M672.5,1288.0h0M675.0,1395.5h0M678.0,1325.0h0M681.2,1387.0h0M683.8,1355.0h0M687.0,1350.0h0M688.8,1345.5h0M690.8,1329.5h0M692.5,1391.2h0M693.8,1353.8h0M695.0,1412.5h0M696.2,1372.0h0M698.0,1381.2h0M699.5,1321.8h0M700.8,1429.5h0M702.0,1398.2h0M703.2,1467.5h0M704.5,1415.5h0M706.2,1440.0h0M707.5,1442.0h0M708.8,1398.0h0M710.5,1485.0h0M713.0,1349.2h0M714.5,1393.0h0M716.2,1420.0h0M717.5,1338.8h0M719.2,1308.2h0M720.8,1353.0h0M721.8,1391.2h0M723.0,1325.5h0M724.2,1397.0h0M726.2,1372.0h0M727.5,1349.2h0M729.2,1321.2h0M730.5,1363.8h0M732.5,1338.0h0M734.2,1364.5h0M737.0,1365.5h0M739.2,1372.5h0M741.2,1423.0h0M743.0,1335.8h0M745.8,1430.5h0M748.0,1392.5h0M750.5,1398.0h0M753.0,1357.0h0M755.5,1449.5h0M758.8,1364.5h0M761.2,1369.5h0M763.2,1401.8h0M765.8,1364.5h0M770.0,1329.5h0M771.2,1390.5h0M773.0,1331.2h0M775.8,1313.8h0M777.5,1416.2h0M778.8,1319.2h0M780.5,1315.5h0M782.0,1321.2h0M784.5,1375.8h0M787.0,1338.8h0M789.2,1316.2h0M792.0,1296.2h0M795.0,1309.2h0M796.8,1393.0h0M799.5,1313.0h0M802.0,1307.5h0M804.2,1324.2h0M806.5,1280.8h0M808.8,1331.2h0M811.2,1329.5h0M813.0,1328.0h0M815.8,1313.8h0M818.0,1357.0h0M820.5,1358.8h0M823.8,1356.2h0M826.2,1320.0h0M829.2,1279.5h0M831.2,1310.0h0M833.0,1296.2h0M834.5,1313.8h0M835.5,1322.5h0M837.0,1337.0h0M838.2,1277.0h0M839.5,1351.2h0M841.2,1335.5h0M843.0,1290.0h0M845.0,1333.0h0M846.2,1289.2h0M847.5,1235.0h0M849.2,1268.8h0M850.8,1213.2h0M852.0,1295.5h0M853.0,1278.8h0M854.5,1346.2h0M855.8,1312.5h0M857.5,1253.2h0M859.2,1279.5h0M861.2,1288.0h0M863.2,1305.0h0M864.5,1320.5h0M865.8,1288.8h0M867.5,1285.8h0M868.8,1353.0h0M870.0,1303.8h0M871.2,1301.8h0M872.5,1366.2h0M874.2,1337.0h0M876.2,1348.0h0M878.2,1390.0h0M879.5,1376.8h0M881.2,1329.2h0M883.0,1348.0h0M885.5,1357.5h0M889.5,1352.5h0M893.8,1399.2h0M898.8,1340.0h0M903.8,1369.2h0M909.5,1405.0h0M914.5,1322.5h0M918.2,1368.0h0M922.5,1392.5h0M924.5,1407.5h0M926.2,1335.5h0M928.0,1431.2h0M930.0,1311.2h0M931.8,1322.0h0M932.5,1329.2h0M933.8,1352.0h0M935.0,1345.0h0M936.2,1333.0h0M937.5,1377.5h0M938.8,1341.2h0M940.0,1380.0h0M941.2,1356.2h0M942.5,1414.5h0M943.8,1365.5h0M945.0,1370.5h0M946.2,1348.8h0M946.8,1405.5h0M948.0,1365.5h0M948.8,1343.8h0M950.0,1448.0h0M951.2,1359.5h0M952.0,1386.2h0M953.0,1397.5h0M954.2,1380.0h0M956.2,1397.0h0M958.0,1428.8h0M960.5,1399.2h0M963.0,1404.5h0M965.5,1481.2h0M971.2,1401.8h0M976.2,1552.0h0M982.0,1352.5h0M985.5,1496.8h0M988.0,1409.2h0M988.8,1469.5h0M990.5,1426.2h0M993.2,1485.0h0M994.5,1413.0h0M996.2,1435.0h0M998.0,1438.8h0M1000.0,1432.0h0M1002.5,1412.5h0M1005.0,1453.2h0M1007.5,1439.5h0M1010.0,1412.0h0M1011.8,1458.8h0M1014.2,1383.8h0M1016.2,1397.0h0M1018.8,1397.0h0M1021.2,1413.0h0M1023.0,1415.5h0M1026.2,1422.5h0M1028.0,1408.8h0M1030.5,1436.2h0M1032.5,1434.5h0M1035.5,1408.0h0M1037.0,1383.0h0M1039.5,1391.2h0M1042.0,1419.5h0M1044.5,1403.8h0M1046.8,1379.5h0M1050.8,1309.5h0M1052.0,1378.8h0M1055.5,1412.0h0M1058.0,1401.8h0M1060.5,1390.5h0M1062.0,1288.0h0M1063.8,1391.2h0M1065.0,1332.0h0M1065.8,1412.5h0M1067.0,1401.2h0M1070.5,1343.0h0M1074.2,1300.8h0M1078.2,1396.2h0M1081.8,1314.5h0M1084.5,1352.0h0M1086.2,1323.0h0M1088.8,1336.8h0M1091.8,1306.2h0M1094.2,1337.5h0M1098.2,1363.8h0M1099.2,1360.5h0M1100.5,1315.8h0M1101.8,1324.5h0M1103.0,1390.5h0M1104.5,1330.8h0M1105.0,1310.0h0M1106.2,1394.5h0M1108.0,1398.8h0M1110.0,1400.8h0M1113.0,1295.5h0M1116.2,1400.5h0M1117.5,1348.0h0M1120.5,1296.8h0M1122.5,1296.8h0M1124.2,1315.8h0M1125.5,1306.2h0M1127.5,1322.5h0M1128.8,1372.0h0M1130.0,1418.8h0M1131.8,1368.0h0M1133.2,1288.8h0M1134.5,1379.2h0M1136.2,1338.8h0M1137.5,1392.5h0M1139.2,1347.0h0M1140.8,1392.5h0M1142.5,1338.0h0M1144.2,1272.0h0M1146.2,1352.5h0M1148.0,1314.5h0M1150.8,1343.0h0M1153.8,1405.5h0M1157.0,1345.0h0M1160.0,1346.2h0M1163.8,1357.5h0M1168.0,1337.0h0M1170.5,1369.5h0M1172.5,1329.5h0M1175.0,1368.8h0M1176.8,1350.5h0M1178.0,1395.5h0M1179.5,1288.0h0M1180.5,1352.5h0M1182.5,1392.0h0M1184.2,1350.0h0M1185.5,1407.0h0M1187.5,1343.0h0M1189.2,1355.0h0M1190.5,1353.8h0M1192.0,1391.2h0M1193.0,1320.5h0M1194.2,1433.2h0M1195.5,1353.8h0M1197.0,1357.5h0M1199.2,1331.2h0M1202.0,1378.0h0M1206.8,1347.5h0M1212.0,1278.8h0M1217.5,1331.2h0M1222.0,1357.5h0M1224.2,1410.0h0M1226.2,1455.5h0M1227.5,1370.5h0M1228.8,1365.5h0M1230.5,1408.0h0M1232.0,1325.5h0M1233.2,1412.0h0M1234.5,1377.5h0M1235.5,1392.5h0M1237.0,1342.0h0M1238.0,1411.2h0M1239.5,1405.5h0M1241.2,1378.8h0M1242.5,1315.8h0M1244.5,1337.5h0M1245.5,1378.8h0M1247.0,1370.0h0M1248.8,1408.0h0M1250.0,1340.0h0M1251.2,1350.0h0M1253.0,1393.8h0M1254.5,1369.5h0M1256.2,1335.5h0M1258.0,1324.5h0M1260.0,1413.8h0M1262.0,1400.0h0M1264.5,1402.0h0M1266.2,1400.0h0M1267.5,1408.0h0M1269.5,1454.5h0M1270.8,1443.8h0M1272.5,1415.0h0M1274.2,1345.0h0M1275.8,1392.0h0M1277.0,1363.2h0M1278.0,1422.5h0M1280.0,1420.5h0M1282.0,1395.8h0M1283.8,1451.2h0M1286.2,1386.2h0M1288.0,1402.5h0M1289.5,1413.0h0M1291.2,1386.2h0M1292.5,1391.2h0M1294.2,1449.5h0M1295.5,1385.5h0M1296.8,1377.0h0M1298.8,1418.0h0M1300.0,1378.2h0M1301.2,1443.0h0M1302.5,1368.0h0M1303.8,1366.2h0M1305.0,1435.5h0M1307.0,1422.0h0M1308.2,1388.8h0M1309.5,1354.2h0M1310.8,1412.0h0M1311.8,1368.8h0M1313.0,1380.5h0M1314.5,1398.8h0M1315.8,1373.8h0M1317.5,1387.5h0M1318.2,1380.0h0M1319.5,1346.2h0M1320.0,1307.0h0M1321.2,1345.0h0M1322.5,1314.2h0M1323.2,1337.5h0M1324.5,1320.0h0M1326.2,1352.5h0M1329.5,1353.8h0M1335.0,1361.2h0" fill="none" stroke="#111" stroke-width="4.10" stroke-linecap="round"/>
<rect x="132.6" y="10" width="1213.4" height="27" fill="none" stroke="#000" stroke-width="2.1"/>
<text x="136.0" y="34.0" font-size="27.3" text-anchor="start" >MIS</text>
<text x="206.0" y="34.0" font-size="27.3" text-anchor="middle" >2</text>
<text x="356.0" y="34.0" font-size="27.3" text-anchor="middle" >4</text>
<text x="674.0" y="34.0" font-size="27.3" text-anchor="middle" >6</text>
<text x="1050.0" y="34.0" font-size="27.3" text-anchor="middle" >8</text>
<text x="1311.0" y="34.0" font-size="27.3" text-anchor="middle" >10</text>
<line x1="132.6" y1="10.0" x2="132.6" y2="415.4" stroke="#000" stroke-width="2.1"/>
<line x1="112.1" y1="415.4" x2="132.6" y2="415.4" stroke="#000" stroke-width="2.1"/>
<text x="101.0" y="425.1" font-size="27.3" text-anchor="end" >16</text>
<line x1="122.1" y1="364.8" x2="132.6" y2="364.8" stroke="#000" stroke-width="2.1"/>
<line x1="112.1" y1="314.1" x2="132.6" y2="314.1" stroke="#000" stroke-width="2.1"/>
<text x="101.0" y="323.8" font-size="27.3" text-anchor="end" >20</text>
<line x1="122.1" y1="263.4" x2="132.6" y2="263.4" stroke="#000" stroke-width="2.1"/>
<line x1="112.1" y1="212.7" x2="132.6" y2="212.7" stroke="#000" stroke-width="2.1"/>
<text x="101.0" y="222.4" font-size="27.3" text-anchor="end" >24</text>
<line x1="122.1" y1="162.0" x2="132.6" y2="162.0" stroke="#000" stroke-width="2.1"/>
<line x1="112.1" y1="111.4" x2="132.6" y2="111.4" stroke="#000" stroke-width="2.1"/>
<text x="101.0" y="121.1" font-size="27.3" text-anchor="end" >28</text>
<line x1="122.1" y1="60.7" x2="132.6" y2="60.7" stroke="#000" stroke-width="2.1"/>
<line x1="112.1" y1="10.0" x2="132.6" y2="10.0" stroke="#000" stroke-width="2.1"/>
<text x="101.0" y="19.7" font-size="27.3" text-anchor="end" >32</text>
<text id="rt1" transform="translate(53.3,214.0) rotate(-90)" font-size="28" text-anchor="middle" >Temperature (°C)</text>
<line x1="132.6" y1="605.0" x2="132.6" y2="806.6" stroke="#000" stroke-width="2.1"/>
<line x1="112.1" y1="605.0" x2="132.6" y2="605.0" stroke="#000" stroke-width="2.1"/>
<text x="101.0" y="614.7" font-size="27.3" text-anchor="end" >28</text>
<line x1="112.1" y1="672.2" x2="132.6" y2="672.2" stroke="#000" stroke-width="2.1"/>
<text x="101.0" y="681.9" font-size="27.3" text-anchor="end" >26</text>
<line x1="112.1" y1="739.4" x2="132.6" y2="739.4" stroke="#000" stroke-width="2.1"/>
<text x="101.0" y="749.1" font-size="27.3" text-anchor="end" >24</text>
<line x1="112.1" y1="806.6" x2="132.6" y2="806.6" stroke="#000" stroke-width="2.1"/>
<text x="101.0" y="816.3" font-size="27.3" text-anchor="end" >22</text>
<line x1="132.6" y1="940.5" x2="132.6" y2="1560.0" stroke="#000" stroke-width="2.1"/>
<line x1="112.1" y1="940.5" x2="132.6" y2="940.5" stroke="#000" stroke-width="2.1"/>
<text x="101.0" y="950.2" font-size="27.3" text-anchor="end" >0</text>
<line x1="122.1" y1="974.2" x2="132.6" y2="974.2" stroke="#000" stroke-width="2.1"/>
<line x1="112.1" y1="1007.9" x2="132.6" y2="1007.9" stroke="#000" stroke-width="2.1"/>
<text x="101.0" y="1017.6" font-size="27.3" text-anchor="end" >0.5</text>
<line x1="122.1" y1="1041.6" x2="132.6" y2="1041.6" stroke="#000" stroke-width="2.1"/>
<line x1="112.1" y1="1075.3" x2="132.6" y2="1075.3" stroke="#000" stroke-width="2.1"/>
<text x="101.0" y="1085.0" font-size="27.3" text-anchor="end" >1</text>
<line x1="122.1" y1="1109.0" x2="132.6" y2="1109.0" stroke="#000" stroke-width="2.1"/>
<line x1="112.1" y1="1142.7" x2="132.6" y2="1142.7" stroke="#000" stroke-width="2.1"/>
<text x="101.0" y="1152.4" font-size="27.3" text-anchor="end" >1.5</text>
<line x1="122.1" y1="1176.4" x2="132.6" y2="1176.4" stroke="#000" stroke-width="2.1"/>
<line x1="112.1" y1="1210.1" x2="132.6" y2="1210.1" stroke="#000" stroke-width="2.1"/>
<text x="101.0" y="1219.8" font-size="27.3" text-anchor="end" >2</text>
<line x1="122.1" y1="1243.8" x2="132.6" y2="1243.8" stroke="#000" stroke-width="2.1"/>
<line x1="112.1" y1="1277.5" x2="132.6" y2="1277.5" stroke="#000" stroke-width="2.1"/>
<text x="101.0" y="1287.2" font-size="27.3" text-anchor="end" >2.5</text>
<line x1="122.1" y1="1311.2" x2="132.6" y2="1311.2" stroke="#000" stroke-width="2.1"/>
<line x1="112.1" y1="1344.9" x2="132.6" y2="1344.9" stroke="#000" stroke-width="2.1"/>
<text x="101.0" y="1354.6" font-size="27.3" text-anchor="end" >3</text>
<line x1="132.6" y1="1302.0" x2="152.6" y2="1302.0" stroke="#000" stroke-width="2.1"/>
<text x="174.0" y="1311.7" font-size="27.3" text-anchor="start" >0</text>
<line x1="132.6" y1="1354.7" x2="143.6" y2="1354.7" stroke="#000" stroke-width="2.1"/>
<line x1="132.6" y1="1407.4" x2="152.6" y2="1407.4" stroke="#000" stroke-width="2.1"/>
<text x="174.0" y="1417.1" font-size="27.3" text-anchor="start" >1</text>
<line x1="132.6" y1="1460.1" x2="143.6" y2="1460.1" stroke="#000" stroke-width="2.1"/>
<line x1="132.6" y1="1512.8" x2="152.6" y2="1512.8" stroke="#000" stroke-width="2.1"/>
<text x="174.0" y="1522.5" font-size="27.3" text-anchor="start" >2</text>
<line x1="131.7" y1="1527.0" x2="1346.9" y2="1527.0" stroke="#000" stroke-width="2.1"/>
<line x1="132.6" y1="1527.0" x2="132.6" y2="1548.0" stroke="#000" stroke-width="2.1"/>
<text x="132.6" y="1592.0" font-size="27.3" text-anchor="middle" >0</text>
<line x1="200.0" y1="1527.0" x2="200.0" y2="1537.5" stroke="#000" stroke-width="2.1"/>
<line x1="267.4" y1="1527.0" x2="267.4" y2="1548.0" stroke="#000" stroke-width="2.1"/>
<text x="267.4" y="1592.0" font-size="27.3" text-anchor="middle" >40</text>
<line x1="334.8" y1="1527.0" x2="334.8" y2="1537.5" stroke="#000" stroke-width="2.1"/>
<line x1="402.2" y1="1527.0" x2="402.2" y2="1548.0" stroke="#000" stroke-width="2.1"/>
<text x="402.2" y="1592.0" font-size="27.3" text-anchor="middle" >80</text>
<line x1="469.7" y1="1527.0" x2="469.7" y2="1537.5" stroke="#000" stroke-width="2.1"/>
<line x1="537.1" y1="1527.0" x2="537.1" y2="1548.0" stroke="#000" stroke-width="2.1"/>
<text x="537.1" y="1592.0" font-size="27.3" text-anchor="middle" >120</text>
<line x1="604.5" y1="1527.0" x2="604.5" y2="1537.5" stroke="#000" stroke-width="2.1"/>
<line x1="671.9" y1="1527.0" x2="671.9" y2="1548.0" stroke="#000" stroke-width="2.1"/>
<text x="671.9" y="1592.0" font-size="27.3" text-anchor="middle" >160</text>
<line x1="739.3" y1="1527.0" x2="739.3" y2="1537.5" stroke="#000" stroke-width="2.1"/>
<line x1="806.7" y1="1527.0" x2="806.7" y2="1548.0" stroke="#000" stroke-width="2.1"/>
<text x="806.7" y="1592.0" font-size="27.3" text-anchor="middle" >200</text>
<line x1="874.1" y1="1527.0" x2="874.1" y2="1537.5" stroke="#000" stroke-width="2.1"/>
<line x1="941.5" y1="1527.0" x2="941.5" y2="1548.0" stroke="#000" stroke-width="2.1"/>
<text x="941.5" y="1592.0" font-size="27.3" text-anchor="middle" >240</text>
<line x1="1009.0" y1="1527.0" x2="1009.0" y2="1537.5" stroke="#000" stroke-width="2.1"/>
<line x1="1076.4" y1="1527.0" x2="1076.4" y2="1548.0" stroke="#000" stroke-width="2.1"/>
<text x="1076.4" y="1592.0" font-size="27.3" text-anchor="middle" >280</text>
<line x1="1143.8" y1="1527.0" x2="1143.8" y2="1537.5" stroke="#000" stroke-width="2.1"/>
<line x1="1211.2" y1="1527.0" x2="1211.2" y2="1548.0" stroke="#000" stroke-width="2.1"/>
<text x="1211.2" y="1592.0" font-size="27.3" text-anchor="middle" >320</text>
<line x1="1278.6" y1="1527.0" x2="1278.6" y2="1537.5" stroke="#000" stroke-width="2.1"/>
<line x1="1346.0" y1="1527.0" x2="1346.0" y2="1548.0" stroke="#000" stroke-width="2.1"/>
<text x="1346.0" y="1592.0" font-size="27.3" text-anchor="middle" >360</text>
<text x="739.0" y="1624.8" font-size="28.4" text-anchor="middle" >Age (ka)</text>
<line x1="1346.0" y1="334.5" x2="1346.0" y2="1130.0" stroke="#000" stroke-width="2.1"/>
<line x1="1346.0" y1="636.9" x2="1366.0" y2="636.9" stroke="#000" stroke-width="2.1"/>
<text x="1376.0" y="646.6" font-size="27.3" text-anchor="start" >2</text>
<line x1="1346.0" y1="599.1" x2="1356.5" y2="599.1" stroke="#000" stroke-width="2.1"/>
<line x1="1346.0" y1="561.3" x2="1366.0" y2="561.3" stroke="#000" stroke-width="2.1"/>
<text x="1376.0" y="571.0" font-size="27.3" text-anchor="start" >4</text>
<line x1="1346.0" y1="523.5" x2="1356.5" y2="523.5" stroke="#000" stroke-width="2.1"/>
<line x1="1346.0" y1="485.7" x2="1366.0" y2="485.7" stroke="#000" stroke-width="2.1"/>
<text x="1376.0" y="495.4" font-size="27.3" text-anchor="start" >6</text>
<line x1="1346.0" y1="447.9" x2="1356.5" y2="447.9" stroke="#000" stroke-width="2.1"/>
<line x1="1346.0" y1="410.1" x2="1366.0" y2="410.1" stroke="#000" stroke-width="2.1"/>
<text x="1376.0" y="419.8" font-size="27.3" text-anchor="start" >8</text>
<line x1="1346.0" y1="372.3" x2="1356.5" y2="372.3" stroke="#000" stroke-width="2.1"/>
<line x1="1346.0" y1="334.5" x2="1366.0" y2="334.5" stroke="#000" stroke-width="2.1"/>
<text x="1376.0" y="344.2" font-size="27.3" text-anchor="start" >10</text>
<line x1="1346.0" y1="725.8" x2="1366.0" y2="725.8" stroke="#000" stroke-width="2.1"/>
<text x="1376.0" y="735.5" font-size="27.3" text-anchor="start" >0</text>
<line x1="1346.0" y1="793.1" x2="1356.5" y2="793.1" stroke="#000" stroke-width="2.1"/>
<line x1="1346.0" y1="860.5" x2="1366.0" y2="860.5" stroke="#000" stroke-width="2.1"/>
<text x="1376.0" y="870.2" font-size="27.3" text-anchor="start" >1</text>
<line x1="1346.0" y1="927.8" x2="1356.5" y2="927.8" stroke="#000" stroke-width="2.1"/>
<line x1="1346.0" y1="995.2" x2="1366.0" y2="995.2" stroke="#000" stroke-width="2.1"/>
<text x="1376.0" y="1004.9" font-size="27.3" text-anchor="start" >2</text>
<line x1="1346.0" y1="1062.5" x2="1356.5" y2="1062.5" stroke="#000" stroke-width="2.1"/>
<line x1="1346.0" y1="1129.9" x2="1366.0" y2="1129.9" stroke="#000" stroke-width="2.1"/>
<text x="1376.0" y="1139.6" font-size="27.3" text-anchor="start" >3</text>
<line x1="1346.0" y1="1223.5" x2="1346.0" y2="1548.0" stroke="#000" stroke-width="2.1"/>
<line x1="1346.0" y1="1239.2" x2="1366.0" y2="1239.2" stroke="#000" stroke-width="2.1"/>
<text x="1376.0" y="1248.9" font-size="27.3" text-anchor="start" >0.4</text>
<line x1="1346.0" y1="1269.6" x2="1356.5" y2="1269.6" stroke="#000" stroke-width="2.1"/>
<line x1="1346.0" y1="1300.0" x2="1366.0" y2="1300.0" stroke="#000" stroke-width="2.1"/>
<text x="1376.0" y="1309.7" font-size="27.3" text-anchor="start" >0</text>
<line x1="1346.0" y1="1330.4" x2="1356.5" y2="1330.4" stroke="#000" stroke-width="2.1"/>
<line x1="1346.0" y1="1360.8" x2="1366.0" y2="1360.8" stroke="#000" stroke-width="2.1"/>
<text x="1376.0" y="1370.5" font-size="27.3" text-anchor="start" >-0.4</text>
<line x1="1346.0" y1="1391.2" x2="1356.5" y2="1391.2" stroke="#000" stroke-width="2.1"/>
<line x1="1346.0" y1="1421.6" x2="1366.0" y2="1421.6" stroke="#000" stroke-width="2.1"/>
<text x="1376.0" y="1431.3" font-size="27.3" text-anchor="start" >-0.8</text>
<line x1="1346.0" y1="1452.0" x2="1356.5" y2="1452.0" stroke="#000" stroke-width="2.1"/>
<line x1="1346.0" y1="1482.4" x2="1366.0" y2="1482.4" stroke="#000" stroke-width="2.1"/>
<text x="1376.0" y="1492.1" font-size="27.3" text-anchor="start" >-1.2</text>
<line x1="1346.0" y1="1512.8" x2="1356.5" y2="1512.8" stroke="#000" stroke-width="2.1"/>
<text x="1312.0" y="91.7" font-size="41" text-anchor="start" fill="#fa0000" font-weight="bold">a</text>
<text x="1310.0" y="350.7" font-size="41" text-anchor="start" fill="#0000f5" font-weight="bold">b</text>
<text x="1310.0" y="446.7" font-size="41" text-anchor="start" fill="#006837" font-weight="bold">c</text>
<text x="1304.0" y="682.7" font-size="41" text-anchor="start" fill="#fa0000" font-weight="bold">d</text>
<text x="1308.0" y="884.7" font-size="41" text-anchor="start" fill="#0000f5" font-weight="bold">e</text>
<text x="1313.0" y="1054.7" font-size="41" text-anchor="start" fill="#fa0000" font-weight="bold">f</text>
<text x="1309.0" y="1265.7" font-size="41" text-anchor="start" fill="#0000f5" font-weight="bold">g</text>
<text x="1306.0" y="1491.7" font-size="41" text-anchor="start" fill="#006837" font-weight="bold">h</text>
<text x="191" y="73" font-size="37" fill="#fa0000">SST<tspan font-size="23" font-style="italic" dx="7" dy="9.5">G. ruber</tspan></text>
<text x="172" y="347.5" font-size="37" fill="#0000f5">subT<tspan font-size="23" font-style="italic" dx="7" dy="9">N. dutertrei</tspan></text>
<text x="228.0" y="1012.0" font-size="39.5" text-anchor="start" fill="#fa0000" font-style="italic">G. ruber</text>
<text x="1063.0" y="1237.5" font-size="39.5" text-anchor="start" fill="#0000f5" font-style="italic">N. dutertrei</text>
<text id="rt2" transform="translate(1443.0,486.0) rotate(-90)" font-size="28.9" text-anchor="middle" fill="#006837" >ΔT<tspan font-size="19.6" font-style="italic" dy="6">G-N</tspan><tspan dy="-6"> (°C)</tspan></text>
<text id="rt3" transform="translate(49.5,699.5) rotate(-90)" font-size="29.4" text-anchor="middle" >MD<tspan fill="#f78fbf">97-2125</tspan> &amp; <tspan fill="#fa0000">06-3018</tspan> SST<tspan font-size="20" font-style="italic" dy="7">G. ruber</tspan><tspan dy="-7"> (</tspan><tspan font-size="17" dy="-9">o</tspan><tspan dy="9">C)</tspan></text>
<text id="rt4" transform="translate(1427.0,928.0) rotate(-90)" font-size="28" text-anchor="middle" >MD<tspan fill="#12bdee">97-2125</tspan> &amp; <tspan fill="#0000cc">06-3018</tspan> δ<tspan font-size="17" dy="-10">18</tspan><tspan dy="10">O</tspan><tspan font-size="19" dy="6">sw</tspan><tspan dy="-6" font-size="21" font-style="italic"> G.ruber</tspan> (‰)</text>
<text id="rt5" transform="translate(42.5,1145.0) rotate(-90)" font-size="26.6" text-anchor="middle" >δ<tspan font-size="16" dy="-9">18</tspan><tspan dy="9">O</tspan><tspan font-size="18" dy="5">sw</tspan><tspan dy="-5"> (‰)</tspan></text>
<text id="rt6" transform="translate(1460.0,1376.0) rotate(-90)" font-size="27.6" text-anchor="middle" fill="#006837" >Δδ<tspan font-size="17" dy="-10">18</tspan><tspan dy="10">O</tspan><tspan font-size="19" dy="6">sw</tspan><tspan dy="-6" font-size="21" font-style="italic"> G-N</tspan> (‰)</text>
<text id="rt7" transform="translate(27.5,1408.0) rotate(-90)" font-size="30.6" text-anchor="middle" fill="#0a8a3c" >ΔS<tspan font-size="19" font-style="italic" dy="6">N-G</tspan></text>
<polygon points="52,1271 34,1536 70.5,1536" fill="#0b9a3c"/>
<path d="M42,1519.5h20M52,1509.5v20" stroke="#fff" stroke-width="6" fill="none"/>
<defs><linearGradient id="gb" x1="0" x2="1" y1="0" y2="0"><stop offset="0" stop-color="#e2e2e2"/><stop offset="0.22" stop-color="#e6dcdc"/><stop offset="0.5" stop-color="#ffc9c9"/><stop offset="0.78" stop-color="#e6dcdc"/><stop offset="1" stop-color="#e2e2e2"/></linearGradient></defs>
<rect x="1547.8" y="113.4" width="23.8" height="502.0" fill="url(#gb)"/>
<rect x="1681.4" y="113.4" width="25.2" height="502.0" fill="url(#gb)"/>
<path d="M1524.0,363.4C1526.3,363.9 1533.3,364.7 1538.0,366.2C1542.7,367.7 1547.3,370.2 1552.0,372.4C1556.7,374.6 1561.3,376.6 1566.0,379.4C1570.7,382.2 1575.3,385.7 1580.0,389.2C1584.7,392.7 1589.3,396.9 1594.0,400.4C1598.7,403.9 1604.7,408.2 1608.0,410.2C1611.3,412.2 1610.3,410.3 1613.6,412.6C1616.9,414.9 1622.9,420.1 1627.6,423.8C1632.3,427.5 1636.9,431.5 1641.6,435.0C1646.3,438.5 1650.9,441.3 1655.6,444.8C1660.3,448.3 1664.9,452.3 1669.6,456.0C1674.3,459.7 1678.9,463.7 1683.6,467.2C1688.3,470.7 1692.9,474.0 1697.6,477.0C1702.3,480.0 1706.9,482.6 1711.6,485.4C1716.3,488.2 1720.9,490.8 1725.6,493.8C1730.3,496.8 1734.9,500.6 1739.6,503.6C1744.3,506.6 1748.9,509.4 1753.6,512.0C1758.3,514.6 1762.9,516.7 1767.6,519.0C1772.3,521.3 1776.9,523.8 1781.6,526.0C1786.3,528.2 1790.9,530.3 1795.6,532.4C1800.3,534.5 1804.9,536.7 1809.6,538.6C1814.3,540.5 1818.9,542.0 1823.6,543.6C1828.3,545.3 1832.9,546.9 1837.6,548.4C1842.3,549.9 1846.9,551.3 1851.6,552.6C1856.3,553.9 1860.9,555.1 1865.6,556.2C1870.3,557.4 1874.9,558.6 1879.6,559.6C1884.3,560.6 1888.9,561.5 1893.6,562.4C1898.3,563.3 1902.6,564.2 1907.6,565.2C1912.6,566.2 1920.9,568.0 1923.6,568.6" fill="none" stroke="#f66" stroke-width="1.8" stroke-dasharray="3.4 3.6"/>
<path d="M1524.0,468.0C1533.3,468.5 1561.3,469.4 1580.0,470.6C1598.7,471.7 1617.3,473.2 1636.0,475.0C1654.7,476.9 1673.3,479.1 1692.0,481.8C1710.7,484.4 1729.3,487.8 1748.0,491.0C1766.7,494.2 1785.3,497.5 1804.0,500.8C1822.7,504.1 1840.1,507.3 1860.0,510.6C1879.9,513.9 1913.0,518.8 1923.6,520.4" fill="none" stroke="#66f" stroke-width="1.8" stroke-dasharray="3.4 3.6"/>
<path d="M1522.6,616.2C1523.1,615.6 1524.5,615.2 1525.4,612.8C1526.3,610.4 1527.3,605.1 1528.2,601.6C1529.1,598.1 1530.2,594.2 1531.0,591.8C1531.8,589.4 1532.5,587.5 1533.2,587.0C1533.9,586.6 1534.4,587.7 1535.2,589.0C1536.0,590.3 1537.2,593.4 1538.0,594.6C1538.8,595.8 1539.5,597.2 1540.2,596.0C1540.9,594.8 1541.5,594.1 1542.2,587.6C1542.9,581.1 1543.6,569.4 1544.2,556.8C1544.8,544.2 1545.2,528.8 1545.8,512.0C1546.4,495.2 1546.8,487.7 1547.8,456.0C1548.8,424.3 1550.9,360.2 1552.0,322.0C1553.1,283.8 1553.5,253.9 1554.2,226.8C1554.9,199.7 1555.5,175.4 1556.2,159.6C1556.9,143.8 1557.5,132.2 1558.2,132.2C1558.9,132.2 1559.6,141.0 1560.4,159.6C1561.2,178.2 1562.3,211.9 1563.2,243.6C1564.1,275.3 1565.1,315.9 1566.0,350.0C1566.9,384.1 1568.3,421.0 1568.8,448.0C1569.3,475.0 1568.8,496.4 1569.1,512.0C1569.3,527.6 1569.8,536.7 1570.2,541.4C1570.6,546.1 1571.0,544.0 1571.6,540.0C1572.2,536.0 1573.1,526.0 1573.8,517.6C1574.5,509.2 1575.1,497.5 1575.8,489.6C1576.5,481.7 1577.2,474.1 1577.8,470.0C1578.3,465.9 1578.7,465.0 1579.2,465.0C1579.6,465.0 1580.0,465.4 1580.6,470.0C1581.2,474.6 1582.1,482.6 1582.8,492.4C1583.5,502.2 1584.3,517.1 1585.0,528.8C1585.7,540.5 1586.3,554.6 1587.0,562.4C1587.7,570.2 1588.4,574.9 1589.0,575.8C1589.6,576.8 1590.0,573.0 1590.6,568.0C1591.2,563.0 1591.9,553.5 1592.6,545.6C1593.3,537.7 1594.0,527.2 1594.6,520.4C1595.2,513.6 1595.7,508.5 1596.2,505.0C1596.8,501.5 1597.2,499.4 1597.6,499.4C1598.1,499.4 1598.5,500.1 1599.0,505.0C1599.6,509.9 1600.3,519.7 1601.0,528.8C1601.7,537.9 1602.3,549.3 1603.0,559.6C1603.7,569.9 1604.5,582.9 1605.2,590.4C1605.9,597.9 1606.6,603.5 1607.2,604.4C1607.8,605.3 1608.2,603.9 1608.8,596.0C1609.4,588.1 1610.1,571.7 1610.8,556.8C1611.5,541.9 1612.3,524.1 1613.0,506.4C1613.7,488.7 1614.6,464.3 1615.0,450.4C1615.4,436.5 1614.9,431.8 1615.3,422.8C1615.7,413.8 1616.7,401.3 1617.2,396.2C1617.8,391.1 1617.9,391.8 1618.4,392.0C1618.8,392.2 1619.2,391.5 1619.8,397.6C1620.4,403.7 1621.5,418.7 1622.0,428.4C1622.5,438.1 1622.1,442.1 1622.6,456.0C1623.0,469.9 1624.1,493.3 1624.8,512.0C1625.5,530.7 1626.3,552.6 1627.0,568.0C1627.8,583.4 1628.5,596.4 1629.3,604.4C1630.0,612.4 1630.8,614.8 1631.5,616.2C1632.3,617.6 1633.0,614.3 1633.8,612.8C1634.5,611.3 1635.3,607.9 1636.0,607.2C1636.7,606.5 1637.5,607.1 1638.2,608.6C1638.9,610.1 1639.5,615.2 1640.2,616.2C1640.9,617.1 1641.5,617.6 1642.2,614.2C1642.9,610.8 1643.7,608.4 1644.4,596.0C1645.1,583.6 1645.9,558.7 1646.6,540.0C1647.3,521.3 1647.9,502.7 1648.6,484.0C1649.3,465.3 1650.0,443.3 1650.6,428.0C1651.2,412.7 1651.6,405.0 1652.2,392.0C1652.8,379.0 1653.7,358.2 1654.2,350.0C1654.7,341.8 1654.7,343.0 1655.0,343.0C1655.4,343.0 1655.9,342.3 1656.4,350.0C1657.0,357.7 1657.7,373.9 1658.4,389.2C1659.1,404.5 1659.9,423.9 1660.6,442.0C1661.3,460.1 1661.9,479.3 1662.6,498.0C1663.3,516.7 1663.9,537.7 1664.6,554.0C1665.3,570.3 1666.1,586.2 1666.8,596.0C1667.5,605.8 1668.3,610.2 1669.0,612.8C1669.7,615.4 1670.3,613.3 1671.0,611.4C1671.7,609.5 1672.5,604.3 1673.2,601.6C1673.9,598.9 1674.5,596.1 1675.2,595.4C1675.9,594.7 1676.7,595.7 1677.4,597.4C1678.2,599.1 1679.0,604.3 1679.7,605.8C1680.3,607.3 1680.7,608.7 1681.4,606.6C1682.0,604.5 1682.9,600.1 1683.6,593.2C1684.3,586.3 1685.1,576.4 1685.8,565.2C1686.6,554.0 1687.3,538.1 1688.1,526.0C1688.8,513.9 1689.7,500.6 1690.3,492.4C1691.0,484.2 1691.4,480.3 1692.0,477.0C1692.6,473.7 1693.1,472.6 1693.7,472.8C1694.2,473.0 1694.7,473.7 1695.4,478.4C1696.0,483.1 1696.8,490.5 1697.6,500.8C1698.4,511.1 1699.5,527.9 1700.4,540.0C1701.3,552.1 1702.3,565.0 1703.2,573.6C1704.1,582.2 1705.0,588.2 1706.0,591.8C1707.0,595.4 1708.3,594.5 1709.4,595.4C1710.4,596.4 1711.2,595.9 1712.2,597.4C1713.1,598.9 1714.0,602.8 1715.0,604.4C1715.9,606.0 1716.9,607.4 1717.8,607.2C1718.6,607.0 1719.2,606.7 1720.0,603.0C1720.8,599.3 1721.9,592.0 1722.8,584.8C1723.7,577.6 1724.7,566.1 1725.6,559.6C1726.5,553.1 1727.6,548.5 1728.4,545.6C1729.2,542.7 1729.7,542.0 1730.4,542.2C1731.1,542.5 1731.8,542.7 1732.6,547.0C1733.4,551.3 1734.5,560.3 1735.4,568.0C1736.3,575.7 1737.3,586.9 1738.2,593.2C1739.1,599.5 1740.1,604.2 1741.0,605.8C1741.9,607.4 1742.9,605.6 1743.8,603.0C1744.7,600.4 1745.7,594.6 1746.6,590.4C1747.5,586.2 1748.5,580.5 1749.4,577.8C1750.3,575.1 1751.3,573.9 1752.2,574.2C1753.1,574.4 1754.1,576.0 1755.0,579.2C1755.9,582.4 1756.9,589.0 1757.8,593.2C1758.7,597.4 1759.7,601.8 1760.6,604.4C1761.5,607.0 1762.2,608.0 1763.4,608.6C1764.6,609.2 1766.2,607.9 1767.6,607.8C1769.0,607.6 1770.4,607.4 1771.8,607.8C1773.2,608.1 1774.7,609.7 1776.0,610.0C1777.3,610.3 1778.2,610.8 1779.4,609.4C1780.5,608.0 1781.7,605.0 1783.0,601.6C1784.3,598.2 1785.9,592.5 1787.2,589.0C1788.5,585.5 1789.5,582.4 1790.6,580.6C1791.6,578.8 1792.4,578.4 1793.4,578.4C1794.3,578.4 1795.1,578.6 1796.2,580.6C1797.2,582.6 1798.5,587.4 1799.8,590.4C1801.1,593.4 1802.6,596.6 1804.0,598.8C1805.4,601.0 1806.8,602.2 1808.2,603.8C1809.6,605.5 1811.0,607.3 1812.4,608.6C1813.8,609.9 1815.3,611.4 1816.6,611.4C1817.9,611.4 1819.1,610.5 1820.2,608.6C1821.4,606.7 1822.6,602.4 1823.6,600.2C1824.6,598.0 1825.5,596.1 1826.4,595.4C1827.3,594.7 1828.2,594.7 1829.2,596.0C1830.2,597.3 1831.4,600.9 1832.6,603.0C1833.7,605.1 1835.0,607.7 1836.2,608.6C1837.4,609.5 1838.7,609.3 1839.8,608.6C1841.0,607.9 1842.1,605.7 1843.2,604.4C1844.3,603.1 1845.5,601.5 1846.6,601.0C1847.6,600.6 1848.3,600.7 1849.4,601.6C1850.4,602.5 1851.9,605.5 1853.0,606.6C1854.1,607.8 1854.9,609.0 1855.8,608.6C1856.7,608.2 1857.7,606.5 1858.6,604.4C1859.5,602.3 1860.5,598.4 1861.4,596.0C1862.3,593.6 1863.4,591.0 1864.2,589.8C1865.0,588.7 1865.4,588.2 1866.2,589.0C1867.0,589.8 1867.9,592.0 1869.0,594.6C1870.0,597.2 1871.4,602.2 1872.6,604.4C1873.8,606.6 1875.1,607.8 1876.2,607.8C1877.4,607.8 1878.3,605.7 1879.6,604.4C1880.9,603.1 1882.4,601.2 1883.8,600.2C1885.2,599.2 1886.7,599.4 1888.0,598.2C1889.3,597.1 1890.3,595.4 1891.4,593.2C1892.4,591.0 1893.2,587.1 1894.2,584.8C1895.1,582.5 1896.0,580.4 1897.0,579.2C1897.9,578.0 1898.8,577.6 1899.8,577.8C1900.7,578.0 1901.6,578.5 1902.6,580.6C1903.5,582.7 1904.4,586.9 1905.4,590.4C1906.3,593.9 1907.2,598.6 1908.2,601.6C1909.1,604.6 1909.9,607.1 1911.0,608.6C1912.0,610.1 1913.4,610.7 1914.6,610.6C1915.8,610.4 1917.1,608.4 1918.2,607.8C1919.4,607.1 1920.7,606.6 1921.6,606.6C1922.5,606.6 1923.2,607.6 1923.6,607.8" fill="none" stroke="#fa0000" stroke-width="1.9" stroke-linejoin="round"/>
<path d="M1524.0,616.2C1524.7,614.7 1526.8,613.4 1528.2,607.2C1529.6,601.0 1531.0,592.7 1532.4,579.2C1533.8,565.7 1535.4,544.2 1536.6,526.0C1537.8,507.8 1538.5,488.7 1539.4,470.0C1540.3,451.3 1541.1,448.0 1542.2,414.0C1543.3,380.0 1544.7,303.7 1545.8,266.0C1547.0,228.3 1548.2,207.2 1549.2,187.6C1550.2,168.0 1551.1,156.8 1552.0,148.4C1552.9,140.0 1553.9,137.7 1554.8,137.2C1555.7,136.7 1556.6,138.1 1557.6,145.6C1558.6,153.1 1559.8,164.7 1561.0,182.0C1562.1,199.3 1563.4,225.9 1564.6,249.2C1565.8,272.5 1567.1,298.2 1568.2,322.0C1569.4,345.8 1570.8,372.0 1571.6,392.0C1572.4,412.0 1572.3,426.7 1573.0,442.0C1573.7,457.3 1574.9,473.0 1575.8,484.0C1576.7,495.0 1577.7,502.7 1578.6,507.8C1579.5,512.9 1580.5,513.9 1581.4,514.8C1582.3,515.7 1583.3,514.6 1584.2,513.4C1585.1,512.2 1586.1,509.1 1587.0,507.8C1587.9,506.5 1588.9,505.4 1589.8,505.8C1590.7,506.3 1591.7,507.7 1592.6,510.6C1593.5,513.5 1594.5,517.8 1595.4,523.2C1596.3,528.6 1597.3,535.8 1598.2,542.8C1599.1,549.8 1600.1,558.2 1601.0,565.2C1601.9,572.2 1602.9,579.7 1603.8,584.8C1604.7,589.9 1605.9,593.9 1606.6,596.0C1607.3,598.1 1607.3,598.8 1608.0,597.4C1608.7,596.0 1609.9,593.0 1610.8,587.6C1611.7,582.2 1612.7,573.1 1613.6,565.2C1614.5,557.3 1615.5,546.8 1616.4,540.0C1617.3,533.2 1618.4,527.8 1619.2,524.6C1620.0,521.4 1620.7,521.0 1621.4,521.0C1622.1,521.0 1622.6,521.4 1623.4,524.6C1624.2,527.8 1625.3,533.7 1626.2,540.0C1627.1,546.3 1628.1,554.9 1629.0,562.4C1629.9,569.9 1630.9,578.7 1631.8,584.8C1632.7,590.9 1633.8,596.0 1634.6,598.8C1635.4,601.6 1636.0,601.8 1636.8,601.6C1637.6,601.4 1638.5,601.1 1639.4,597.4C1640.2,593.7 1641.2,586.4 1642.2,579.2C1643.1,572.0 1644.0,561.7 1645.0,554.0C1645.9,546.3 1646.8,538.2 1647.8,533.0C1648.7,527.8 1649.7,524.6 1650.6,522.6C1651.4,520.6 1652.1,520.6 1652.8,521.0C1653.5,521.3 1654.2,521.4 1655.0,524.6C1655.9,527.8 1656.9,534.2 1657.8,540.0C1658.8,545.8 1659.6,553.1 1660.6,559.6C1661.7,566.1 1662.9,574.3 1664.0,579.2C1665.1,584.1 1666.3,587.1 1667.4,589.0C1668.4,590.9 1669.1,590.9 1670.2,590.4C1671.2,589.9 1672.6,588.8 1673.8,586.2C1675.0,583.6 1676.3,580.1 1677.4,575.0C1678.6,569.9 1679.8,562.6 1680.8,555.4C1681.8,548.2 1682.7,540.2 1683.6,531.6C1684.5,523.0 1685.5,512.9 1686.4,503.6C1687.3,494.3 1688.3,484.5 1689.2,475.6C1690.1,466.7 1691.1,457.4 1692.0,450.4C1692.9,443.4 1693.9,438.0 1694.8,433.6C1695.7,429.2 1696.7,425.9 1697.6,423.8C1698.5,421.7 1699.5,420.8 1700.4,421.0C1701.3,421.2 1702.3,422.6 1703.2,425.2C1704.1,427.8 1705.1,431.7 1706.0,436.4C1706.9,441.1 1707.9,447.6 1708.8,453.2C1709.7,458.8 1710.7,465.1 1711.6,470.0C1712.5,474.9 1713.5,479.6 1714.4,482.6C1715.3,485.6 1716.3,487.4 1717.2,488.2C1718.1,489.0 1718.8,488.5 1720.0,487.4C1721.2,486.2 1722.9,482.9 1724.2,481.2C1725.5,479.5 1726.8,477.8 1727.8,477.0C1728.9,476.2 1729.7,475.5 1730.6,476.2C1731.6,476.9 1732.5,478.0 1733.4,481.2C1734.4,484.4 1735.3,489.1 1736.2,495.2C1737.2,501.3 1738.0,509.2 1739.0,517.6C1740.1,526.0 1741.4,536.7 1742.4,545.6C1743.4,554.5 1744.3,562.9 1745.2,570.8C1746.1,578.7 1747.1,587.1 1748.0,593.2C1748.9,599.3 1749.9,603.8 1750.8,607.2C1751.7,610.6 1752.8,612.2 1753.6,613.4C1754.4,614.5 1755.0,615.0 1755.8,614.2C1756.7,613.4 1757.6,611.2 1758.6,608.6C1759.7,606.0 1761.0,601.6 1762.0,598.8C1763.0,596.0 1763.9,593.4 1764.8,591.8C1765.7,590.2 1766.7,589.2 1767.6,589.0C1768.5,588.8 1769.5,589.7 1770.4,590.4C1771.3,591.1 1772.3,592.7 1773.2,593.2C1774.1,593.7 1775.1,594.1 1776.0,593.2C1776.9,592.3 1777.9,590.9 1778.8,587.6C1779.7,584.3 1780.7,579.2 1781.6,573.6C1782.5,568.0 1783.5,560.5 1784.4,554.0C1785.3,547.5 1786.3,540.5 1787.2,534.4C1788.1,528.3 1789.1,521.9 1790.0,517.6C1790.9,513.3 1792.0,510.4 1792.8,508.6C1793.6,506.9 1794.3,506.8 1795.0,507.0C1795.7,507.1 1796.2,507.5 1797.0,509.8C1797.8,512.0 1798.9,515.4 1799.8,520.4C1800.7,525.4 1801.7,533.0 1802.6,540.0C1803.5,547.0 1804.5,555.4 1805.4,562.4C1806.3,569.4 1807.3,576.4 1808.2,582.0C1809.1,587.6 1810.1,592.7 1811.0,596.0C1811.9,599.3 1812.9,600.6 1813.8,601.6C1814.7,602.6 1815.7,603.1 1816.6,602.2C1817.5,601.2 1818.5,598.7 1819.4,596.0C1820.3,593.3 1821.3,589.5 1822.2,586.2C1823.1,582.9 1824.1,579.1 1825.0,576.4C1825.9,573.7 1826.8,571.5 1827.8,570.2C1828.8,568.9 1830.1,568.2 1831.2,568.6C1832.2,568.9 1833.2,570.0 1834.2,572.2C1835.3,574.4 1836.5,578.5 1837.6,582.0C1838.7,585.5 1839.9,590.3 1841.0,593.2C1842.0,596.1 1842.8,598.1 1843.8,599.4C1844.7,600.7 1845.6,601.8 1846.6,601.0C1847.5,600.2 1848.4,597.8 1849.4,594.6C1850.3,591.4 1851.2,586.9 1852.2,582.0C1853.1,577.1 1854.0,570.1 1855.0,565.2C1855.9,560.3 1856.8,555.6 1857.8,552.6C1858.7,549.6 1859.7,548.0 1860.6,547.0C1861.4,546.0 1862.0,545.7 1862.8,546.4C1863.6,547.1 1864.7,548.1 1865.6,551.2C1866.5,554.3 1867.5,560.5 1868.4,565.2C1869.3,569.9 1870.3,574.8 1871.2,579.2C1872.1,583.6 1873.1,588.6 1874.0,591.8C1874.9,595.0 1875.9,597.0 1876.8,598.2C1877.7,599.5 1878.7,599.7 1879.6,599.4C1880.5,599.0 1881.5,597.5 1882.4,596.0C1883.3,594.5 1884.3,592.4 1885.2,590.4C1886.1,588.4 1887.1,586.0 1888.0,584.2C1888.9,582.5 1889.9,580.9 1890.8,580.0C1891.7,579.2 1892.7,579.0 1893.6,579.2C1894.5,579.4 1895.5,580.3 1896.4,581.4C1897.3,582.6 1898.3,584.3 1899.2,586.2C1900.1,588.1 1901.1,590.8 1902.0,592.6C1902.9,594.5 1903.9,596.1 1904.8,597.4C1905.7,598.7 1906.7,599.5 1907.6,600.2C1908.5,600.9 1909.0,601.1 1910.4,601.6C1911.8,602.1 1914.4,602.5 1916.0,603.0C1917.6,603.5 1918.9,603.9 1920.2,604.4C1921.5,604.9 1923.0,605.6 1923.6,605.8" fill="none" stroke="#0000f5" stroke-width="1.9" stroke-linejoin="round"/>
<path d="M1508.8,111.4H1934.6M1519.8,111.4V636.4M1923.6,111.4V636.4M1518.8,616.4H1924.6" stroke="#000" stroke-width="2.1" fill="none"/>
<line x1="1508.8" y1="111.4" x2="1519.8" y2="111.4" stroke="#000" stroke-width="2.1"/>
<text x="1497.8" y="119.9" font-size="26" text-anchor="end" font-family="'Liberation Serif', serif" font-weight="bold">3</text>
<line x1="1508.8" y1="279.7" x2="1519.8" y2="279.7" stroke="#000" stroke-width="2.1"/>
<text x="1497.8" y="288.2" font-size="26" text-anchor="end" font-family="'Liberation Serif', serif" font-weight="bold">2</text>
<line x1="1508.8" y1="448.0" x2="1519.8" y2="448.0" stroke="#000" stroke-width="2.1"/>
<text x="1497.8" y="456.5" font-size="26" text-anchor="end" font-family="'Liberation Serif', serif" font-weight="bold">1</text>
<line x1="1923.6" y1="111.4" x2="1934.6" y2="111.4" stroke="#000" stroke-width="2.1"/>
<text x="1945.6" y="119.9" font-size="26" text-anchor="start" font-family="'Liberation Serif', serif" font-weight="bold">14</text>
<line x1="1923.6" y1="183.6" x2="1934.6" y2="183.6" stroke="#000" stroke-width="2.1"/>
<text x="1945.6" y="192.1" font-size="26" text-anchor="start" font-family="'Liberation Serif', serif" font-weight="bold">12</text>
<line x1="1923.6" y1="255.7" x2="1934.6" y2="255.7" stroke="#000" stroke-width="2.1"/>
<text x="1945.6" y="264.2" font-size="26" text-anchor="start" font-family="'Liberation Serif', serif" font-weight="bold">10</text>
<line x1="1923.6" y1="327.9" x2="1934.6" y2="327.9" stroke="#000" stroke-width="2.1"/>
<text x="1945.6" y="336.4" font-size="26" text-anchor="start" font-family="'Liberation Serif', serif" font-weight="bold">8</text>
<line x1="1923.6" y1="400.0" x2="1934.6" y2="400.0" stroke="#000" stroke-width="2.1"/>
<text x="1945.6" y="408.5" font-size="26" text-anchor="start" font-family="'Liberation Serif', serif" font-weight="bold">6</text>
<line x1="1923.6" y1="472.1" x2="1934.6" y2="472.1" stroke="#000" stroke-width="2.1"/>
<text x="1945.6" y="480.6" font-size="26" text-anchor="start" font-family="'Liberation Serif', serif" font-weight="bold">4</text>
<line x1="1923.6" y1="544.3" x2="1934.6" y2="544.3" stroke="#000" stroke-width="2.1"/>
<text x="1945.6" y="552.8" font-size="26" text-anchor="start" font-family="'Liberation Serif', serif" font-weight="bold">2</text>
<line x1="1519.8" y1="616.4" x2="1519.8" y2="636.4" stroke="#000" stroke-width="2.1"/>
<text x="1519.8" y="661.0" font-size="27.3" text-anchor="middle" >0</text>
<line x1="1560.2" y1="616.4" x2="1560.2" y2="626.4" stroke="#000" stroke-width="2.1"/>
<line x1="1600.6" y1="616.4" x2="1600.6" y2="636.4" stroke="#000" stroke-width="2.1"/>
<text x="1600.6" y="661.0" font-size="27.3" text-anchor="middle" >0.02</text>
<line x1="1640.9" y1="616.4" x2="1640.9" y2="626.4" stroke="#000" stroke-width="2.1"/>
<line x1="1681.3" y1="616.4" x2="1681.3" y2="636.4" stroke="#000" stroke-width="2.1"/>
<text x="1681.3" y="661.0" font-size="27.3" text-anchor="middle" >0.04</text>
<line x1="1721.7" y1="616.4" x2="1721.7" y2="626.4" stroke="#000" stroke-width="2.1"/>
<line x1="1762.1" y1="616.4" x2="1762.1" y2="636.4" stroke="#000" stroke-width="2.1"/>
<text x="1762.1" y="661.0" font-size="27.3" text-anchor="middle" >0.06</text>
<line x1="1802.5" y1="616.4" x2="1802.5" y2="626.4" stroke="#000" stroke-width="2.1"/>
<line x1="1842.8" y1="616.4" x2="1842.8" y2="636.4" stroke="#000" stroke-width="2.1"/>
<text x="1842.8" y="661.0" font-size="27.3" text-anchor="middle" >0.08</text>
<line x1="1883.2" y1="616.4" x2="1883.2" y2="626.4" stroke="#000" stroke-width="2.1"/>
<line x1="1923.6" y1="616.4" x2="1923.6" y2="636.4" stroke="#000" stroke-width="2.1"/>
<text x="1923.6" y="661.0" font-size="27.3" text-anchor="middle" >0.1</text>
<text x="1721.5" y="693.5" font-size="28" text-anchor="middle" >Frequency (kyr<tspan font-size="16" dy="-10">-1</tspan><tspan dy="10">)</tspan></text>
<text x="1523.0" y="92.4" font-size="37" text-anchor="start" font-weight="bold">i</text>
<text x="1710" y="162" font-size="39.3" font-family="'Liberation Serif', serif" font-weight="bold"><tspan fill="#fa0000">SST</tspan> &amp; <tspan fill="#0000f5">subT</tspan></text>
<text x="1530.0" y="131.6" font-size="24.5" text-anchor="start" fill="#0000f5" >111.6</text>
<text x="1567.4" y="156.2" font-size="24.5" text-anchor="start" fill="#fa0000" >103.4</text>
<text x="1630.4" y="329.8" font-size="24.5" text-anchor="start" fill="#fa0000" >29.7</text>
<text x="1591.2" y="377.4" font-size="24.5" text-anchor="start" fill="#fa0000" >41.0</text>
<text x="1673.0" y="409.4" font-size="24.5" text-anchor="start" fill="#0000f5" >22.3</text>
<text x="1716.6" y="448.6" font-size="24.5" text-anchor="start" fill="#fa0000" >23.1</text>
<text x="1743.2" y="477.4" font-size="24.5" text-anchor="start" fill="#0000f5" >19.2</text>
<text x="1853.0" y="488.0" font-size="27" text-anchor="start" font-family="'Liberation Serif', serif" font-weight="bold">95%</text>
<text id="rt8" transform="translate(1469.0,363.0) rotate(-90)" font-size="28" text-anchor="middle" fill="#0000f5" >Power</text>
<text id="rt9" transform="translate(1991.0,363.0) rotate(-90)" font-size="28" text-anchor="middle" fill="#fa0000" >Power</text>
<rect x="1548.6" y="903" width="26.4" height="502.79999999999995" fill="url(#gb)"/>
<rect x="1683.6" y="903" width="28.0" height="502.79999999999995" fill="url(#gb)"/>
<line x1="1523.0" y1="1301.6" x2="1926.0" y2="1313.6" stroke="#f33" stroke-width="1.8" stroke-dasharray="4 4"/>
<line x1="1523.0" y1="1326.2" x2="1926.0" y2="1329.0" stroke="#33f" stroke-width="1.8" stroke-dasharray="4 4"/>
<path d="M1523.4,1337.4C1524.0,1335.8 1525.8,1333.7 1526.8,1327.6C1527.8,1321.5 1528.7,1312.4 1529.6,1301.0C1530.5,1289.6 1531.5,1273.9 1532.4,1259.0C1533.3,1244.1 1534.3,1227.6 1535.2,1211.4C1536.1,1195.2 1536.8,1181.9 1538.0,1162.0C1539.2,1142.1 1540.8,1113.0 1542.2,1092.0C1543.6,1071.0 1545.0,1052.3 1546.4,1036.0C1547.8,1019.7 1549.3,1004.3 1550.6,994.0C1551.9,983.7 1553.0,978.6 1554.2,974.4C1555.5,970.2 1556.9,967.9 1558.2,968.8C1559.4,969.7 1560.5,974.4 1561.8,980.0C1563.1,985.6 1564.6,993.1 1566.0,1002.4C1567.4,1011.7 1568.8,1021.1 1570.2,1036.0C1571.6,1050.9 1573.0,1071.9 1574.4,1092.0C1575.8,1112.1 1575.9,1127.6 1578.6,1156.4C1581.3,1185.2 1587.9,1240.5 1590.4,1264.6C1592.8,1288.7 1592.5,1291.4 1593.4,1301.0C1594.4,1310.6 1595.4,1317.6 1596.2,1322.0C1597.1,1326.4 1598.0,1327.1 1598.8,1327.6C1599.6,1328.1 1600.2,1327.4 1601.0,1324.8C1601.8,1322.2 1602.9,1316.6 1603.8,1312.2C1604.7,1307.8 1605.5,1302.2 1606.6,1298.2C1607.7,1294.2 1609.1,1290.6 1610.2,1288.4C1611.4,1286.2 1612.5,1285.5 1613.6,1285.0C1614.7,1284.6 1615.8,1284.8 1617.0,1285.6C1618.1,1286.4 1619.3,1287.7 1620.6,1289.8C1621.9,1291.9 1623.4,1295.4 1624.8,1298.2C1626.2,1301.0 1627.6,1304.2 1629.0,1306.6C1630.4,1309.0 1631.8,1311.3 1633.2,1312.8C1634.6,1314.3 1636.0,1315.3 1637.4,1315.6C1638.8,1315.8 1640.2,1315.5 1641.6,1314.4C1643.0,1313.4 1644.4,1311.6 1645.8,1309.4C1647.2,1307.2 1648.6,1304.0 1650.0,1301.0C1651.4,1298.0 1652.8,1294.0 1654.2,1291.2C1655.6,1288.4 1657.0,1286.0 1658.4,1284.2C1659.8,1282.4 1661.3,1281.3 1662.6,1280.6C1663.9,1279.9 1665.1,1279.8 1666.2,1280.0C1667.4,1280.2 1668.3,1280.8 1669.6,1282.0C1670.9,1283.1 1672.5,1285.4 1673.8,1287.0C1675.1,1288.6 1676.3,1290.7 1677.4,1291.8C1678.6,1292.8 1679.7,1293.4 1680.8,1293.4C1681.9,1293.5 1683.0,1293.3 1684.2,1292.0C1685.3,1290.7 1686.6,1288.8 1687.8,1285.6C1689.0,1282.4 1690.0,1277.4 1691.2,1273.0C1692.3,1268.6 1693.6,1263.1 1694.8,1259.0C1696.0,1254.9 1697.0,1251.2 1698.2,1248.4C1699.3,1245.6 1700.6,1243.6 1701.8,1242.2C1703.0,1240.8 1704.2,1240.2 1705.4,1240.2C1706.7,1240.2 1708.1,1241.0 1709.4,1242.2C1710.6,1243.4 1711.7,1244.9 1713.0,1247.2C1714.3,1249.6 1715.8,1252.6 1717.2,1256.2C1718.6,1259.8 1720.0,1264.1 1721.4,1268.8C1722.8,1273.5 1724.2,1278.4 1725.6,1284.2C1727.0,1290.0 1728.4,1296.8 1729.8,1303.8C1731.2,1310.8 1732.6,1319.2 1734.0,1326.2C1735.4,1333.2 1736.8,1339.7 1738.2,1345.8C1739.6,1351.9 1741.0,1357.7 1742.4,1362.6C1743.8,1367.5 1745.2,1371.5 1746.6,1375.2C1748.0,1378.9 1749.4,1382.2 1750.8,1385.0C1752.2,1387.8 1753.6,1390.0 1755.0,1392.0C1756.4,1394.0 1757.8,1395.7 1759.2,1397.0C1760.6,1398.3 1762.0,1399.1 1763.4,1399.8C1764.8,1400.5 1766.2,1401.1 1767.6,1401.2C1769.0,1401.3 1770.4,1401.2 1771.8,1400.4C1773.2,1399.6 1774.6,1398.1 1776.0,1396.2C1777.4,1394.3 1778.8,1392.0 1780.2,1389.2C1781.6,1386.4 1783.0,1382.9 1784.4,1379.4C1785.8,1375.9 1787.2,1371.7 1788.6,1368.2C1790.0,1364.7 1791.4,1361.4 1792.8,1358.4C1794.2,1355.4 1795.6,1352.3 1797.0,1350.0C1798.4,1347.7 1799.8,1345.8 1801.2,1344.4C1802.6,1343.0 1804.0,1342.4 1805.4,1341.6C1806.8,1340.8 1808.2,1340.3 1809.6,1339.6C1811.0,1338.9 1812.4,1338.1 1813.8,1337.4C1815.2,1336.7 1816.6,1336.0 1818.0,1335.4C1819.4,1334.9 1820.8,1334.3 1822.2,1334.0C1823.6,1333.8 1825.0,1333.6 1826.4,1333.8C1827.8,1333.9 1829.2,1334.1 1830.6,1335.2C1832.0,1336.2 1833.4,1338.1 1834.8,1340.2C1836.2,1342.3 1837.6,1345.2 1839.0,1348.0C1840.4,1350.8 1841.8,1354.1 1843.2,1357.0C1844.6,1359.9 1846.0,1363.1 1847.4,1365.4C1848.8,1367.7 1850.2,1369.6 1851.6,1371.0C1853.0,1372.4 1854.4,1373.4 1855.8,1373.8C1857.2,1374.2 1858.6,1373.8 1860.0,1373.2C1861.4,1372.7 1862.8,1371.5 1864.2,1370.4C1865.6,1369.4 1866.8,1368.3 1868.4,1366.8C1870.0,1365.3 1872.1,1363.1 1874.0,1361.2C1875.9,1359.3 1877.7,1357.7 1879.6,1355.6C1881.5,1353.5 1883.3,1351.2 1885.2,1348.6C1887.1,1346.0 1888.9,1342.9 1890.8,1340.2C1892.7,1337.5 1894.6,1334.5 1896.4,1332.4C1898.2,1330.3 1899.8,1328.7 1901.4,1327.6C1903.1,1326.5 1904.7,1325.9 1906.2,1325.6C1907.7,1325.4 1909.0,1325.4 1910.4,1326.2C1911.8,1327.0 1913.2,1328.5 1914.6,1330.4C1916.0,1332.3 1917.4,1334.9 1918.8,1337.4C1920.2,1339.9 1921.5,1342.9 1923.0,1345.2C1924.5,1347.6 1927.0,1350.4 1927.8,1351.4" fill="none" stroke="#fa0000" stroke-width="1.9"/>
<path d="M1522.6,1395.6C1523.3,1395.0 1525.4,1394.2 1526.8,1392.0C1528.2,1389.8 1529.6,1388.0 1531.0,1382.2C1532.4,1376.4 1533.9,1368.2 1535.2,1357.0C1536.5,1345.8 1537.5,1331.3 1538.6,1315.0C1539.6,1298.7 1540.4,1277.7 1541.4,1259.0C1542.3,1240.3 1543.4,1221.5 1544.2,1203.0C1544.9,1184.5 1545.0,1168.8 1545.8,1148.0C1546.7,1127.2 1547.9,1101.3 1549.2,1078.0C1550.5,1054.7 1552.0,1026.7 1553.4,1008.0C1554.8,989.3 1556.2,976.5 1557.6,966.0C1559.0,955.5 1560.4,949.6 1561.8,945.0C1563.2,940.4 1564.7,937.4 1566.0,938.6C1567.3,939.7 1568.2,942.8 1569.4,952.0C1570.5,961.2 1571.7,975.3 1573.0,994.0C1574.3,1012.7 1575.8,1038.3 1577.2,1064.0C1578.6,1089.7 1580.2,1122.5 1581.4,1148.0C1582.6,1173.5 1583.3,1196.2 1584.2,1217.0C1585.1,1237.8 1586.1,1256.7 1587.0,1273.0C1587.9,1289.3 1588.9,1302.9 1589.8,1315.0C1590.7,1327.1 1591.7,1337.4 1592.6,1345.8C1593.5,1354.2 1594.5,1360.5 1595.4,1365.4C1596.3,1370.3 1597.3,1372.8 1598.2,1375.2C1599.1,1377.6 1599.8,1379.0 1601.0,1380.0C1602.2,1380.9 1603.8,1381.0 1605.2,1380.8C1606.6,1380.6 1608.0,1379.9 1609.4,1378.8C1610.8,1377.8 1612.2,1376.6 1613.6,1374.4C1615.0,1372.1 1616.5,1368.8 1617.8,1365.4C1619.1,1362.0 1620.4,1357.1 1621.4,1354.2C1622.5,1351.3 1623.3,1349.3 1624.2,1348.0C1625.2,1346.8 1626.0,1346.1 1627.0,1346.6C1628.1,1347.2 1629.1,1349.0 1630.4,1351.4C1631.7,1353.8 1633.2,1358.4 1634.6,1361.2C1636.0,1364.0 1637.4,1365.9 1638.8,1368.2C1640.2,1370.5 1641.6,1372.9 1643.0,1375.2C1644.4,1377.5 1645.8,1380.0 1647.2,1382.2C1648.6,1384.4 1650.0,1386.7 1651.4,1388.4C1652.8,1390.0 1654.2,1390.9 1655.6,1392.0C1657.0,1393.1 1658.4,1393.7 1659.8,1394.8C1661.2,1395.9 1662.6,1397.5 1664.0,1398.4C1665.4,1399.4 1667.0,1400.1 1668.2,1400.4C1669.4,1400.7 1669.8,1401.1 1671.0,1400.4C1672.2,1399.7 1673.8,1398.8 1675.2,1396.2C1676.6,1393.6 1678.1,1389.7 1679.4,1385.0C1680.7,1380.3 1681.9,1374.7 1683.0,1368.2C1684.2,1361.7 1685.3,1353.3 1686.4,1345.8C1687.5,1338.3 1688.6,1330.4 1689.8,1323.4C1690.9,1316.4 1692.2,1308.9 1693.4,1303.8C1694.6,1298.7 1695.9,1295.6 1697.0,1292.6C1698.2,1289.6 1699.1,1287.2 1700.4,1285.6C1701.7,1284.0 1703.3,1282.9 1704.6,1282.8C1705.9,1282.7 1707.0,1283.6 1708.2,1284.8C1709.5,1285.9 1710.7,1287.6 1712.2,1289.8C1713.7,1292.0 1715.5,1295.2 1717.2,1298.2C1718.9,1301.2 1720.6,1305.0 1722.2,1308.0C1723.9,1311.0 1725.4,1313.9 1727.0,1316.4C1728.6,1318.9 1730.2,1320.5 1731.8,1322.8C1733.3,1325.2 1734.7,1328.0 1736.2,1330.4C1737.8,1332.8 1739.5,1335.7 1741.0,1337.4C1742.5,1339.1 1743.8,1340.0 1745.2,1340.8C1746.6,1341.6 1748.0,1341.3 1749.4,1342.2C1750.8,1343.0 1752.2,1344.0 1753.6,1345.8C1755.0,1347.6 1756.4,1350.2 1757.8,1352.8C1759.2,1355.4 1760.6,1358.6 1762.0,1361.2C1763.4,1363.8 1764.8,1366.2 1766.2,1368.2C1767.6,1370.2 1769.0,1371.9 1770.4,1373.0C1771.8,1374.0 1773.2,1374.6 1774.6,1374.4C1776.0,1374.1 1777.4,1373.3 1778.8,1371.6C1780.2,1369.8 1781.6,1367.1 1783.0,1364.0C1784.4,1360.9 1785.8,1356.8 1787.2,1352.8C1788.6,1348.8 1790.0,1343.9 1791.4,1340.2C1792.8,1336.5 1794.2,1332.7 1795.6,1330.4C1797.0,1328.1 1798.5,1327.0 1799.8,1326.2C1801.1,1325.4 1802.2,1325.3 1803.4,1325.6C1804.7,1326.0 1806.0,1326.9 1807.4,1328.4C1808.8,1329.9 1810.3,1331.9 1811.8,1334.6C1813.4,1337.3 1815.1,1340.9 1816.6,1344.4C1818.1,1347.9 1819.4,1351.9 1820.8,1355.6C1822.2,1359.3 1823.6,1363.4 1825.0,1366.8C1826.4,1370.2 1827.8,1373.7 1829.2,1376.0C1830.6,1378.4 1832.0,1379.8 1833.4,1380.8C1834.8,1381.8 1836.2,1382.4 1837.6,1382.2C1839.0,1382.0 1840.4,1381.0 1841.8,1379.4C1843.2,1377.8 1844.6,1374.8 1846.0,1372.4C1847.4,1370.0 1848.9,1366.7 1850.2,1364.8C1851.5,1363.0 1852.7,1361.9 1853.8,1361.2C1855.0,1360.5 1856.0,1360.0 1857.2,1360.4C1858.4,1360.7 1859.5,1361.6 1860.8,1363.2C1862.2,1364.7 1863.6,1366.9 1865.0,1369.6C1866.4,1372.3 1867.8,1375.7 1869.2,1379.4C1870.6,1383.1 1872.2,1388.5 1873.4,1392.0C1874.7,1395.5 1875.7,1398.4 1876.8,1400.4C1877.9,1402.4 1879.1,1403.6 1880.2,1404.0C1881.2,1404.5 1881.9,1404.5 1883.0,1403.2C1884.0,1401.9 1885.3,1399.7 1886.6,1396.2C1887.9,1392.7 1889.4,1387.3 1890.8,1382.2C1892.2,1377.1 1893.6,1370.5 1895.0,1365.4C1896.4,1360.3 1897.8,1355.2 1899.2,1351.4C1900.6,1347.6 1902.0,1344.5 1903.4,1342.4C1904.8,1340.3 1906.0,1339.6 1907.6,1338.8C1909.2,1338.0 1911.3,1337.4 1913.2,1337.4C1915.1,1337.4 1917.2,1338.1 1918.8,1338.8C1920.4,1339.5 1921.5,1340.8 1923.0,1341.6C1924.5,1342.4 1927.0,1343.5 1927.8,1343.8" fill="none" stroke="#0000f5" stroke-width="1.9"/>
<path d="M1510.2,901H1936.8M1521.2,901V1426.8M1925.8,901V1426.8M1520.2,1406.8H1926.8" stroke="#000" stroke-width="2.1" fill="none"/>
<line x1="1510.2" y1="901.0" x2="1521.2" y2="901.0" stroke="#000" stroke-width="2.1"/>
<text x="1499.2" y="909.5" font-size="26" text-anchor="end" font-family="'Liberation Serif', serif" font-weight="bold">5</text>
<line x1="1510.2" y1="1002.2" x2="1521.2" y2="1002.2" stroke="#000" stroke-width="2.1"/>
<text x="1499.2" y="1010.7" font-size="26" text-anchor="end" font-family="'Liberation Serif', serif" font-weight="bold">4</text>
<line x1="1510.2" y1="1103.3" x2="1521.2" y2="1103.3" stroke="#000" stroke-width="2.1"/>
<text x="1499.2" y="1111.8" font-size="26" text-anchor="end" font-family="'Liberation Serif', serif" font-weight="bold">3</text>
<line x1="1510.2" y1="1204.5" x2="1521.2" y2="1204.5" stroke="#000" stroke-width="2.1"/>
<text x="1499.2" y="1213.0" font-size="26" text-anchor="end" font-family="'Liberation Serif', serif" font-weight="bold">2</text>
<line x1="1510.2" y1="1305.6" x2="1521.2" y2="1305.6" stroke="#000" stroke-width="2.1"/>
<text x="1499.2" y="1314.1" font-size="26" text-anchor="end" font-family="'Liberation Serif', serif" font-weight="bold">1</text>
<line x1="1510.2" y1="1406.8" x2="1521.2" y2="1406.8" stroke="#000" stroke-width="2.1"/>
<text x="1499.2" y="1415.3" font-size="26" text-anchor="end" font-family="'Liberation Serif', serif" font-weight="bold">0</text>
<line x1="1925.8" y1="901.0" x2="1936.8" y2="901.0" stroke="#000" stroke-width="2.1"/>
<text x="1947.8" y="909.5" font-size="26" text-anchor="start" font-family="'Liberation Serif', serif" font-weight="bold">5</text>
<line x1="1925.8" y1="1002.2" x2="1936.8" y2="1002.2" stroke="#000" stroke-width="2.1"/>
<text x="1947.8" y="1010.7" font-size="26" text-anchor="start" font-family="'Liberation Serif', serif" font-weight="bold">4</text>
<line x1="1925.8" y1="1103.3" x2="1936.8" y2="1103.3" stroke="#000" stroke-width="2.1"/>
<text x="1947.8" y="1111.8" font-size="26" text-anchor="start" font-family="'Liberation Serif', serif" font-weight="bold">3</text>
<line x1="1925.8" y1="1204.5" x2="1936.8" y2="1204.5" stroke="#000" stroke-width="2.1"/>
<text x="1947.8" y="1213.0" font-size="26" text-anchor="start" font-family="'Liberation Serif', serif" font-weight="bold">2</text>
<line x1="1925.8" y1="1305.6" x2="1936.8" y2="1305.6" stroke="#000" stroke-width="2.1"/>
<text x="1947.8" y="1314.1" font-size="26" text-anchor="start" font-family="'Liberation Serif', serif" font-weight="bold">1</text>
<line x1="1521.2" y1="1406.8" x2="1521.2" y2="1426.8" stroke="#000" stroke-width="2.1"/>
<text x="1521.2" y="1451.0" font-size="27.3" text-anchor="middle" >0</text>
<line x1="1561.7" y1="1406.8" x2="1561.7" y2="1416.8" stroke="#000" stroke-width="2.1"/>
<line x1="1602.1" y1="1406.8" x2="1602.1" y2="1426.8" stroke="#000" stroke-width="2.1"/>
<text x="1602.1" y="1451.0" font-size="27.3" text-anchor="middle" >0.02</text>
<line x1="1642.6" y1="1406.8" x2="1642.6" y2="1416.8" stroke="#000" stroke-width="2.1"/>
<line x1="1683.0" y1="1406.8" x2="1683.0" y2="1426.8" stroke="#000" stroke-width="2.1"/>
<text x="1683.0" y="1451.0" font-size="27.3" text-anchor="middle" >0.04</text>
<line x1="1723.5" y1="1406.8" x2="1723.5" y2="1416.8" stroke="#000" stroke-width="2.1"/>
<line x1="1764.0" y1="1406.8" x2="1764.0" y2="1426.8" stroke="#000" stroke-width="2.1"/>
<text x="1764.0" y="1451.0" font-size="27.3" text-anchor="middle" >0.06</text>
<line x1="1804.4" y1="1406.8" x2="1804.4" y2="1416.8" stroke="#000" stroke-width="2.1"/>
<line x1="1844.9" y1="1406.8" x2="1844.9" y2="1426.8" stroke="#000" stroke-width="2.1"/>
<text x="1844.9" y="1451.0" font-size="27.3" text-anchor="middle" >0.08</text>
<line x1="1885.3" y1="1406.8" x2="1885.3" y2="1416.8" stroke="#000" stroke-width="2.1"/>
<line x1="1925.8" y1="1406.8" x2="1925.8" y2="1426.8" stroke="#000" stroke-width="2.1"/>
<text x="1925.8" y="1451.0" font-size="27.3" text-anchor="middle" >0.1</text>
<text x="1723.0" y="1483.6" font-size="28" text-anchor="middle" >Frequency (kyr<tspan font-size="16" dy="-10">-1</tspan><tspan dy="10">)</tspan></text>
<text x="1534.5" y="876.4" font-size="37" text-anchor="start" font-weight="bold">j</text>
<text x="1711.5" y="955" font-size="39.3" font-family="'Liberation Serif', serif" font-weight="bold"><tspan fill="#fa0000">SSS</tspan> &amp; <tspan fill="#0000f5">subS</tspan></text>
<text x="1545.8" y="931.0" font-size="24.5" text-anchor="start" fill="#0000f5" >89.1</text>
<text x="1577.2" y="967.4" font-size="24.5" text-anchor="start" fill="#fa0000" >109.8</text>
<text x="1679.4" y="1228.6" font-size="24.5" text-anchor="start" fill="#fa0000" >22.0</text>
<text x="1591.2" y="1273.4" font-size="24.5" text-anchor="start" fill="#fa0000" >43.2</text>
<text x="1640.2" y="1268.4" font-size="24.5" text-anchor="start" fill="#fa0000" >28.0</text>
<text x="1725.6" y="1281.0" font-size="24.5" text-anchor="start" fill="#0000f5" >22.0</text>
<text x="1857.0" y="1292.2" font-size="27" text-anchor="start" font-family="'Liberation Serif', serif" font-weight="bold">95%</text>
<text id="rt10" transform="translate(1470.0,1152.6) rotate(-90)" font-size="28" text-anchor="middle" fill="#0000f5" >Power</text>
<text id="rt11" transform="translate(1994.0,1152.6) rotate(-90)" font-size="28" text-anchor="middle" fill="#fa0000" >Power</text>
</svg>
</body></html>
